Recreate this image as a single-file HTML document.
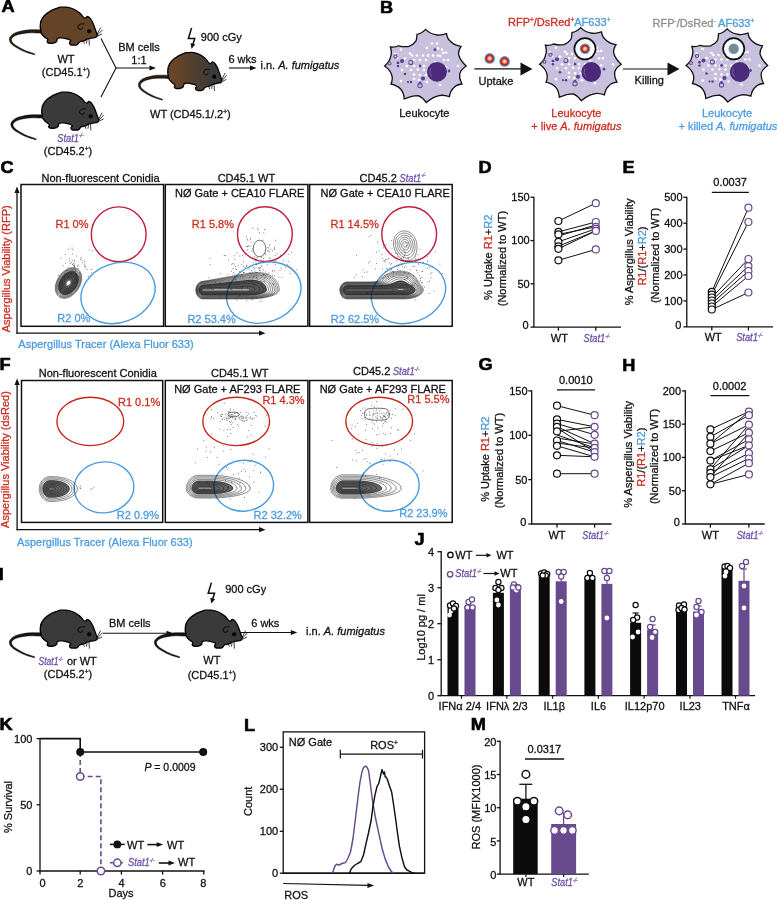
<!DOCTYPE html><html><head><meta charset="utf-8"><style>html,body{margin:0;padding:0;background:#fff;}svg{display:block;will-change:transform;}text{font-family:"Liberation Sans",sans-serif;stroke-width:0.28px;}</style></head><body>
<svg width="778" height="900" viewBox="0 0 778 900" font-family='"Liberation Sans", sans-serif'>
<rect width="778" height="900" fill="#fff"/>
<defs>
<linearGradient id="mg" x1="0" x2="1" y1="0" y2="0"><stop offset="0.1" stop-color="#6a4526"/><stop offset="0.85" stop-color="#3a3a3a"/></linearGradient>
<g id="mB">
<path d="M42.04,29.85 40.97,29.85 39.54,29.82 37.81,29.78 35.89,29.75 33.88,29.73 31.87,29.74 29.93,29.80 28.18,29.92 26.57,30.10 24.96,30.33 23.39,30.60 21.86,30.90 20.40,31.24 19.02,31.59 17.74,31.96 16.58,32.35 15.52,32.76 14.56,33.20 13.70,33.67 12.92,34.16 12.24,34.67 11.63,35.19 11.10,35.71 10.63,36.24 10.21,36.79 9.87,37.37 9.61,37.98 9.44,38.60 9.36,39.23 9.38,39.87 9.48,40.49 9.65,41.09 9.88,41.67 10.17,42.25 10.53,42.82 10.96,43.40 11.47,43.97 12.08,44.56 12.79,45.15 13.61,45.77 14.57,46.42 15.69,47.12 16.92,47.85 18.24,48.59 19.61,49.33 21.00,50.04 22.39,50.70 23.73,51.31 25.13,51.87 26.64,52.41 28.20,52.93 29.74,53.40 31.21,53.84 32.52,54.22 33.62,54.53 34.45,54.78 34.75,53.82 33.93,53.54 32.84,53.18 31.54,52.76 30.09,52.30 28.58,51.78 27.06,51.24 25.60,50.67 24.27,50.09 22.98,49.47 21.65,48.78 20.30,48.05 18.97,47.29 17.71,46.53 16.53,45.79 15.48,45.08 14.59,44.43 13.87,43.84 13.27,43.29 12.78,42.77 12.39,42.28 12.09,41.82 11.86,41.37 11.68,40.93 11.55,40.51 11.47,40.11 11.44,39.74 11.46,39.41 11.53,39.09 11.65,38.77 11.83,38.45 12.06,38.11 12.37,37.76 12.76,37.38 13.20,37.00 13.70,36.62 14.28,36.24 14.93,35.87 15.66,35.51 16.49,35.17 17.42,34.85 18.49,34.54 19.70,34.23 21.01,33.93 22.41,33.66 23.87,33.41 25.38,33.19 26.90,33.01 28.42,32.88 30.05,32.81 31.89,32.79 33.85,32.82 35.82,32.88 37.71,32.96 39.43,33.04 40.88,33.11 41.96,33.15Z" fill="#2a1c10" stroke="#000" stroke-width="0.5" stroke-linejoin="round"/>
<path d="M41.00,30.90 C40.80,28.83 39.90,28.90 40.30,25.30 C40.70,21.70 40.19,21.80 42.40,18.20 C44.61,14.60 44.08,15.40 48.10,12.60 C52.12,9.79 52.61,9.83 56.60,8.30 C60.59,6.77 58.21,7.29 62.20,7.20 C66.20,7.12 65.88,6.47 70.70,8.00 C75.52,9.53 75.32,9.77 79.20,12.60 C83.08,15.43 81.94,16.87 84.40,18.00 C86.87,19.13 85.86,15.89 87.90,16.60 C89.94,17.31 89.73,17.50 91.60,20.50 C93.47,23.50 93.20,23.94 94.50,27.20 C95.80,30.46 95.44,29.82 96.20,32.00 C96.97,34.18 97.17,33.48 97.20,34.90 C97.23,36.32 97.49,36.18 96.30,37.00 C95.11,37.82 95.07,37.35 93.00,37.80 C90.93,38.25 90.93,38.15 89.00,38.60 C87.07,39.05 87.39,38.83 86.20,39.40 C85.01,39.97 86.19,40.06 84.80,40.60 C83.41,41.14 82.89,40.85 81.30,41.30 C79.71,41.75 80.36,41.27 79.20,42.20 C78.04,43.14 78.81,43.78 77.20,44.60 C75.59,45.42 75.40,45.10 73.50,45.10 C71.60,45.10 71.63,45.25 70.50,44.60 C69.37,43.95 69.56,44.05 69.50,42.80 C69.44,41.55 71.58,41.45 70.30,40.20 C69.02,38.95 67.69,39.08 65.00,38.40 C62.31,37.72 62.90,37.74 60.80,37.80 C58.70,37.86 58.88,37.55 57.60,38.60 C56.33,39.65 57.60,40.23 56.30,41.50 C55.00,42.77 55.18,42.68 53.00,43.10 C50.82,43.52 50.24,43.42 48.60,43.00 C46.96,42.58 47.43,42.59 47.20,41.60 C46.97,40.61 48.28,40.58 47.80,39.50 C47.32,38.42 46.97,39.07 45.50,37.80 C44.03,36.52 43.88,36.47 42.60,35.00 C41.33,33.53 41.45,33.76 41.00,32.60 C40.55,31.44 41.20,32.97 41.00,30.90 Z" fill="#644429" stroke="#000" stroke-width="1.3" stroke-linejoin="round"/>
<path d="M84.6,24 C82,23.3 78.6,24 78,26.6 C77.6,28.6 79.6,29.6 81.4,29.2 C82.4,28.9 82.9,28.1 82.6,27.3" fill="none" stroke="#000" stroke-width="0.9"/>
<circle cx="89.2" cy="31.3" r="2.1" fill="#000"/>
<path d="M97,34.5 L100.6,27.6 M97.6,35 L102.4,29.8 M97.8,36 L102,34 M89,38.8 L89.4,45.6 M87,39.5 L86.5,43.6 M83.5,41.5 L84.5,43.8" stroke="#000" stroke-width="0.75" fill="none"/>
<path d="M52,42.2 L52.6,43.4 M74,44 L74.4,45 M56,41 L57.5,42" stroke="#000" stroke-width="0.5"/>
</g>
<g id="mD">
<path d="M42.04,29.85 40.97,29.85 39.54,29.82 37.81,29.78 35.89,29.75 33.88,29.73 31.87,29.74 29.93,29.80 28.18,29.92 26.57,30.10 24.96,30.33 23.39,30.60 21.86,30.90 20.40,31.24 19.02,31.59 17.74,31.96 16.58,32.35 15.52,32.76 14.56,33.20 13.70,33.67 12.92,34.16 12.24,34.67 11.63,35.19 11.10,35.71 10.63,36.24 10.21,36.79 9.87,37.37 9.61,37.98 9.44,38.60 9.36,39.23 9.38,39.87 9.48,40.49 9.65,41.09 9.88,41.67 10.17,42.25 10.53,42.82 10.96,43.40 11.47,43.97 12.08,44.56 12.79,45.15 13.61,45.77 14.57,46.42 15.69,47.12 16.92,47.85 18.24,48.59 19.61,49.33 21.00,50.04 22.39,50.70 23.73,51.31 25.13,51.87 26.64,52.41 28.20,52.93 29.74,53.40 31.21,53.84 32.52,54.22 33.62,54.53 34.45,54.78 34.75,53.82 33.93,53.54 32.84,53.18 31.54,52.76 30.09,52.30 28.58,51.78 27.06,51.24 25.60,50.67 24.27,50.09 22.98,49.47 21.65,48.78 20.30,48.05 18.97,47.29 17.71,46.53 16.53,45.79 15.48,45.08 14.59,44.43 13.87,43.84 13.27,43.29 12.78,42.77 12.39,42.28 12.09,41.82 11.86,41.37 11.68,40.93 11.55,40.51 11.47,40.11 11.44,39.74 11.46,39.41 11.53,39.09 11.65,38.77 11.83,38.45 12.06,38.11 12.37,37.76 12.76,37.38 13.20,37.00 13.70,36.62 14.28,36.24 14.93,35.87 15.66,35.51 16.49,35.17 17.42,34.85 18.49,34.54 19.70,34.23 21.01,33.93 22.41,33.66 23.87,33.41 25.38,33.19 26.90,33.01 28.42,32.88 30.05,32.81 31.89,32.79 33.85,32.82 35.82,32.88 37.71,32.96 39.43,33.04 40.88,33.11 41.96,33.15Z" fill="#151515" stroke="#000" stroke-width="0.5" stroke-linejoin="round"/>
<path d="M41.00,30.90 C40.80,28.83 39.90,28.90 40.30,25.30 C40.70,21.70 40.19,21.80 42.40,18.20 C44.61,14.60 44.08,15.40 48.10,12.60 C52.12,9.79 52.61,9.83 56.60,8.30 C60.59,6.77 58.21,7.29 62.20,7.20 C66.20,7.12 65.88,6.47 70.70,8.00 C75.52,9.53 75.32,9.77 79.20,12.60 C83.08,15.43 81.94,16.87 84.40,18.00 C86.87,19.13 85.86,15.89 87.90,16.60 C89.94,17.31 89.73,17.50 91.60,20.50 C93.47,23.50 93.20,23.94 94.50,27.20 C95.80,30.46 95.44,29.82 96.20,32.00 C96.97,34.18 97.17,33.48 97.20,34.90 C97.23,36.32 97.49,36.18 96.30,37.00 C95.11,37.82 95.07,37.35 93.00,37.80 C90.93,38.25 90.93,38.15 89.00,38.60 C87.07,39.05 87.39,38.83 86.20,39.40 C85.01,39.97 86.19,40.06 84.80,40.60 C83.41,41.14 82.89,40.85 81.30,41.30 C79.71,41.75 80.36,41.27 79.20,42.20 C78.04,43.14 78.81,43.78 77.20,44.60 C75.59,45.42 75.40,45.10 73.50,45.10 C71.60,45.10 71.63,45.25 70.50,44.60 C69.37,43.95 69.56,44.05 69.50,42.80 C69.44,41.55 71.58,41.45 70.30,40.20 C69.02,38.95 67.69,39.08 65.00,38.40 C62.31,37.72 62.90,37.74 60.80,37.80 C58.70,37.86 58.88,37.55 57.60,38.60 C56.33,39.65 57.60,40.23 56.30,41.50 C55.00,42.77 55.18,42.68 53.00,43.10 C50.82,43.52 50.24,43.42 48.60,43.00 C46.96,42.58 47.43,42.59 47.20,41.60 C46.97,40.61 48.28,40.58 47.80,39.50 C47.32,38.42 46.97,39.07 45.50,37.80 C44.03,36.52 43.88,36.47 42.60,35.00 C41.33,33.53 41.45,33.76 41.00,32.60 C40.55,31.44 41.20,32.97 41.00,30.90 Z" fill="#3a3a3a" stroke="#000" stroke-width="1.3" stroke-linejoin="round"/>
<path d="M84.6,24 C82,23.3 78.6,24 78,26.6 C77.6,28.6 79.6,29.6 81.4,29.2 C82.4,28.9 82.9,28.1 82.6,27.3" fill="none" stroke="#000" stroke-width="0.9"/>
<circle cx="89.2" cy="31.3" r="2.1" fill="#000"/>
<path d="M97,34.5 L100.6,27.6 M97.6,35 L102.4,29.8 M97.8,36 L102,34 M89,38.8 L89.4,45.6 M87,39.5 L86.5,43.6 M83.5,41.5 L84.5,43.8" stroke="#000" stroke-width="0.75" fill="none"/>
<path d="M52,42.2 L52.6,43.4 M74,44 L74.4,45 M56,41 L57.5,42" stroke="#000" stroke-width="0.5"/>
</g>
<g id="mG">
<path d="M42.04,29.85 40.97,29.85 39.54,29.82 37.81,29.78 35.89,29.75 33.88,29.73 31.87,29.74 29.93,29.80 28.18,29.92 26.57,30.10 24.96,30.33 23.39,30.60 21.86,30.90 20.40,31.24 19.02,31.59 17.74,31.96 16.58,32.35 15.52,32.76 14.56,33.20 13.70,33.67 12.92,34.16 12.24,34.67 11.63,35.19 11.10,35.71 10.63,36.24 10.21,36.79 9.87,37.37 9.61,37.98 9.44,38.60 9.36,39.23 9.38,39.87 9.48,40.49 9.65,41.09 9.88,41.67 10.17,42.25 10.53,42.82 10.96,43.40 11.47,43.97 12.08,44.56 12.79,45.15 13.61,45.77 14.57,46.42 15.69,47.12 16.92,47.85 18.24,48.59 19.61,49.33 21.00,50.04 22.39,50.70 23.73,51.31 25.13,51.87 26.64,52.41 28.20,52.93 29.74,53.40 31.21,53.84 32.52,54.22 33.62,54.53 34.45,54.78 34.75,53.82 33.93,53.54 32.84,53.18 31.54,52.76 30.09,52.30 28.58,51.78 27.06,51.24 25.60,50.67 24.27,50.09 22.98,49.47 21.65,48.78 20.30,48.05 18.97,47.29 17.71,46.53 16.53,45.79 15.48,45.08 14.59,44.43 13.87,43.84 13.27,43.29 12.78,42.77 12.39,42.28 12.09,41.82 11.86,41.37 11.68,40.93 11.55,40.51 11.47,40.11 11.44,39.74 11.46,39.41 11.53,39.09 11.65,38.77 11.83,38.45 12.06,38.11 12.37,37.76 12.76,37.38 13.20,37.00 13.70,36.62 14.28,36.24 14.93,35.87 15.66,35.51 16.49,35.17 17.42,34.85 18.49,34.54 19.70,34.23 21.01,33.93 22.41,33.66 23.87,33.41 25.38,33.19 26.90,33.01 28.42,32.88 30.05,32.81 31.89,32.79 33.85,32.82 35.82,32.88 37.71,32.96 39.43,33.04 40.88,33.11 41.96,33.15Z" fill="#2a1c10" stroke="#000" stroke-width="0.5" stroke-linejoin="round"/>
<path d="M41.00,30.90 C40.80,28.83 39.90,28.90 40.30,25.30 C40.70,21.70 40.19,21.80 42.40,18.20 C44.61,14.60 44.08,15.40 48.10,12.60 C52.12,9.79 52.61,9.83 56.60,8.30 C60.59,6.77 58.21,7.29 62.20,7.20 C66.20,7.12 65.88,6.47 70.70,8.00 C75.52,9.53 75.32,9.77 79.20,12.60 C83.08,15.43 81.94,16.87 84.40,18.00 C86.87,19.13 85.86,15.89 87.90,16.60 C89.94,17.31 89.73,17.50 91.60,20.50 C93.47,23.50 93.20,23.94 94.50,27.20 C95.80,30.46 95.44,29.82 96.20,32.00 C96.97,34.18 97.17,33.48 97.20,34.90 C97.23,36.32 97.49,36.18 96.30,37.00 C95.11,37.82 95.07,37.35 93.00,37.80 C90.93,38.25 90.93,38.15 89.00,38.60 C87.07,39.05 87.39,38.83 86.20,39.40 C85.01,39.97 86.19,40.06 84.80,40.60 C83.41,41.14 82.89,40.85 81.30,41.30 C79.71,41.75 80.36,41.27 79.20,42.20 C78.04,43.14 78.81,43.78 77.20,44.60 C75.59,45.42 75.40,45.10 73.50,45.10 C71.60,45.10 71.63,45.25 70.50,44.60 C69.37,43.95 69.56,44.05 69.50,42.80 C69.44,41.55 71.58,41.45 70.30,40.20 C69.02,38.95 67.69,39.08 65.00,38.40 C62.31,37.72 62.90,37.74 60.80,37.80 C58.70,37.86 58.88,37.55 57.60,38.60 C56.33,39.65 57.60,40.23 56.30,41.50 C55.00,42.77 55.18,42.68 53.00,43.10 C50.82,43.52 50.24,43.42 48.60,43.00 C46.96,42.58 47.43,42.59 47.20,41.60 C46.97,40.61 48.28,40.58 47.80,39.50 C47.32,38.42 46.97,39.07 45.50,37.80 C44.03,36.52 43.88,36.47 42.60,35.00 C41.33,33.53 41.45,33.76 41.00,32.60 C40.55,31.44 41.20,32.97 41.00,30.90 Z" fill="url(#mg)" stroke="#000" stroke-width="1.3" stroke-linejoin="round"/>
<path d="M84.6,24 C82,23.3 78.6,24 78,26.6 C77.6,28.6 79.6,29.6 81.4,29.2 C82.4,28.9 82.9,28.1 82.6,27.3" fill="none" stroke="#000" stroke-width="0.9"/>
<circle cx="89.2" cy="31.3" r="2.1" fill="#000"/>
<path d="M97,34.5 L100.6,27.6 M97.6,35 L102.4,29.8 M97.8,36 L102,34 M89,38.8 L89.4,45.6 M87,39.5 L86.5,43.6 M83.5,41.5 L84.5,43.8" stroke="#000" stroke-width="0.75" fill="none"/>
<path d="M52,42.2 L52.6,43.4 M74,44 L74.4,45 M56,41 L57.5,42" stroke="#000" stroke-width="0.5"/>
</g>
</defs>
<text transform="translate(1.5,12.2) scale(1.06,1)" font-size="17.2" font-weight="bold" fill="#000" stroke="#000" style="stroke-width:0.6px">A</text>
<use href="#mB" transform="translate(0,0) scale(1.0)"/>
<use href="#mD" transform="translate(1.5,85) scale(1.0)"/>
<use href="#mG" transform="translate(129.5,45.4) scale(0.95,1)"/>
<text x="66" y="62.5" font-size="11" text-anchor="middle" fill="#111" font-weight="normal" font-style="normal"  stroke="#111">WT</text>
<text x="66" y="76" font-size="11" text-anchor="middle" fill="#111" font-weight="normal" font-style="normal"  stroke="#111">(CD45.1<tspan font-size="6.5" dy="-4">+</tspan><tspan dy="4">)</tspan></text>
<text x="70.5" y="141.5" font-size="11" text-anchor="middle" fill="#6c4fa6" font-style="italic" textLength="26.5" lengthAdjust="spacingAndGlyphs" stroke="#6c4fa6">Stat1<tspan font-size="6.1" dy="-4.2">-/-</tspan></text>
<text x="68" y="155" font-size="11" text-anchor="middle" fill="#111" font-weight="normal" font-style="normal"  stroke="#111">(CD45.2<tspan font-size="6.5" dy="-4">+</tspan><tspan dy="4">)</tspan></text>
<path d="M101,38.5 L116,68 L101,97" fill="none" stroke="#111" stroke-width="1.1"/>
<line x1="116" y1="68" x2="150.0" y2="68" stroke="#111" stroke-width="1.1" />
<path d="M156,68 L149.5,65.4 L149.5,70.6 Z" fill="#111"/>
<text x="139" y="51" font-size="11" text-anchor="middle" fill="#111" font-weight="normal" font-style="normal"  stroke="#111">BM cells</text>
<text x="139" y="64" font-size="11" text-anchor="middle" fill="#111" font-weight="normal" font-style="normal"  stroke="#111">1:1</text>
<path d="M191.6,27.9 L188.4,38.5 L194.7,38.599999999999994 L192.9,44.4" fill="none" stroke="#111" stroke-width="1.55" stroke-linejoin="miter"/>
<path d="M190.5,43.099999999999994 L195.29999999999998,44.599999999999994 L191.5,48.7 Z" fill="#111"/>
<text x="200.8" y="41" font-size="11" text-anchor="start" fill="#111" font-weight="normal" font-style="normal"  stroke="#111">900 cGy</text>
<line x1="229" y1="68" x2="250.5" y2="68" stroke="#111" stroke-width="1.1" />
<path d="M256.5,68 L250.0,65.4 L250.0,70.6 Z" fill="#111"/>
<text x="242.5" y="62.8" font-size="11" text-anchor="middle" fill="#111" font-weight="normal" font-style="normal"  stroke="#111">6 wks</text>
<text x="260.5" y="69.3" font-size="11" text-anchor="start" fill="#111" font-weight="normal" font-style="normal"  stroke="#111">i.n. <tspan font-style="italic">A. fumigatus</tspan></text>
<text x="150" y="118.2" font-size="11" text-anchor="start" fill="#111" font-weight="normal" font-style="normal"  stroke="#111">WT (CD45.1/.2<tspan font-size="6.5" dy="-4">+</tspan><tspan dy="4">)</tspan></text>
<text transform="translate(380,13.2) scale(1.06,1)" font-size="17.2" font-weight="bold" fill="#000" stroke="#000" style="stroke-width:0.6px">B</text>
<defs><radialGradient id="cg"><stop offset="0" stop-color="#fdf0e0"/><stop offset="0.55" stop-color="#f2b088"/><stop offset="1" stop-color="#e0502c"/></radialGradient></defs>
<path d="M417.0,34.3 Q421.6,33.7 425.7,29.4 Q430.3,33.9 435.5,34.6 Q440.1,35.9 446.5,33.7 Q447.3,39.2 450.6,41.5 Q454.1,45.2 461.0,46.4 Q458.0,51.5 458.7,55.0 Q460.4,60.8 466.2,66.0 Q460.9,69.6 459.8,73.6 Q459.0,78.1 462.0,84.0 Q456.2,84.7 454.0,87.5 Q450.3,90.7 449.4,96.7 Q443.2,94.5 439.0,95.6 Q432.3,97.2 426.3,102.5 Q422.4,97.2 418.2,95.6 Q412.0,95.6 404.3,99.0 Q403.8,92.6 400.8,89.2 Q397.5,85.5 391.0,84.0 Q393.2,78.6 391.6,74.7 Q390.2,70.1 384.6,66.0 Q389.6,61.9 390.4,57.4 Q392.3,53.0 390.4,47.0 Q396.2,47.5 398.5,45.8 Q404.9,47.2 409.0,46.4 Q413.2,45.0 415.9,41.2 Q416.9,39.3 417.0,34.3 Z" fill="#c8c1de" stroke="#111" stroke-width="1.3" stroke-linejoin="miter"/>
<circle cx="432" cy="43.5" r="1.3" fill="#fff"/>
<circle cx="437" cy="43.5" r="1.3" fill="#fff"/>
<circle cx="427" cy="48" r="1.3" fill="#fff"/>
<circle cx="438" cy="48.5" r="1.3" fill="#fff"/>
<circle cx="442" cy="49.5" r="1.3" fill="#fff"/>
<circle cx="443" cy="53" r="1.3" fill="#fff"/>
<circle cx="446" cy="52.5" r="1.3" fill="#fff"/>
<circle cx="410" cy="53.5" r="1.3" fill="#fff"/>
<circle cx="401" cy="49.5" r="1.3" fill="#fff"/>
<circle cx="412" cy="55.5" r="1.3" fill="#fff"/>
<circle cx="417" cy="55.5" r="1.3" fill="#fff"/>
<circle cx="423" cy="55.5" r="1.3" fill="#fff"/>
<circle cx="428" cy="55.5" r="1.3" fill="#fff"/>
<circle cx="433" cy="55.5" r="1.3" fill="#fff"/>
<circle cx="438" cy="55.5" r="1.3" fill="#fff"/>
<circle cx="440" cy="56" r="1.3" fill="#fff"/>
<circle cx="397" cy="58" r="1.3" fill="#fff"/>
<circle cx="405" cy="58.5" r="1.3" fill="#fff"/>
<circle cx="414" cy="60" r="1.3" fill="#fff"/>
<circle cx="420" cy="60" r="1.3" fill="#fff"/>
<circle cx="426" cy="60" r="1.3" fill="#fff"/>
<circle cx="409" cy="62" r="1.3" fill="#fff"/>
<circle cx="398" cy="64" r="1.3" fill="#fff"/>
<circle cx="407" cy="66" r="1.3" fill="#fff"/>
<circle cx="414" cy="66" r="1.3" fill="#fff"/>
<circle cx="419" cy="66" r="1.3" fill="#fff"/>
<circle cx="424" cy="66" r="1.3" fill="#fff"/>
<circle cx="430" cy="66" r="1.3" fill="#fff"/>
<circle cx="402" cy="70" r="1.3" fill="#fff"/>
<circle cx="411" cy="70" r="1.3" fill="#fff"/>
<circle cx="418" cy="69.5" r="1.3" fill="#fff"/>
<circle cx="424" cy="70" r="1.3" fill="#fff"/>
<circle cx="430" cy="72" r="1.3" fill="#fff"/>
<circle cx="420" cy="75" r="1.3" fill="#fff"/>
<circle cx="426" cy="75" r="1.3" fill="#fff"/>
<circle cx="414" cy="74.5" r="1.3" fill="#fff"/>
<circle cx="401" cy="81" r="1.3" fill="#fff"/>
<circle cx="414" cy="79" r="1.3" fill="#fff"/>
<circle cx="419" cy="80" r="1.3" fill="#fff"/>
<circle cx="427" cy="82" r="1.3" fill="#fff"/>
<circle cx="432" cy="78" r="1.3" fill="#fff"/>
<circle cx="440" cy="85" r="1.3" fill="#fff"/>
<circle cx="446" cy="67" r="1.3" fill="#fff"/>
<circle cx="458" cy="66" r="1.3" fill="#fff"/>
<circle cx="448" cy="60" r="1.3" fill="#fff"/>
<circle cx="444" cy="60" r="1.3" fill="#fff"/>
<circle cx="435" cy="62" r="1.3" fill="#fff"/>
<circle cx="395" cy="54" r="1.3" fill="#fff"/>
<circle cx="435" cy="49.7" r="1.40" fill="#5c3d8e"/>
<circle cx="402" cy="61" r="2.02" fill="#5c3d8e"/>
<circle cx="398" cy="63" r="1.40" fill="#5c3d8e"/>
<circle cx="398" cy="66" r="1.24" fill="#5c3d8e"/>
<circle cx="420" cy="66" r="1.40" fill="#5c3d8e"/>
<circle cx="405" cy="74" r="1.24" fill="#5c3d8e"/>
<circle cx="420" cy="83" r="1.40" fill="#5c3d8e"/>
<circle cx="408" cy="82" r="1.08" fill="#5c3d8e"/>
<circle cx="411" cy="82" r="1.24" fill="#5c3d8e"/>
<circle cx="449" cy="71" r="1.40" fill="#5c3d8e"/>
<circle cx="423" cy="78.5" r="2.02" fill="#5c3d8e"/>
<circle cx="395.5" cy="56.5" r="1.62" fill="none" stroke="#6a4c9e" stroke-width="1.1"/>
<circle cx="389.5" cy="63.5" r="1.49" fill="none" stroke="#6a4c9e" stroke-width="1.1"/>
<circle cx="410.8" cy="62.4" r="2.03" fill="none" stroke="#6a4c9e" stroke-width="1.1"/>
<circle cx="420" cy="85.5" r="2.16" fill="none" stroke="#6a4c9e" stroke-width="1.1"/>
<circle cx="437" cy="71.8" r="9.9" fill="#4b2a7c"/>
<path d="M430.7,68.5 A7,7 0 0 0 431.7,76.5" fill="none" stroke="#9a86c0" stroke-width="0.6"/>
<text x="424.3" y="117" font-size="11" text-anchor="middle" fill="#111" font-weight="normal" font-style="normal"  stroke="#111">Leukocyte</text>
<circle cx="489.7" cy="58.4" r="5.3" fill="#4a9be0"/>
<circle cx="489.7" cy="58.4" r="4.24" fill="#c8201c"/>
<circle cx="489.7" cy="58.4" r="2.65" fill="url(#cg)"/>
<circle cx="504.6" cy="61.4" r="5.3" fill="#4a9be0"/>
<circle cx="504.6" cy="61.4" r="4.24" fill="#c8201c"/>
<circle cx="504.6" cy="61.4" r="2.65" fill="url(#cg)"/>
<line x1="474.4" y1="68.9" x2="522" y2="68.9" stroke="#111" stroke-width="1.2" />
<path d="M532.5,69 L520.5,62.4 L520.5,75.6 Z" fill="#111"/>
<text x="496" y="84.8" font-size="11" text-anchor="middle" fill="#111" font-weight="normal" font-style="normal"  stroke="#111">Uptake</text>
<path d="M572.0,32.5 Q576.6,31.9 580.7,27.6 Q585.3,32.1 590.5,32.8 Q595.1,34.1 601.5,31.9 Q602.3,37.4 605.6,39.7 Q609.1,43.4 616.0,44.6 Q613.0,49.7 613.7,53.2 Q615.4,59.0 621.2,64.2 Q615.9,67.8 614.8,71.8 Q614.0,76.3 617.0,82.2 Q611.2,82.9 609.0,85.7 Q605.3,88.9 604.4,94.9 Q598.2,92.7 594.0,93.8 Q587.3,95.4 581.3,100.7 Q577.4,95.4 573.2,93.8 Q567.0,93.8 559.3,97.2 Q558.8,90.8 555.8,87.4 Q552.5,83.7 546.0,82.2 Q548.2,76.8 546.6,72.9 Q545.2,68.3 539.6,64.2 Q544.6,60.1 545.4,55.6 Q547.3,51.2 545.4,45.2 Q551.2,45.7 553.5,44.0 Q559.9,45.4 564.0,44.6 Q568.2,43.2 570.9,39.4 Q571.9,37.5 572.0,32.5 Z" fill="#c8c1de" stroke="#111" stroke-width="1.3" stroke-linejoin="miter"/>
<circle cx="587" cy="41.7" r="1.3" fill="#fff"/>
<circle cx="592" cy="41.7" r="1.3" fill="#fff"/>
<circle cx="582" cy="46.2" r="1.3" fill="#fff"/>
<circle cx="593" cy="46.7" r="1.3" fill="#fff"/>
<circle cx="597" cy="47.7" r="1.3" fill="#fff"/>
<circle cx="598" cy="51.2" r="1.3" fill="#fff"/>
<circle cx="601" cy="50.7" r="1.3" fill="#fff"/>
<circle cx="565" cy="51.7" r="1.3" fill="#fff"/>
<circle cx="556" cy="47.7" r="1.3" fill="#fff"/>
<circle cx="567" cy="53.7" r="1.3" fill="#fff"/>
<circle cx="572" cy="53.7" r="1.3" fill="#fff"/>
<circle cx="578" cy="53.7" r="1.3" fill="#fff"/>
<circle cx="583" cy="53.7" r="1.3" fill="#fff"/>
<circle cx="588" cy="53.7" r="1.3" fill="#fff"/>
<circle cx="593" cy="53.7" r="1.3" fill="#fff"/>
<circle cx="595" cy="54.2" r="1.3" fill="#fff"/>
<circle cx="552" cy="56.2" r="1.3" fill="#fff"/>
<circle cx="560" cy="56.7" r="1.3" fill="#fff"/>
<circle cx="569" cy="58.2" r="1.3" fill="#fff"/>
<circle cx="575" cy="58.2" r="1.3" fill="#fff"/>
<circle cx="581" cy="58.2" r="1.3" fill="#fff"/>
<circle cx="564" cy="60.2" r="1.3" fill="#fff"/>
<circle cx="553" cy="62.2" r="1.3" fill="#fff"/>
<circle cx="562" cy="64.2" r="1.3" fill="#fff"/>
<circle cx="569" cy="64.2" r="1.3" fill="#fff"/>
<circle cx="574" cy="64.2" r="1.3" fill="#fff"/>
<circle cx="579" cy="64.2" r="1.3" fill="#fff"/>
<circle cx="585" cy="64.2" r="1.3" fill="#fff"/>
<circle cx="557" cy="68.2" r="1.3" fill="#fff"/>
<circle cx="566" cy="68.2" r="1.3" fill="#fff"/>
<circle cx="573" cy="67.7" r="1.3" fill="#fff"/>
<circle cx="579" cy="68.2" r="1.3" fill="#fff"/>
<circle cx="585" cy="70.2" r="1.3" fill="#fff"/>
<circle cx="575" cy="73.2" r="1.3" fill="#fff"/>
<circle cx="581" cy="73.2" r="1.3" fill="#fff"/>
<circle cx="569" cy="72.7" r="1.3" fill="#fff"/>
<circle cx="556" cy="79.2" r="1.3" fill="#fff"/>
<circle cx="569" cy="77.2" r="1.3" fill="#fff"/>
<circle cx="574" cy="78.2" r="1.3" fill="#fff"/>
<circle cx="582" cy="80.2" r="1.3" fill="#fff"/>
<circle cx="587" cy="76.2" r="1.3" fill="#fff"/>
<circle cx="595" cy="83.2" r="1.3" fill="#fff"/>
<circle cx="601" cy="65.2" r="1.3" fill="#fff"/>
<circle cx="613" cy="64.2" r="1.3" fill="#fff"/>
<circle cx="603" cy="58.2" r="1.3" fill="#fff"/>
<circle cx="599" cy="58.2" r="1.3" fill="#fff"/>
<circle cx="590" cy="60.2" r="1.3" fill="#fff"/>
<circle cx="550" cy="52.2" r="1.3" fill="#fff"/>
<circle cx="590" cy="47.900000000000006" r="1.40" fill="#5c3d8e"/>
<circle cx="557" cy="59.2" r="2.02" fill="#5c3d8e"/>
<circle cx="553" cy="61.2" r="1.40" fill="#5c3d8e"/>
<circle cx="553" cy="64.2" r="1.24" fill="#5c3d8e"/>
<circle cx="575" cy="64.2" r="1.40" fill="#5c3d8e"/>
<circle cx="560" cy="72.2" r="1.24" fill="#5c3d8e"/>
<circle cx="575" cy="81.2" r="1.40" fill="#5c3d8e"/>
<circle cx="563" cy="80.2" r="1.08" fill="#5c3d8e"/>
<circle cx="566" cy="80.2" r="1.24" fill="#5c3d8e"/>
<circle cx="604" cy="69.2" r="1.40" fill="#5c3d8e"/>
<circle cx="578" cy="76.7" r="2.02" fill="#5c3d8e"/>
<circle cx="550.5" cy="54.7" r="1.62" fill="none" stroke="#6a4c9e" stroke-width="1.1"/>
<circle cx="544.5" cy="61.7" r="1.49" fill="none" stroke="#6a4c9e" stroke-width="1.1"/>
<circle cx="565.8" cy="60.6" r="2.03" fill="none" stroke="#6a4c9e" stroke-width="1.1"/>
<circle cx="575" cy="83.7" r="2.16" fill="none" stroke="#6a4c9e" stroke-width="1.1"/>
<circle cx="591.2" cy="72" r="9.9" fill="#4b2a7c"/>
<path d="M584.9000000000001,68.7 A7,7 0 0 0 585.9000000000001,76.7" fill="none" stroke="#9a86c0" stroke-width="0.6"/>
<circle cx="585" cy="48.8" r="10.6" fill="#fff" stroke="#111" stroke-width="1.7"/>
<circle cx="585" cy="48.8" r="5.2" fill="#4a9be0"/>
<circle cx="585" cy="48.8" r="4.16" fill="#c8201c"/>
<circle cx="585" cy="48.8" r="2.60" fill="url(#cg)"/>
<text x="508" y="25.7" font-size="11" text-anchor="start" fill="#111" font-weight="normal" font-style="normal"  stroke="#111"><tspan fill="#cc2c20" stroke="#cc2c20">RFP<tspan font-size="6.5" dy="-4">+</tspan><tspan dy="4">/DsRed</tspan><tspan font-size="6.5" dy="-4">+</tspan></tspan><tspan fill="#4a9be0" dy="4" stroke="#4a9be0">AF633</tspan><tspan fill="#4a9be0" font-size="6.5" dy="-4" stroke="#4a9be0">+</tspan></text>
<text x="576.4" y="116.7" font-size="11" text-anchor="middle" fill="#cc2c20" font-weight="normal" font-style="normal"  stroke="#cc2c20">Leukocyte</text>
<text x="576.4" y="130.2" font-size="11" text-anchor="middle" fill="#cc2c20" font-weight="normal" font-style="normal"  stroke="#cc2c20">+ live <tspan font-style="italic">A. fumigatus</tspan></text>
<line x1="622.8" y1="69" x2="669" y2="69" stroke="#111" stroke-width="1.2" />
<path d="M679.5,69 L667.5,62.4 L667.5,75.6 Z" fill="#111"/>
<text x="649.3" y="83.6" font-size="11" text-anchor="middle" fill="#111" font-weight="normal" font-style="normal"  stroke="#111">Killing</text>
<path d="M718.5,33.8 Q723.1,33.2 727.2,28.9 Q731.8,33.4 737.0,34.1 Q741.6,35.4 748.0,33.2 Q748.8,38.7 752.1,41.0 Q755.6,44.7 762.5,45.9 Q759.5,51.0 760.2,54.5 Q761.9,60.3 767.7,65.5 Q762.4,69.1 761.3,73.1 Q760.5,77.6 763.5,83.5 Q757.7,84.2 755.5,87.0 Q751.8,90.2 750.9,96.2 Q744.7,94.0 740.5,95.1 Q733.8,96.7 727.8,102.0 Q723.9,96.7 719.7,95.1 Q713.5,95.1 705.8,98.5 Q705.3,92.1 702.3,88.7 Q699.0,85.0 692.5,83.5 Q694.7,78.1 693.1,74.2 Q691.7,69.6 686.1,65.5 Q691.1,61.4 691.9,56.9 Q693.8,52.5 691.9,46.5 Q697.7,47.0 700.0,45.3 Q706.4,46.7 710.5,45.9 Q714.7,44.5 717.4,40.7 Q718.4,38.8 718.5,33.8 Z" fill="#c8c1de" stroke="#111" stroke-width="1.3" stroke-linejoin="miter"/>
<circle cx="733.5" cy="43.0" r="1.3" fill="#fff"/>
<circle cx="738.5" cy="43.0" r="1.3" fill="#fff"/>
<circle cx="728.5" cy="47.5" r="1.3" fill="#fff"/>
<circle cx="739.5" cy="48.0" r="1.3" fill="#fff"/>
<circle cx="743.5" cy="49.0" r="1.3" fill="#fff"/>
<circle cx="744.5" cy="52.5" r="1.3" fill="#fff"/>
<circle cx="747.5" cy="52.0" r="1.3" fill="#fff"/>
<circle cx="711.5" cy="53.0" r="1.3" fill="#fff"/>
<circle cx="702.5" cy="49.0" r="1.3" fill="#fff"/>
<circle cx="713.5" cy="55.0" r="1.3" fill="#fff"/>
<circle cx="718.5" cy="55.0" r="1.3" fill="#fff"/>
<circle cx="724.5" cy="55.0" r="1.3" fill="#fff"/>
<circle cx="729.5" cy="55.0" r="1.3" fill="#fff"/>
<circle cx="734.5" cy="55.0" r="1.3" fill="#fff"/>
<circle cx="739.5" cy="55.0" r="1.3" fill="#fff"/>
<circle cx="741.5" cy="55.5" r="1.3" fill="#fff"/>
<circle cx="698.5" cy="57.5" r="1.3" fill="#fff"/>
<circle cx="706.5" cy="58.0" r="1.3" fill="#fff"/>
<circle cx="715.5" cy="59.5" r="1.3" fill="#fff"/>
<circle cx="721.5" cy="59.5" r="1.3" fill="#fff"/>
<circle cx="727.5" cy="59.5" r="1.3" fill="#fff"/>
<circle cx="710.5" cy="61.5" r="1.3" fill="#fff"/>
<circle cx="699.5" cy="63.5" r="1.3" fill="#fff"/>
<circle cx="708.5" cy="65.5" r="1.3" fill="#fff"/>
<circle cx="715.5" cy="65.5" r="1.3" fill="#fff"/>
<circle cx="720.5" cy="65.5" r="1.3" fill="#fff"/>
<circle cx="725.5" cy="65.5" r="1.3" fill="#fff"/>
<circle cx="731.5" cy="65.5" r="1.3" fill="#fff"/>
<circle cx="703.5" cy="69.5" r="1.3" fill="#fff"/>
<circle cx="712.5" cy="69.5" r="1.3" fill="#fff"/>
<circle cx="719.5" cy="69.0" r="1.3" fill="#fff"/>
<circle cx="725.5" cy="69.5" r="1.3" fill="#fff"/>
<circle cx="731.5" cy="71.5" r="1.3" fill="#fff"/>
<circle cx="721.5" cy="74.5" r="1.3" fill="#fff"/>
<circle cx="727.5" cy="74.5" r="1.3" fill="#fff"/>
<circle cx="715.5" cy="74.0" r="1.3" fill="#fff"/>
<circle cx="702.5" cy="80.5" r="1.3" fill="#fff"/>
<circle cx="715.5" cy="78.5" r="1.3" fill="#fff"/>
<circle cx="720.5" cy="79.5" r="1.3" fill="#fff"/>
<circle cx="728.5" cy="81.5" r="1.3" fill="#fff"/>
<circle cx="733.5" cy="77.5" r="1.3" fill="#fff"/>
<circle cx="741.5" cy="84.5" r="1.3" fill="#fff"/>
<circle cx="747.5" cy="66.5" r="1.3" fill="#fff"/>
<circle cx="759.5" cy="65.5" r="1.3" fill="#fff"/>
<circle cx="749.5" cy="59.5" r="1.3" fill="#fff"/>
<circle cx="745.5" cy="59.5" r="1.3" fill="#fff"/>
<circle cx="736.5" cy="61.5" r="1.3" fill="#fff"/>
<circle cx="696.5" cy="53.5" r="1.3" fill="#fff"/>
<circle cx="736.5" cy="49.2" r="1.40" fill="#5c3d8e"/>
<circle cx="703.5" cy="60.5" r="2.02" fill="#5c3d8e"/>
<circle cx="699.5" cy="62.5" r="1.40" fill="#5c3d8e"/>
<circle cx="699.5" cy="65.5" r="1.24" fill="#5c3d8e"/>
<circle cx="721.5" cy="65.5" r="1.40" fill="#5c3d8e"/>
<circle cx="706.5" cy="73.5" r="1.24" fill="#5c3d8e"/>
<circle cx="721.5" cy="82.5" r="1.40" fill="#5c3d8e"/>
<circle cx="709.5" cy="81.5" r="1.08" fill="#5c3d8e"/>
<circle cx="712.5" cy="81.5" r="1.24" fill="#5c3d8e"/>
<circle cx="750.5" cy="70.5" r="1.40" fill="#5c3d8e"/>
<circle cx="724.5" cy="78.0" r="2.02" fill="#5c3d8e"/>
<circle cx="697.0" cy="56.0" r="1.62" fill="none" stroke="#6a4c9e" stroke-width="1.1"/>
<circle cx="691.0" cy="63.0" r="1.49" fill="none" stroke="#6a4c9e" stroke-width="1.1"/>
<circle cx="712.3" cy="61.9" r="2.03" fill="none" stroke="#6a4c9e" stroke-width="1.1"/>
<circle cx="721.5" cy="85.0" r="2.16" fill="none" stroke="#6a4c9e" stroke-width="1.1"/>
<circle cx="739.8" cy="72" r="9.9" fill="#4b2a7c"/>
<path d="M733.5,68.7 A7,7 0 0 0 734.5,76.7" fill="none" stroke="#9a86c0" stroke-width="0.6"/>
<circle cx="733.7" cy="48.8" r="10.6" fill="#fff" stroke="#111" stroke-width="1.7"/>
<circle cx="733.7" cy="48.8" r="5.2" fill="#4a9be0"/>
<circle cx="733.7" cy="48.8" r="3.95" fill="#858585"/>
<text x="652.6" y="26.5" font-size="11" text-anchor="start" fill="#111" font-weight="normal" font-style="normal"  stroke="#111"><tspan fill="#8c8c8c" stroke="#8c8c8c">RFP<tspan font-size="6.5" dy="-4">-</tspan><tspan dy="4">/DsRed</tspan><tspan font-size="6.5" dy="-4">-</tspan></tspan><tspan fill="#4a9be0" dy="4" stroke="#4a9be0"> AF633</tspan><tspan fill="#4a9be0" font-size="6.5" dy="-4" stroke="#4a9be0">+</tspan></text>
<text x="727" y="116.7" font-size="11" text-anchor="middle" fill="#4a9be0" font-weight="normal" font-style="normal"  stroke="#4a9be0">Leukocyte</text>
<text x="678.5" y="130.2" font-size="11" text-anchor="start" fill="#4a9be0" font-weight="normal" font-style="normal"  stroke="#4a9be0">+ killed <tspan font-style="italic">A. fumigatus</tspan></text>
<text transform="translate(0.5,172.5) scale(1.06,1)" font-size="17.2" font-weight="bold" fill="#000" stroke="#000" style="stroke-width:0.6px">C</text>
<rect x="21" y="184.5" width="142.6" height="141.8" fill="none" stroke="#111" stroke-width="1.5"/>
<rect x="165.3" y="184.5" width="142.6" height="141.8" fill="none" stroke="#111" stroke-width="1.5"/>
<rect x="309.6" y="184.5" width="142.6" height="141.8" fill="none" stroke="#111" stroke-width="1.5"/>
<line x1="17" y1="333.8" x2="17" y2="192.5" stroke="#111" stroke-width="1.3" />
<path d="M17,186.5 L14.4,193.0 L19.6,193.0 Z" fill="#111"/>
<line x1="16.4" y1="333.2" x2="259.5" y2="333.2" stroke="#111" stroke-width="1.3" />
<path d="M265.5,333.2 L259.0,330.59999999999997 L259.0,335.8 Z" fill="#111"/>
<text transform="translate(10.3,268.8) rotate(-90)" font-size="11" text-anchor="middle" fill="#cc2c20" stroke="#cc2c20">Aspergillus Viability (RFP)</text>
<text x="18.3" y="348.4" font-size="11" text-anchor="start" fill="#4a9be0" font-weight="normal" font-style="normal"  stroke="#4a9be0">Aspergillus Tracer (Alexa Fluor 633)</text>
<text x="100.5" y="181.9" font-size="11" text-anchor="middle" fill="#111" font-weight="normal" font-style="normal"  stroke="#111">Non-fluorescent Conidia</text>
<text x="246.4" y="181.6" font-size="11" text-anchor="middle" fill="#111" font-weight="normal" font-style="normal"  stroke="#111">CD45.1 WT</text>
<text x="359.6" y="181.6" font-size="11" text-anchor="start" fill="#111" font-weight="normal" font-style="normal"  stroke="#111">CD45.2 </text>
<text x="399.5" y="181.6" font-size="11" text-anchor="start" fill="#6c4fa6" font-style="italic" textLength="26.5" lengthAdjust="spacingAndGlyphs" stroke="#6c4fa6">Stat1<tspan font-size="6.1" dy="-4.2">-/-</tspan></text>
<text x="239.6" y="196.6" font-size="11" text-anchor="middle" fill="#111" font-weight="normal" font-style="normal"  stroke="#111">NØ Gate + CEA10 FLARE</text>
<text x="385.2" y="196.6" font-size="11" text-anchor="middle" fill="#111" font-weight="normal" font-style="normal"  stroke="#111">NØ Gate + CEA10 FLARE</text>
<ellipse cx="118.7" cy="234.3" rx="27.4" ry="27.4" fill="none" stroke="#c21c3c" stroke-width="1.4"/>
<ellipse cx="118" cy="292.9" rx="38" ry="29.6" transform="rotate(-20 118 292.9)" fill="none" stroke="#4a9be0" stroke-width="1.4"/>
<ellipse cx="264.9" cy="234.1" rx="27.4" ry="27.4" fill="none" stroke="#c21c3c" stroke-width="1.4"/>
<ellipse cx="263.8" cy="292.6" rx="38" ry="29.6" transform="rotate(-20 263.8 292.6)" fill="none" stroke="#4a9be0" stroke-width="1.4"/>
<ellipse cx="409.2" cy="234.1" rx="27.4" ry="27.4" fill="none" stroke="#c21c3c" stroke-width="1.4"/>
<ellipse cx="408.5" cy="292.9" rx="38" ry="29.6" transform="rotate(-20 408.5 292.9)" fill="none" stroke="#4a9be0" stroke-width="1.4"/>
<text x="88.5" y="228.2" font-size="11" text-anchor="end" fill="#cc2c20" font-weight="normal" font-style="normal"  stroke="#cc2c20">R1 0%</text>
<text x="234" y="227.9" font-size="11" text-anchor="end" fill="#cc2c20" font-weight="normal" font-style="normal"  stroke="#cc2c20">R1 5.8%</text>
<text x="378.8" y="227.9" font-size="11" text-anchor="end" fill="#cc2c20" font-weight="normal" font-style="normal"  stroke="#cc2c20">R1 14.5%</text>
<text x="57.3" y="322" font-size="11" text-anchor="start" fill="#4a9be0" font-weight="normal" font-style="normal"  stroke="#4a9be0">R2 0%</text>
<text x="187.4" y="322.5" font-size="11" text-anchor="start" fill="#4a9be0" font-weight="normal" font-style="normal"  stroke="#4a9be0">R2 53.4%</text>
<text x="330.8" y="322.5" font-size="11" text-anchor="start" fill="#4a9be0" font-weight="normal" font-style="normal"  stroke="#4a9be0">R2 62.5%</text>
<path d="M76.8,279.3h0.01M68.5,276.9h0.01M73.9,265.6h0.01M91.2,269.4h0.01M75.7,274.6h0.01M85.0,267.7h0.01M80.7,259.2h0.01M73.1,264.1h0.01M65.3,254.4h0.01M63.0,265.9h0.01M74.6,265.1h0.01M76.6,256.0h0.01M75.4,270.1h0.01M82.0,260.4h0.01M72.8,249.9h0.01M72.0,248.2h0.01M64.6,277.9h0.01M58.4,275.2h0.01M78.6,265.2h0.01M79.7,272.7h0.01M84.4,265.9h0.01M71.3,262.6h0.01M68.1,267.6h0.01M69.7,277.6h0.01M61.0,258.2h0.01M68.4,249.2h0.01M73.7,263.3h0.01M89.2,250.1h0.01M84.6,261.4h0.01M74.8,262.0h0.01M81.1,257.8h0.01M75.4,271.2h0.01M88.2,276.5h0.01M72.1,270.7h0.01M72.3,282.8h0.01M77.7,266.1h0.01M74.2,266.2h0.01M74.6,260.1h0.01M92.5,250.8h0.01M74.8,271.4h0.01M74.4,266.7h0.01M78.7,276.7h0.01M72.4,264.6h0.01M91.5,272.8h0.01M68.1,288.9h0.01M82.2,262.7h0.01M66.6,270.7h0.01M69.3,258.5h0.01M65.6,263.4h0.01M84.9,264.1h0.01M64.4,274.0h0.01M76.5,275.6h0.01M85.6,266.5h0.01M74.8,267.6h0.01M66.9,274.0h0.01M87.0,269.6h0.01M74.1,265.7h0.01M69.8,260.8h0.01M72.8,260.4h0.01M72.5,253.8h0.01M78.8,268.4h0.01M75.9,277.9h0.01M70.1,263.7h0.01M71.5,273.9h0.01M68.7,276.9h0.01M73.6,276.3h0.01" stroke="#555" stroke-width="0.9" stroke-linecap="round"/>
<path d="M65.0,294.9 64.6,294.9 63.9,294.8 63.2,294.7 62.8,294.6 62.1,294.3 61.8,294.1 61.4,293.9 60.9,293.5 60.5,293.1 60.2,292.8 59.9,292.4 59.6,292.1 59.4,291.6 59.1,291.1 58.9,290.7 58.7,290.0 58.6,289.6 58.4,288.9 58.3,288.2 58.3,287.9 58.2,287.2 58.3,286.5 58.3,285.9 58.3,285.4 58.4,284.8 58.6,284.1 58.7,283.7 58.8,283.0 59.0,282.5 59.2,281.9 59.4,281.5 59.6,280.9 59.8,280.6 60.0,280.0 60.3,279.5 60.5,279.1 60.8,278.7 61.1,278.1 61.4,277.8 61.6,277.4 61.9,277.1 62.1,276.7 62.5,276.3 62.8,275.9 63.2,275.5 63.5,275.1 63.9,274.8 64.2,274.5 64.6,274.2 65.0,273.9 65.4,273.6 65.9,273.2 66.3,272.9 66.7,272.7 67.0,272.5 67.7,272.1 68.1,272.0 68.5,271.8 69.2,271.6 69.5,271.4 70.2,271.3 70.9,271.2 71.6,271.1 72.0,271.1 72.3,271.1 73.0,271.2 73.7,271.3 74.2,271.4 74.8,271.7 75.1,271.8 75.6,272.1 76.1,272.5 76.5,272.9 76.8,273.2 77.1,273.6 77.4,273.9 77.6,274.2 77.9,274.9 78.1,275.3 78.2,275.7 78.4,276.4 78.6,277.1 78.6,277.4 78.7,278.1 78.8,278.8 78.7,279.5 78.7,280.2 78.6,280.9 78.6,281.2 78.4,281.9 78.2,282.6 78.2,283.0 77.9,283.7 77.8,284.1 77.5,284.7 77.4,285.1 77.2,285.5 76.9,286.1 76.7,286.5 76.5,286.9 76.2,287.5 75.9,287.9 75.6,288.2 75.4,288.6 75.1,289.0 74.8,289.4 74.4,289.9 74.0,290.3 73.7,290.6 73.3,291.0 73.0,291.3 72.7,291.6 72.3,291.9 72.0,292.2 71.6,292.5 71.1,292.8 70.6,293.1 70.2,293.4 69.8,293.6 69.3,293.9 68.8,294.1 68.5,294.2 67.8,294.5 67.4,294.6 66.7,294.7 66.0,294.8 65.3,294.9 65.0,294.9Z M68.1,285.9 67.4,285.9 67.0,285.8 66.5,285.4 66.2,285.1 66.0,284.4 66.0,284.1 66.0,283.7 66.1,283.0 66.3,282.4 66.6,281.9 66.8,281.6 67.1,281.2 67.5,280.9 67.9,280.6 68.5,280.3 68.8,280.2 69.5,280.1 70.0,280.2 70.5,280.6 70.7,280.9 70.9,281.2 71.0,281.9 71.0,282.6 70.9,283.0 70.6,283.7 70.4,284.1 70.2,284.4 69.8,284.8 69.5,285.1 69.1,285.4 68.5,285.8 68.1,285.9Z" fill="#111" fill-opacity="0.7" fill-rule="evenodd"/>
<path d="M66.3,298.1 65.7,298.2 65.0,298.3 64.2,298.3 63.5,298.3 62.8,298.2 62.1,298.1 61.8,298.0 61.1,297.8 60.8,297.7 60.0,297.4 59.7,297.2 59.4,297.0 58.9,296.6 58.5,296.3 58.1,295.9 57.8,295.6 57.5,295.2 57.2,294.9 56.9,294.4 56.6,293.9 56.4,293.5 56.2,293.0 56.0,292.4 55.9,292.0 55.7,291.4 55.5,290.7 55.5,290.4 55.4,289.6 55.3,288.9 55.3,288.2 55.3,287.6 55.4,286.9 55.4,286.1 55.5,285.7 55.6,285.1 55.7,284.4 55.9,283.9 56.0,283.4 56.2,282.6 56.3,282.3 56.5,281.6 56.7,281.2 56.9,280.7 57.1,280.2 57.3,279.9 57.6,279.2 57.8,278.8 58.0,278.4 58.3,277.9 58.6,277.4 58.8,277.1 59.0,276.7 59.4,276.2 59.7,275.7 60.0,275.3 60.3,274.9 60.6,274.6 60.8,274.2 61.2,273.9 61.5,273.6 61.8,273.2 62.2,272.9 62.5,272.5 62.9,272.1 63.3,271.8 63.7,271.4 64.1,271.1 64.6,270.8 65.0,270.5 65.3,270.3 65.7,270.0 66.2,269.7 66.7,269.4 67.0,269.2 67.5,269.0 68.1,268.7 68.5,268.6 69.2,268.3 69.5,268.2 70.2,268.0 70.6,267.9 71.2,267.8 72.0,267.7 72.7,267.7 73.3,267.7 74.0,267.8 74.8,267.9 75.1,267.9 75.8,268.1 76.2,268.3 76.8,268.6 77.2,268.8 77.6,269.0 78.1,269.4 78.5,269.7 78.9,270.1 79.2,270.4 79.5,270.8 79.8,271.1 80.0,271.5 80.3,272.1 80.6,272.5 80.7,272.9 81.0,273.6 81.1,273.9 81.3,274.6 81.4,275.0 81.5,275.6 81.6,276.4 81.7,277.1 81.7,277.8 81.7,278.4 81.6,279.1 81.6,279.9 81.5,280.6 81.4,280.9 81.3,281.6 81.1,282.3 81.0,282.6 80.8,283.4 80.7,283.7 80.5,284.4 80.3,284.8 80.0,285.4 79.9,285.8 79.7,286.3 79.4,286.9 79.2,287.2 78.9,287.7 78.6,288.2 78.4,288.6 78.2,288.9 77.9,289.4 77.5,289.9 77.3,290.4 77.0,290.7 76.7,291.1 76.4,291.4 76.1,291.8 75.8,292.2 75.5,292.5 75.1,292.9 74.8,293.3 74.4,293.6 74.0,293.9 73.7,294.2 73.3,294.6 72.9,294.9 72.4,295.2 72.0,295.6 71.6,295.8 71.2,296.0 70.8,296.3 70.2,296.6 69.8,296.8 69.5,297.0 68.8,297.3 68.5,297.4 67.8,297.7 67.4,297.8 66.7,298.0 66.3,298.1Z M66.0,297.4 65.3,297.5 64.6,297.5 63.9,297.5 63.2,297.5 62.5,297.4 62.1,297.3 61.5,297.1 61.1,296.9 60.5,296.6 60.0,296.4 59.7,296.2 59.4,295.9 59.0,295.6 58.6,295.2 58.3,294.9 58.0,294.5 57.6,294.0 57.3,293.5 57.1,293.1 56.9,292.7 56.7,292.1 56.5,291.8 56.3,291.1 56.2,290.4 56.1,290.0 56.0,289.3 56.0,288.6 56.0,287.9 56.0,287.2 56.0,286.5 56.1,285.8 56.2,285.2 56.3,284.8 56.4,284.1 56.5,283.6 56.7,283.0 56.9,282.4 57.0,281.9 57.2,281.4 57.4,280.9 57.6,280.5 57.9,279.9 58.1,279.5 58.3,279.0 58.6,278.4 58.8,278.1 59.0,277.8 59.4,277.2 59.7,276.7 59.9,276.4 60.2,276.0 60.4,275.6 60.8,275.3 61.1,274.8 61.5,274.4 61.8,274.0 62.1,273.7 62.5,273.3 62.8,273.0 63.2,272.7 63.5,272.3 63.9,272.1 64.2,271.8 64.7,271.4 65.2,271.1 65.7,270.8 66.0,270.6 66.3,270.3 66.9,270.1 67.4,269.8 67.8,269.6 68.4,269.4 68.8,269.2 69.4,269.0 69.8,268.9 70.5,268.7 70.9,268.6 71.6,268.5 72.3,268.5 73.0,268.5 73.7,268.5 74.4,268.6 74.8,268.7 75.5,268.9 75.8,269.0 76.5,269.3 76.8,269.5 77.2,269.7 77.6,270.1 78.0,270.4 78.4,270.8 78.7,271.1 79.0,271.4 79.3,271.8 79.7,272.4 79.9,272.9 80.1,273.2 80.3,273.9 80.5,274.2 80.7,274.9 80.7,275.3 80.9,276.0 81.0,276.7 81.0,277.4 81.0,278.1 81.0,278.8 81.0,279.5 80.9,280.2 80.8,280.9 80.7,281.3 80.6,281.9 80.4,282.6 80.3,283.0 80.1,283.7 80.0,284.1 79.7,284.8 79.6,285.1 79.3,285.7 79.1,286.1 78.9,286.5 78.6,287.2 78.4,287.6 78.2,287.9 77.9,288.4 77.5,288.9 77.3,289.3 77.1,289.6 76.8,290.0 76.5,290.4 76.2,290.9 75.8,291.3 75.5,291.7 75.1,292.1 74.8,292.4 74.4,292.8 74.0,293.1 73.7,293.4 73.3,293.7 73.0,294.0 72.7,294.3 72.3,294.6 71.8,294.9 71.3,295.2 70.9,295.5 70.5,295.7 70.1,295.9 69.5,296.3 69.2,296.4 68.6,296.6 68.1,296.9 67.6,297.0 67.0,297.2 66.3,297.3 66.0,297.4Z M65.7,296.7 65.0,296.7 64.2,296.7 63.5,296.7 63.2,296.6 62.5,296.5 61.8,296.3 61.5,296.2 61.0,295.9 60.4,295.6 60.0,295.4 59.7,295.1 59.4,294.8 59.0,294.4 58.6,294.0 58.3,293.5 58.0,293.1 57.8,292.8 57.6,292.3 57.4,291.8 57.2,291.4 57.0,290.7 56.9,290.1 56.8,289.6 56.7,288.9 56.7,288.2 56.7,287.6 56.7,286.9 56.7,286.1 56.8,285.4 56.9,285.0 57.0,284.4 57.2,283.7 57.3,283.4 57.5,282.6 57.6,282.2 57.8,281.6 58.0,281.2 58.2,280.6 58.4,280.2 58.6,279.7 58.9,279.1 59.1,278.8 59.4,278.4 59.7,277.8 59.9,277.4 60.2,277.1 60.4,276.7 60.8,276.2 61.1,275.8 61.5,275.4 61.8,275.0 62.1,274.6 62.4,274.2 62.8,273.9 63.1,273.6 63.5,273.2 63.9,272.9 64.2,272.6 64.6,272.3 65.0,272.0 65.3,271.8 65.8,271.4 66.3,271.1 66.7,270.9 67.0,270.7 67.7,270.4 68.1,270.2 68.5,270.1 69.2,269.8 69.6,269.7 70.2,269.5 70.9,269.4 71.2,269.3 72.0,269.3 72.7,269.3 73.3,269.3 73.7,269.4 74.4,269.5 75.1,269.7 75.5,269.8 76.0,270.1 76.5,270.3 76.8,270.6 77.2,270.8 77.5,271.1 77.9,271.5 78.2,271.9 78.6,272.3 78.9,272.8 79.2,273.2 79.3,273.6 79.6,274.2 79.8,274.6 80.0,275.3 80.0,275.6 80.2,276.4 80.3,277.1 80.3,277.8 80.3,278.4 80.3,279.1 80.3,279.9 80.2,280.6 80.1,281.2 80.0,281.6 79.8,282.3 79.7,283.0 79.5,283.4 79.3,284.1 79.2,284.4 78.9,285.0 78.8,285.4 78.6,285.8 78.3,286.5 78.1,286.9 77.9,287.2 77.5,287.8 77.3,288.2 77.1,288.6 76.8,288.9 76.5,289.4 76.2,289.9 75.8,290.3 75.5,290.7 75.2,291.1 74.9,291.4 74.6,291.8 74.2,292.1 73.9,292.4 73.5,292.8 73.1,293.1 72.7,293.5 72.3,293.8 72.0,294.0 71.6,294.3 71.2,294.6 70.6,294.9 70.2,295.1 69.8,295.3 69.3,295.6 68.8,295.8 68.5,296.0 67.8,296.2 67.4,296.3 66.7,296.5 66.0,296.6 65.7,296.7Z M66.7,295.7 66.0,295.8 65.3,295.9 64.6,295.9 63.9,295.8 63.2,295.7 62.7,295.6 62.1,295.4 61.7,295.2 61.1,294.9 60.8,294.7 60.4,294.5 60.0,294.2 59.7,293.8 59.4,293.4 59.0,293.0 58.7,292.4 58.5,292.1 58.3,291.8 58.0,291.1 57.9,290.7 57.7,290.0 57.6,289.5 57.5,288.9 57.4,288.2 57.4,287.6 57.4,286.9 57.4,286.1 57.5,285.4 57.6,285.0 57.7,284.4 57.9,283.7 58.0,283.4 58.1,282.6 58.3,282.2 58.5,281.6 58.7,281.2 58.9,280.6 59.1,280.2 59.4,279.7 59.6,279.1 59.8,278.8 60.0,278.4 60.4,277.9 60.7,277.4 60.9,277.1 61.2,276.7 61.5,276.4 61.8,275.9 62.1,275.5 62.5,275.1 62.8,274.8 63.2,274.4 63.5,274.1 63.9,273.7 64.2,273.4 64.6,273.2 65.0,272.9 65.5,272.5 66.0,272.2 66.3,271.9 66.7,271.7 67.2,271.4 67.8,271.2 68.1,271.0 68.8,270.8 69.2,270.6 69.8,270.4 70.2,270.3 70.9,270.2 71.6,270.1 72.3,270.1 73.0,270.1 73.7,270.2 74.3,270.4 74.8,270.5 75.3,270.8 75.8,271.0 76.2,271.2 76.5,271.5 76.9,271.8 77.3,272.1 77.6,272.5 77.9,272.9 78.2,273.4 78.5,273.9 78.7,274.2 78.9,274.8 79.1,275.3 79.3,276.0 79.4,276.4 79.5,277.1 79.6,277.8 79.6,278.4 79.6,279.1 79.6,279.9 79.5,280.6 79.4,281.2 79.3,281.6 79.1,282.3 79.0,283.0 78.9,283.4 78.6,284.1 78.5,284.4 78.2,285.0 78.1,285.4 77.9,285.8 77.5,286.5 77.4,286.9 77.2,287.2 76.8,287.7 76.5,288.2 76.3,288.6 76.1,288.9 75.8,289.3 75.5,289.7 75.1,290.2 74.8,290.6 74.4,291.0 74.0,291.3 73.7,291.7 73.3,292.0 73.0,292.3 72.7,292.6 72.3,292.9 72.0,293.2 71.5,293.5 71.0,293.9 70.5,294.1 70.2,294.3 69.8,294.6 69.2,294.9 68.8,295.0 68.2,295.2 67.8,295.4 67.0,295.6 66.7,295.7Z M66.0,294.9 65.3,295.0 64.6,295.0 64.0,294.9 63.5,294.8 62.8,294.6 62.5,294.5 61.8,294.2 61.5,294.0 61.1,293.7 60.8,293.5 60.4,293.1 60.0,292.8 59.7,292.3 59.4,291.8 59.1,291.4 59.0,291.1 58.7,290.4 58.6,290.0 58.4,289.3 58.3,288.6 58.2,288.2 58.2,287.6 58.2,286.9 58.2,286.1 58.3,285.4 58.3,285.1 58.4,284.4 58.6,283.7 58.7,283.4 58.9,282.6 59.0,282.3 59.3,281.6 59.4,281.2 59.7,280.6 59.9,280.2 60.0,279.8 60.4,279.2 60.6,278.8 60.8,278.4 61.1,278.0 61.5,277.5 61.8,277.1 62.1,276.7 62.3,276.4 62.6,276.0 63.0,275.6 63.3,275.3 63.6,274.9 64.0,274.6 64.4,274.2 64.8,273.9 65.3,273.6 65.7,273.3 66.0,273.0 66.3,272.8 66.9,272.5 67.4,272.2 67.8,272.0 68.3,271.8 68.8,271.6 69.3,271.4 69.8,271.3 70.5,271.1 70.9,271.1 71.6,271.0 72.3,271.0 73.0,271.1 73.3,271.2 74.0,271.3 74.4,271.4 75.1,271.8 75.5,272.0 75.8,272.2 76.2,272.5 76.6,272.9 76.9,273.2 77.2,273.6 77.5,274.1 77.9,274.6 78.0,274.9 78.2,275.5 78.4,276.0 78.6,276.7 78.7,277.1 78.8,277.8 78.8,278.4 78.8,279.1 78.8,279.9 78.7,280.6 78.6,281.2 78.6,281.6 78.4,282.3 78.2,282.9 78.1,283.4 77.9,284.0 77.7,284.4 77.5,284.9 77.3,285.4 77.1,285.8 76.8,286.4 76.6,286.9 76.4,287.2 76.2,287.6 75.8,288.1 75.5,288.6 75.2,288.9 74.9,289.3 74.7,289.6 74.4,290.0 74.0,290.4 73.7,290.7 73.3,291.1 73.0,291.4 72.6,291.8 72.2,292.1 71.7,292.4 71.2,292.8 70.9,293.0 70.5,293.3 70.1,293.5 69.5,293.8 69.2,294.0 68.7,294.2 68.1,294.4 67.7,294.6 67.0,294.7 66.3,294.9 66.0,294.9Z M66.7,293.9 66.0,294.0 65.3,294.0 64.6,294.0 64.0,293.9 63.5,293.8 62.8,293.5 62.5,293.3 62.1,293.1 61.6,292.8 61.2,292.4 60.9,292.1 60.6,291.8 60.3,291.4 60.0,291.0 59.7,290.4 59.6,290.0 59.4,289.3 59.3,288.9 59.1,288.2 59.1,287.6 59.0,286.9 59.1,286.1 59.1,285.4 59.2,284.8 59.3,284.1 59.4,283.7 59.6,283.0 59.7,282.6 59.9,281.9 60.1,281.6 60.4,280.9 60.5,280.6 60.8,280.1 61.1,279.5 61.3,279.1 61.5,278.8 61.8,278.3 62.1,277.8 62.5,277.4 62.7,277.1 63.0,276.7 63.3,276.4 63.7,276.0 64.0,275.6 64.4,275.3 64.8,274.9 65.2,274.6 65.7,274.3 66.0,274.0 66.3,273.8 66.7,273.5 67.3,273.2 67.8,273.0 68.1,272.8 68.8,272.5 69.2,272.4 69.8,272.2 70.3,272.1 70.9,272.1 71.6,272.0 72.3,272.0 73.0,272.1 73.3,272.2 74.0,272.5 74.4,272.6 74.8,272.9 75.4,273.2 75.8,273.6 76.1,273.9 76.4,274.2 76.7,274.6 76.9,274.9 77.2,275.5 77.4,276.0 77.5,276.5 77.7,277.1 77.8,277.8 77.9,278.2 78.0,278.8 78.0,279.5 77.9,280.2 77.9,280.6 77.8,281.2 77.7,281.9 77.5,282.5 77.4,283.0 77.2,283.7 77.1,284.1 76.8,284.6 76.6,285.1 76.5,285.4 76.2,286.1 75.9,286.5 75.7,286.9 75.5,287.3 75.1,287.8 74.8,288.2 74.5,288.6 74.3,288.9 74.0,289.3 73.7,289.6 73.3,290.0 73.0,290.4 72.6,290.7 72.2,291.1 71.8,291.4 71.3,291.8 70.9,292.1 70.5,292.3 70.2,292.5 69.7,292.8 69.2,293.1 68.8,293.2 68.1,293.5 67.8,293.6 67.0,293.8 66.7,293.9Z M66.7,292.8 66.0,292.9 65.3,292.9 64.6,292.8 64.2,292.7 63.5,292.5 63.2,292.4 62.7,292.1 62.2,291.8 61.8,291.4 61.5,291.1 61.2,290.7 61.0,290.4 60.8,289.9 60.5,289.3 60.4,288.9 60.2,288.2 60.1,287.6 60.0,287.2 60.0,286.5 60.0,285.8 60.0,285.1 60.1,284.8 60.2,284.1 60.4,283.4 60.5,283.0 60.7,282.3 60.8,281.9 61.1,281.3 61.3,280.9 61.5,280.5 61.8,279.9 62.0,279.5 62.2,279.1 62.5,278.7 62.8,278.2 63.2,277.8 63.5,277.4 63.8,277.1 64.1,276.7 64.5,276.4 64.9,276.0 65.3,275.6 65.7,275.3 66.0,275.1 66.3,274.8 66.7,274.6 67.3,274.2 67.8,274.0 68.1,273.8 68.8,273.6 69.2,273.5 69.8,273.3 70.2,273.2 70.9,273.1 71.6,273.1 72.3,273.2 72.7,273.2 73.3,273.4 73.7,273.6 74.3,273.9 74.8,274.2 75.1,274.5 75.5,274.9 75.8,275.3 76.0,275.6 76.2,276.0 76.5,276.7 76.6,277.1 76.8,277.8 76.9,278.1 77.0,278.8 77.0,279.5 77.0,280.2 77.0,280.9 76.9,281.6 76.8,281.9 76.6,282.6 76.5,283.1 76.3,283.7 76.2,284.1 75.9,284.8 75.7,285.1 75.5,285.7 75.2,286.1 75.0,286.5 74.8,286.9 74.4,287.4 74.1,287.9 73.8,288.2 73.5,288.6 73.2,288.9 72.9,289.3 72.5,289.6 72.1,290.0 71.7,290.4 71.3,290.7 70.9,291.0 70.5,291.2 70.2,291.5 69.7,291.8 69.2,292.0 68.8,292.2 68.1,292.4 67.8,292.6 67.0,292.8 66.7,292.8Z M67.8,291.4 67.0,291.6 66.3,291.7 65.7,291.7 65.0,291.6 64.3,291.4 63.9,291.2 63.5,291.0 63.0,290.7 62.6,290.4 62.3,290.0 62.1,289.6 61.8,289.2 61.5,288.6 61.4,288.2 61.2,287.6 61.1,287.0 61.0,286.5 61.0,285.8 61.1,285.1 61.1,284.8 61.2,284.1 61.4,283.4 61.5,283.0 61.7,282.3 61.8,281.9 62.1,281.2 62.3,280.9 62.5,280.5 62.8,279.9 63.1,279.5 63.3,279.1 63.6,278.8 63.9,278.4 64.2,277.9 64.6,277.6 65.0,277.2 65.3,276.9 65.7,276.6 66.0,276.3 66.4,276.0 66.9,275.6 67.4,275.4 67.8,275.2 68.2,274.9 68.8,274.7 69.2,274.6 69.8,274.4 70.5,274.3 71.2,274.3 72.0,274.4 72.7,274.6 73.0,274.7 73.4,274.9 74.0,275.3 74.4,275.6 74.7,276.0 74.9,276.4 75.2,276.7 75.5,277.3 75.6,277.8 75.8,278.4 75.9,278.8 76.0,279.5 76.0,280.2 75.9,280.9 75.8,281.6 75.8,281.9 75.6,282.6 75.5,283.3 75.3,283.7 75.1,284.2 74.9,284.8 74.7,285.1 74.4,285.7 74.1,286.1 73.9,286.5 73.7,286.9 73.3,287.3 73.0,287.8 72.7,288.2 72.3,288.5 72.0,288.9 71.6,289.2 71.2,289.5 70.9,289.8 70.5,290.1 70.1,290.4 69.5,290.7 69.2,290.9 68.8,291.1 68.1,291.3 67.8,291.4Z M67.8,290.1 67.0,290.2 66.3,290.2 65.7,290.2 65.0,290.0 64.6,289.8 64.2,289.6 63.8,289.3 63.4,288.9 63.1,288.6 62.8,288.1 62.6,287.6 62.5,287.2 62.3,286.5 62.3,285.8 62.3,285.1 62.3,284.4 62.4,283.7 62.5,283.4 62.7,282.6 62.9,282.3 63.1,281.6 63.3,281.2 63.5,280.8 63.9,280.2 64.1,279.9 64.4,279.5 64.6,279.1 65.0,278.8 65.3,278.4 65.7,278.0 66.0,277.7 66.4,277.4 66.9,277.1 67.4,276.7 67.8,276.5 68.1,276.3 68.8,276.1 69.2,276.0 69.8,275.8 70.5,275.8 71.2,275.8 72.0,276.0 72.3,276.1 72.8,276.4 73.2,276.7 73.6,277.1 73.8,277.4 74.1,277.8 74.4,278.4 74.5,278.8 74.7,279.5 74.7,280.2 74.7,280.9 74.7,281.6 74.6,282.3 74.4,282.9 74.3,283.4 74.0,283.9 73.9,284.4 73.7,284.8 73.3,285.4 73.1,285.8 72.9,286.1 72.6,286.5 72.3,286.9 72.0,287.3 71.6,287.7 71.2,288.0 70.9,288.4 70.5,288.6 70.1,288.9 69.6,289.3 69.2,289.5 68.8,289.7 68.1,290.0 67.8,290.1Z M68.1,288.3 67.4,288.4 66.7,288.4 66.0,288.3 65.7,288.2 65.1,287.9 64.7,287.6 64.5,287.2 64.2,286.9 64.0,286.1 63.9,285.8 63.8,285.1 63.8,284.4 63.9,283.8 64.0,283.4 64.2,282.6 64.3,282.3 64.6,281.7 64.8,281.2 65.0,280.9 65.3,280.5 65.7,280.0 66.0,279.6 66.3,279.3 66.7,279.0 67.0,278.7 67.4,278.4 68.0,278.1 68.5,277.9 68.8,277.8 69.5,277.6 70.2,277.5 70.9,277.6 71.2,277.8 71.9,278.1 72.3,278.4 72.5,278.8 72.7,279.1 73.0,279.8 73.1,280.2 73.2,280.9 73.2,281.6 73.1,282.3 73.0,282.7 72.8,283.4 72.7,283.8 72.4,284.4 72.2,284.8 72.0,285.1 71.6,285.6 71.2,286.1 70.9,286.5 70.5,286.8 70.2,287.1 69.8,287.4 69.5,287.6 69.0,287.9 68.5,288.2 68.1,288.3Z M68.5,285.5 67.8,285.6 67.0,285.5 66.7,285.2 66.4,284.8 66.3,284.4 66.2,283.7 66.3,283.0 66.5,282.6 66.7,282.2 67.0,281.6 67.4,281.2 67.8,280.9 68.1,280.7 68.5,280.5 69.2,280.4 69.8,280.5 70.2,280.7 70.5,281.1 70.7,281.6 70.8,282.3 70.6,283.0 70.5,283.4 70.2,284.0 69.9,284.4 69.6,284.8 69.2,285.1 68.8,285.4 68.5,285.5Z" fill="none" stroke="#1a1a1a" stroke-width="0.55" stroke-linejoin="round"/>
<path d="M252.8,278.0h0.01M242.8,276.6h0.01M270.5,277.3h0.01M283.2,260.5h0.01M253.3,262.8h0.01M236.3,269.6h0.01M256.4,277.4h0.01M262.2,301.0h0.01M269.3,251.3h0.01M256.1,263.9h0.01M241.7,289.0h0.01M247.5,246.6h0.01M258.2,268.2h0.01M228.5,260.0h0.01M239.5,271.7h0.01M243.5,272.9h0.01M288.7,261.6h0.01M235.9,268.8h0.01M273.9,262.8h0.01M280.7,255.0h0.01M231.4,271.3h0.01M234.7,264.0h0.01M261.0,281.4h0.01M254.3,268.4h0.01M278.9,277.2h0.01M247.3,287.8h0.01M234.0,274.1h0.01M265.2,271.9h0.01M240.5,276.6h0.01M241.2,264.3h0.01M231.5,289.0h0.01M241.0,287.0h0.01M259.6,268.6h0.01M265.4,275.5h0.01M253.4,283.6h0.01M261.7,284.9h0.01M281.8,277.3h0.01M291.5,252.3h0.01M247.2,239.2h0.01M268.4,273.2h0.01M285.8,267.2h0.01M211.5,288.6h0.01M225.2,255.5h0.01M248.5,280.2h0.01M241.8,274.4h0.01M214.4,294.5h0.01M250.7,273.6h0.01M263.7,274.2h0.01M256.0,259.9h0.01M249.7,277.7h0.01M272.9,270.4h0.01M253.8,276.4h0.01M263.4,274.7h0.01M246.9,265.4h0.01M274.5,275.8h0.01M269.7,283.1h0.01M255.1,258.8h0.01M274.7,270.9h0.01M253.1,285.4h0.01M272.4,275.1h0.01M252.4,299.3h0.01M263.5,258.7h0.01M267.0,274.0h0.01M252.7,280.9h0.01M256.7,298.1h0.01M256.1,275.3h0.01M275.2,264.7h0.01M272.3,271.2h0.01M275.7,261.0h0.01M243.2,272.2h0.01M261.9,297.7h0.01M288.7,254.6h0.01M236.9,288.3h0.01M261.7,257.4h0.01M234.8,255.7h0.01M246.8,301.2h0.01M259.6,270.6h0.01M249.0,268.6h0.01M260.4,268.0h0.01M281.1,268.2h0.01M263.2,274.9h0.01M234.9,259.3h0.01M251.0,242.2h0.01M252.3,273.0h0.01M254.9,271.0h0.01M259.1,267.5h0.01M270.2,260.6h0.01M261.7,266.0h0.01M243.5,261.7h0.01M278.8,257.9h0.01M227.9,274.8h0.01M257.2,272.6h0.01M232.8,263.6h0.01M270.1,258.6h0.01M264.2,281.4h0.01M254.7,256.3h0.01M290.1,273.6h0.01M256.0,267.2h0.01M233.1,268.6h0.01M256.0,261.1h0.01M254.4,286.9h0.01M260.7,270.8h0.01M273.0,283.9h0.01M270.0,261.7h0.01M215.8,282.4h0.01M253.2,267.2h0.01M261.7,266.2h0.01M239.7,295.4h0.01M220.4,282.9h0.01M272.2,295.0h0.01M257.1,278.6h0.01M233.8,272.4h0.01M210.2,264.7h0.01M251.5,270.7h0.01M242.5,287.1h0.01M220.4,273.7h0.01M244.1,272.5h0.01M253.1,297.2h0.01M230.8,289.4h0.01M280.0,270.4h0.01M239.8,256.0h0.01M234.9,298.5h0.01M208.9,277.9h0.01M238.2,296.6h0.01M241.7,274.5h0.01M254.5,259.8h0.01M246.4,266.1h0.01M261.7,275.6h0.01M256.5,264.4h0.01M267.7,264.8h0.01M235.5,266.5h0.01M245.6,268.0h0.01M213.6,289.5h0.01M264.5,289.1h0.01M244.2,281.7h0.01M256.0,272.4h0.01M287.7,264.4h0.01M263.2,269.8h0.01M231.8,264.3h0.01M209.8,258.3h0.01M273.6,284.6h0.01M237.1,252.8h0.01M224.2,255.5h0.01M237.0,300.2h0.01M229.5,281.8h0.01M276.9,259.8h0.01M246.7,280.8h0.01M239.0,288.2h0.01M294.8,271.4h0.01M235.6,279.7h0.01M258.7,262.3h0.01M249.2,273.1h0.01M262.1,286.8h0.01M242.4,255.2h0.01M219.7,296.0h0.01M243.7,266.7h0.01M296.8,269.8h0.01M238.2,265.2h0.01M265.0,277.5h0.01M260.0,301.4h0.01" stroke="#555" stroke-width="0.9" stroke-linecap="round"/>
<path d="M250.7,239.2h0.01M264.5,229.5h0.01M258.4,229.8h0.01M267.8,250.7h0.01M269.7,244.7h0.01M250.1,246.0h0.01M274.7,249.2h0.01M274.6,247.1h0.01M248.6,245.9h0.01M252.4,228.4h0.01M256.3,260.0h0.01M270.8,249.3h0.01M263.1,240.2h0.01M256.0,257.9h0.01M259.5,232.6h0.01M272.6,250.7h0.01M252.9,257.3h0.01M263.7,262.5h0.01M275.7,240.3h0.01M246.7,246.7h0.01M269.2,257.9h0.01M263.8,232.9h0.01M277.1,253.7h0.01M265.3,253.2h0.01M246.6,236.8h0.01M268.7,248.1h0.01M247.8,240.1h0.01M252.0,251.4h0.01M275.2,255.5h0.01M268.1,251.0h0.01M257.4,228.3h0.01M250.5,238.1h0.01M265.8,254.6h0.01M268.1,262.2h0.01M257.2,258.0h0.01M274.2,248.9h0.01M267.7,247.6h0.01M247.4,250.0h0.01M269.7,246.0h0.01M252.7,249.0h0.01" stroke="#555" stroke-width="0.9" stroke-linecap="round"/>
<path d="M251.8,295.3 251.1,295.3 250.4,295.3 249.8,295.4 249.1,295.4 248.3,295.4 247.7,295.4 246.9,295.4 246.2,295.4 245.6,295.4 244.8,295.4 244.2,295.4 243.4,295.4 242.8,295.4 242.1,295.4 241.3,295.4 240.7,295.4 239.9,295.4 239.2,295.4 238.6,295.4 237.8,295.4 237.2,295.4 236.4,295.4 235.8,295.4 235.1,295.4 234.3,295.4 233.7,295.4 232.9,295.4 232.2,295.4 231.6,295.4 230.8,295.4 230.2,295.4 229.4,295.4 228.8,295.4 228.1,295.4 227.3,295.4 226.7,295.4 225.9,295.4 225.2,295.4 224.6,295.4 223.8,295.4 223.2,295.4 222.4,295.4 221.8,295.4 221.1,295.4 220.3,295.4 219.7,295.4 218.9,295.4 218.2,295.4 217.6,295.4 216.8,295.4 216.2,295.4 215.4,295.4 214.8,295.4 214.1,295.4 213.3,295.4 212.7,295.4 211.9,295.4 211.2,295.4 210.6,295.4 209.8,295.4 209.2,295.4 208.4,295.4 207.8,295.4 207.1,295.4 206.3,295.4 205.7,295.4 204.9,295.4 204.2,295.4 203.6,295.4 202.8,295.4 202.2,295.3 201.8,295.2 201.2,294.9 200.8,294.6 200.4,294.3 200.1,293.9 199.7,293.5 199.5,293.1 199.3,292.8 199.0,292.1 198.9,291.8 198.8,291.1 198.7,290.4 198.7,289.6 198.8,288.9 198.9,288.2 199.1,287.9 199.3,287.2 199.6,286.9 199.8,286.5 200.1,286.1 200.5,285.8 200.9,285.4 201.4,285.1 201.8,285.0 202.5,284.8 203.2,284.8 203.6,284.7 204.2,284.7 204.9,284.6 205.7,284.5 206.3,284.4 206.7,284.4 207.4,284.3 208.1,284.2 208.8,284.2 209.5,284.1 209.9,284.1 210.6,284.0 211.2,283.9 211.9,283.8 212.7,283.8 213.2,283.7 213.7,283.6 214.4,283.6 215.1,283.5 215.8,283.4 216.4,283.4 216.8,283.3 217.6,283.2 218.2,283.2 218.9,283.1 219.7,283.0 220.0,283.0 220.7,282.9 221.4,282.8 222.1,282.7 222.8,282.7 223.2,282.6 223.8,282.5 224.6,282.5 225.2,282.4 225.9,282.3 226.3,282.3 227.0,282.2 227.7,282.1 228.4,282.1 229.1,282.0 229.4,281.9 230.2,281.9 230.8,281.8 231.6,281.7 232.2,281.6 232.7,281.6 233.3,281.5 234.0,281.5 234.7,281.4 235.4,281.3 236.0,281.2 236.4,281.2 237.2,281.1 237.8,281.0 238.6,281.0 239.2,280.9 239.6,280.9 240.3,280.8 241.0,280.7 241.7,280.6 242.4,280.6 242.8,280.5 243.4,280.4 244.2,280.4 244.8,280.3 245.6,280.2 245.9,280.2 246.6,280.1 247.3,280.0 248.0,280.0 248.7,279.9 249.1,279.9 249.8,279.8 250.4,279.8 251.1,279.8 251.8,279.8 252.6,279.8 253.2,279.8 253.8,279.9 254.3,279.9 255.0,280.0 255.7,280.1 256.4,280.2 256.8,280.3 257.4,280.4 257.9,280.6 258.5,280.7 259.1,280.9 259.6,281.1 260.0,281.2 260.6,281.5 260.9,281.7 261.4,281.9 262.0,282.3 262.4,282.5 262.7,282.7 263.1,283.0 263.5,283.4 263.9,283.7 264.3,284.1 264.6,284.4 264.9,284.8 265.2,285.1 265.5,285.6 265.8,286.1 266.0,286.5 266.2,286.9 266.4,287.6 266.6,287.9 266.7,288.6 266.8,289.3 266.8,290.0 266.7,290.7 266.5,291.1 266.2,291.4 265.8,291.8 265.3,292.1 264.8,292.4 264.4,292.6 264.1,292.8 263.4,293.1 263.1,293.2 262.4,293.5 262.0,293.6 261.3,293.8 260.9,293.9 260.2,294.1 259.8,294.2 259.2,294.3 258.5,294.5 258.1,294.6 257.4,294.7 256.8,294.8 256.1,294.9 255.7,294.9 255.0,295.0 254.3,295.1 253.6,295.1 252.9,295.2 252.2,295.2 251.8,295.3Z M249.1,290.0 248.3,290.2 247.7,290.3 246.9,290.3 246.2,290.3 245.6,290.3 244.8,290.3 244.2,290.3 243.4,290.3 242.8,290.3 242.1,290.3 241.3,290.3 240.7,290.3 239.9,290.3 239.2,290.3 238.6,290.3 237.8,290.3 237.2,290.3 236.4,290.3 235.8,290.3 235.1,290.3 234.3,290.3 233.7,290.3 232.9,290.3 232.2,290.3 231.6,290.3 230.8,290.3 230.2,290.3 229.4,290.3 228.8,290.3 228.1,290.3 227.3,290.3 226.7,290.3 225.9,290.3 225.2,290.3 224.6,290.3 223.8,290.3 223.2,290.3 222.4,290.3 221.8,290.3 221.1,290.3 220.3,290.3 219.7,290.3 218.9,290.3 218.2,290.3 217.6,290.3 216.8,290.3 216.2,290.3 215.4,290.3 214.8,290.3 214.1,290.3 213.3,290.3 212.7,290.3 211.9,290.3 211.2,290.3 210.6,290.3 209.8,290.3 209.2,290.3 208.4,290.3 207.8,290.3 207.1,290.3 206.3,290.3 205.7,290.3 204.9,290.3 204.2,290.3 203.6,290.3 202.8,290.2 202.8,289.9 203.6,289.8 204.2,289.7 204.9,289.7 205.7,289.7 206.3,289.7 207.1,289.7 207.8,289.7 208.4,289.7 209.2,289.7 209.8,289.7 210.6,289.7 211.2,289.7 211.9,289.7 212.7,289.7 213.0,289.6 213.7,289.6 214.4,289.6 215.1,289.6 215.8,289.6 216.5,289.6 217.2,289.6 217.9,289.6 218.6,289.6 219.3,289.6 220.0,289.6 220.7,289.6 221.4,289.6 222.1,289.6 222.8,289.6 223.5,289.6 224.2,289.6 224.9,289.6 225.6,289.6 226.3,289.6 227.0,289.6 227.7,289.6 228.4,289.6 229.1,289.6 229.8,289.6 230.5,289.6 231.2,289.6 231.9,289.6 232.6,289.6 233.3,289.6 234.0,289.6 234.7,289.5 235.4,289.5 236.1,289.5 236.8,289.5 237.5,289.5 238.2,289.5 238.9,289.5 239.6,289.5 240.3,289.5 241.0,289.5 241.7,289.5 242.4,289.5 243.1,289.5 243.8,289.5 244.5,289.5 245.2,289.5 245.9,289.5 246.6,289.5 247.3,289.5 248.0,289.5 248.7,289.6 249.1,290.0 249.1,290.0Z" fill="#111" fill-opacity="0.7" fill-rule="evenodd"/>
<path d="M253.9,298.8 253.2,298.8 252.6,298.8 251.8,298.9 251.1,298.9 250.4,298.9 249.8,298.9 249.1,298.9 248.3,298.9 247.7,298.9 246.9,298.9 246.2,298.9 245.6,298.9 244.8,298.9 244.2,298.9 243.4,298.9 242.8,298.9 242.1,298.9 241.3,298.9 240.7,298.9 239.9,298.9 239.2,298.9 238.6,298.9 237.8,298.9 237.2,298.9 236.4,298.9 235.8,298.9 235.1,298.9 234.3,298.9 233.7,298.9 232.9,298.9 232.2,298.9 231.6,298.9 230.8,298.9 230.2,298.9 229.4,298.9 228.8,298.9 228.1,298.9 227.3,298.9 226.7,298.9 225.9,298.9 225.2,298.9 224.6,298.9 223.8,298.9 223.2,298.9 222.4,298.9 221.8,298.9 221.1,298.9 220.3,298.9 219.7,298.9 218.9,298.9 218.2,298.9 217.6,298.9 216.8,298.9 216.2,298.9 215.4,298.9 214.8,298.9 214.1,298.9 213.3,298.9 212.7,298.9 211.9,298.9 211.2,298.9 210.6,298.9 209.8,298.9 209.2,298.9 208.4,298.9 207.8,298.9 207.1,298.9 206.3,298.9 205.7,298.9 204.9,298.9 204.2,298.9 203.6,298.9 202.8,298.9 202.2,298.9 201.6,298.8 201.1,298.6 200.6,298.4 200.1,298.1 199.7,297.9 199.3,297.7 198.9,297.4 198.6,297.0 198.2,296.6 197.9,296.3 197.6,295.8 197.2,295.3 197.0,294.9 196.9,294.6 196.6,293.9 196.4,293.5 196.2,292.8 196.1,292.4 196.0,291.8 195.9,291.1 195.9,290.4 195.9,289.6 195.9,288.9 196.0,288.2 196.1,287.6 196.2,287.2 196.5,286.5 196.6,286.1 196.9,285.5 197.1,285.1 197.3,284.8 197.6,284.4 197.9,283.9 198.3,283.5 198.7,283.2 199.0,282.8 199.3,282.6 199.8,282.3 200.4,282.0 200.8,281.8 201.4,281.6 201.8,281.5 202.5,281.4 203.2,281.3 203.7,281.2 204.2,281.1 204.9,281.0 205.7,280.9 206.0,280.8 206.7,280.7 207.4,280.6 207.8,280.5 208.4,280.4 209.2,280.3 209.6,280.2 210.2,280.1 210.9,280.0 211.5,279.9 211.9,279.8 212.7,279.6 213.3,279.5 213.7,279.5 214.4,279.3 215.1,279.2 215.5,279.1 216.2,279.0 216.8,278.9 217.4,278.8 217.9,278.7 218.6,278.6 219.3,278.5 219.7,278.4 220.3,278.3 221.1,278.1 221.4,278.1 222.1,278.0 222.8,277.8 223.3,277.8 223.8,277.6 224.6,277.5 225.2,277.4 225.6,277.3 226.3,277.2 227.0,277.1 227.3,277.0 228.1,276.9 228.8,276.8 229.2,276.7 229.8,276.6 230.5,276.5 231.2,276.4 231.6,276.3 232.2,276.1 232.9,276.0 233.3,276.0 234.0,275.8 234.7,275.7 235.1,275.6 235.8,275.5 236.4,275.4 237.0,275.3 237.5,275.2 238.2,275.1 238.9,275.0 239.2,274.9 239.9,274.8 240.7,274.7 241.0,274.6 241.7,274.5 242.4,274.3 242.9,274.2 243.4,274.2 244.2,274.0 244.8,273.9 245.2,273.8 245.9,273.7 246.6,273.6 246.9,273.5 247.7,273.4 248.3,273.3 248.8,273.2 249.4,273.1 250.1,273.0 250.8,272.9 251.3,272.9 251.8,272.8 252.6,272.7 253.2,272.7 253.9,272.6 254.6,272.6 255.3,272.5 256.1,272.5 256.8,272.5 257.4,272.5 258.1,272.5 258.9,272.6 259.6,272.6 260.2,272.7 260.9,272.7 261.6,272.8 262.0,272.9 262.7,273.0 263.4,273.1 263.8,273.2 264.4,273.3 265.1,273.5 265.5,273.6 266.2,273.8 266.6,273.9 267.2,274.2 267.6,274.3 268.3,274.6 268.6,274.7 269.1,274.9 269.7,275.2 270.1,275.4 270.5,275.6 271.1,276.0 271.4,276.2 271.8,276.5 272.1,276.7 272.6,277.1 273.1,277.4 273.5,277.8 273.9,278.1 274.2,278.4 274.6,278.8 274.9,279.1 275.3,279.5 275.6,279.9 275.8,280.2 276.1,280.6 276.4,280.9 276.7,281.4 277.0,281.9 277.2,282.3 277.4,282.6 277.8,283.3 277.9,283.7 278.1,284.1 278.3,284.8 278.5,285.1 278.7,285.8 278.8,286.3 278.9,286.9 279.0,287.6 279.1,288.2 279.2,288.6 279.2,289.3 279.2,290.0 279.1,290.6 279.0,291.1 278.8,291.5 278.4,292.0 278.1,292.4 277.8,292.7 277.4,293.0 277.1,293.3 276.7,293.5 276.2,293.9 275.6,294.1 275.3,294.3 274.9,294.6 274.2,294.8 273.9,295.0 273.3,295.2 272.9,295.4 272.3,295.6 271.8,295.8 271.3,295.9 270.8,296.1 270.1,296.3 269.7,296.4 269.0,296.6 268.6,296.7 267.9,296.9 267.4,297.0 266.9,297.1 266.2,297.3 265.7,297.4 265.1,297.5 264.4,297.6 263.8,297.7 263.4,297.8 262.7,297.9 262.0,298.0 261.5,298.1 260.9,298.1 260.2,298.2 259.6,298.3 258.9,298.4 258.5,298.4 257.8,298.5 257.1,298.5 256.4,298.6 255.7,298.7 255.0,298.7 254.3,298.7 253.9,298.8Z M252.2,298.4 251.5,298.4 250.8,298.5 250.1,298.5 249.4,298.5 248.7,298.5 248.0,298.5 247.3,298.5 246.6,298.5 245.9,298.5 245.2,298.5 244.5,298.5 243.8,298.5 243.1,298.5 242.4,298.5 241.7,298.5 241.0,298.5 240.3,298.5 239.6,298.5 238.9,298.5 238.2,298.5 237.5,298.5 236.8,298.5 236.1,298.5 235.4,298.5 234.7,298.5 234.0,298.5 233.3,298.5 232.6,298.5 231.9,298.5 231.2,298.5 230.5,298.5 229.8,298.5 229.1,298.5 228.4,298.5 227.7,298.5 227.0,298.5 226.3,298.5 225.6,298.5 224.9,298.5 224.2,298.5 223.5,298.5 222.8,298.5 222.1,298.5 221.4,298.5 220.7,298.5 220.0,298.5 219.3,298.5 218.6,298.5 217.9,298.5 217.2,298.5 216.5,298.5 215.8,298.5 215.1,298.5 214.4,298.5 213.7,298.5 213.0,298.5 212.3,298.5 211.6,298.5 210.9,298.5 210.2,298.5 209.5,298.5 208.8,298.5 208.1,298.5 207.4,298.5 206.7,298.5 206.0,298.5 205.3,298.5 204.6,298.5 203.9,298.5 203.2,298.5 202.5,298.5 202.0,298.4 201.4,298.3 200.8,298.1 200.4,297.9 200.1,297.7 199.6,297.4 199.2,297.0 198.8,296.6 198.4,296.3 198.1,295.9 197.9,295.6 197.6,295.2 197.3,294.6 197.1,294.2 196.9,293.7 196.7,293.1 196.6,292.7 196.4,292.1 196.3,291.4 196.2,290.7 196.2,290.0 196.2,289.3 196.3,288.6 196.4,287.9 196.6,287.4 196.7,286.9 196.9,286.4 197.2,285.8 197.3,285.4 197.6,285.0 197.9,284.5 198.3,284.1 198.6,283.7 199.0,283.4 199.3,283.1 199.7,282.8 200.1,282.6 200.7,282.3 201.1,282.1 201.7,281.9 202.2,281.8 202.8,281.8 203.6,281.7 204.1,281.6 204.6,281.5 205.3,281.4 206.0,281.3 206.3,281.2 207.1,281.1 207.8,281.0 208.3,280.9 208.8,280.8 209.5,280.7 210.2,280.6 210.6,280.5 211.2,280.4 211.9,280.3 212.4,280.2 213.0,280.1 213.7,280.0 214.4,279.9 214.8,279.8 215.4,279.7 216.2,279.6 216.5,279.5 217.2,279.4 217.9,279.3 218.6,279.1 218.9,279.1 219.7,279.0 220.3,278.8 220.7,278.8 221.4,278.7 222.1,278.5 222.7,278.4 223.2,278.4 223.8,278.2 224.6,278.1 224.9,278.1 225.6,277.9 226.3,277.8 226.8,277.8 227.3,277.7 228.1,277.5 228.8,277.4 229.1,277.4 229.8,277.2 230.5,277.1 230.9,277.1 231.6,276.9 232.2,276.8 232.9,276.7 233.3,276.6 234.0,276.5 234.7,276.4 235.1,276.4 235.8,276.2 236.4,276.1 237.1,276.0 237.5,275.9 238.2,275.8 238.9,275.7 239.2,275.6 239.9,275.5 240.7,275.4 241.3,275.3 241.7,275.2 242.4,275.1 243.1,275.0 243.4,274.9 244.2,274.8 244.8,274.7 245.4,274.6 245.9,274.5 246.6,274.4 247.3,274.3 247.7,274.2 248.3,274.1 249.1,274.0 249.7,273.9 250.1,273.8 250.8,273.7 251.5,273.7 252.2,273.6 252.9,273.6 253.2,273.5 253.9,273.5 254.6,273.5 255.3,273.4 256.1,273.4 256.8,273.4 257.4,273.5 258.1,273.5 258.9,273.5 259.2,273.6 259.9,273.6 260.6,273.7 261.3,273.8 261.8,273.9 262.4,274.0 263.1,274.1 263.6,274.2 264.1,274.4 264.8,274.6 265.1,274.7 265.9,274.9 266.2,275.0 266.9,275.3 267.2,275.4 267.7,275.6 268.3,275.9 268.6,276.1 269.1,276.4 269.7,276.7 270.1,276.9 270.4,277.1 270.9,277.4 271.3,277.8 271.8,278.1 272.1,278.4 272.5,278.7 272.9,279.0 273.2,279.3 273.6,279.7 273.9,280.1 274.2,280.5 274.6,280.9 274.8,281.2 275.1,281.6 275.3,281.9 275.6,282.5 275.9,283.0 276.1,283.4 276.4,283.8 276.6,284.4 276.7,284.8 277.0,285.4 277.1,285.8 277.3,286.5 277.4,287.0 277.5,287.6 277.6,288.2 277.7,288.9 277.7,289.6 277.7,290.4 277.5,291.1 277.3,291.4 277.1,291.8 276.7,292.2 276.4,292.5 276.0,292.8 275.6,293.1 275.1,293.5 274.6,293.8 274.2,294.0 273.8,294.2 273.2,294.5 272.9,294.7 272.3,294.9 271.8,295.1 271.3,295.2 270.8,295.5 270.3,295.6 269.7,295.8 269.2,295.9 268.6,296.1 267.9,296.3 267.6,296.4 266.9,296.6 266.5,296.6 265.9,296.8 265.1,296.9 264.8,297.0 264.1,297.1 263.4,297.3 262.9,297.4 262.4,297.4 261.6,297.6 260.9,297.6 260.5,297.7 259.9,297.8 259.2,297.9 258.5,298.0 257.8,298.0 257.4,298.1 256.8,298.1 256.1,298.2 255.3,298.2 254.6,298.3 253.9,298.3 253.2,298.4 252.6,298.4 252.2,298.4Z M255.7,297.7 255.0,297.8 254.3,297.8 253.6,297.9 252.9,297.9 252.2,298.0 251.5,298.0 250.8,298.0 250.1,298.0 249.4,298.0 248.7,298.0 248.0,298.0 247.3,298.0 246.6,298.0 245.9,298.0 245.2,298.0 244.5,298.0 243.8,298.0 243.1,298.0 242.4,298.0 241.7,298.0 241.0,298.0 240.3,298.0 239.6,298.0 238.9,298.0 238.2,298.0 237.5,298.0 236.8,298.0 236.1,298.0 235.4,298.0 234.7,298.0 234.0,298.0 233.3,298.0 232.6,298.0 231.9,298.0 231.2,298.0 230.5,298.0 229.8,298.0 229.1,298.0 228.4,298.0 227.7,298.0 227.0,298.0 226.3,298.0 225.6,298.0 224.9,298.0 224.2,298.0 223.5,298.0 222.8,298.0 222.1,298.0 221.4,298.0 220.7,298.0 220.0,298.0 219.3,298.0 218.6,298.0 217.9,298.0 217.2,298.0 216.5,298.0 215.8,298.0 215.1,298.0 214.4,298.0 213.7,298.0 213.0,298.0 212.3,298.0 211.6,298.0 210.9,298.0 210.2,298.0 209.5,298.0 208.8,298.0 208.1,298.0 207.4,298.0 206.7,298.0 206.0,298.0 205.3,298.0 204.6,298.0 203.9,298.0 203.2,298.0 202.5,298.0 201.8,297.9 201.2,297.7 200.8,297.5 200.4,297.3 199.8,297.0 199.4,296.6 199.0,296.3 198.7,295.9 198.4,295.6 198.1,295.2 197.9,294.9 197.6,294.4 197.4,293.9 197.2,293.5 197.0,292.8 196.9,292.4 196.7,291.8 196.6,291.1 196.6,290.4 196.6,289.6 196.6,288.9 196.7,288.2 196.9,287.6 197.0,287.2 197.2,286.5 197.4,286.1 197.6,285.8 197.9,285.2 198.3,284.8 198.5,284.4 198.9,284.1 199.2,283.7 199.7,283.4 200.1,283.1 200.4,282.9 200.9,282.6 201.4,282.5 202.2,282.3 202.5,282.3 203.2,282.2 203.9,282.1 204.6,282.0 204.9,281.9 205.7,281.8 206.3,281.7 207.0,281.6 207.4,281.5 208.1,281.4 208.8,281.3 209.2,281.2 209.8,281.1 210.6,281.0 211.2,280.9 211.6,280.9 212.3,280.7 213.0,280.6 213.5,280.6 214.1,280.5 214.8,280.3 215.4,280.2 215.8,280.2 216.5,280.1 217.2,279.9 217.9,279.9 218.2,279.8 218.9,279.7 219.7,279.6 220.0,279.5 220.7,279.4 221.4,279.3 222.1,279.2 222.4,279.1 223.2,279.0 223.8,278.9 224.4,278.8 224.9,278.7 225.6,278.6 226.3,278.5 226.7,278.4 227.3,278.3 228.1,278.2 228.8,278.1 229.1,278.0 229.8,277.9 230.5,277.8 230.9,277.8 231.6,277.6 232.2,277.5 232.9,277.4 233.3,277.4 234.0,277.3 234.7,277.1 235.3,277.1 235.8,277.0 236.4,276.9 237.2,276.7 237.5,276.7 238.2,276.6 238.9,276.5 239.6,276.4 239.9,276.3 240.7,276.2 241.3,276.1 241.8,276.0 242.4,275.9 243.1,275.8 243.8,275.7 244.2,275.6 244.8,275.5 245.6,275.4 246.2,275.3 246.6,275.2 247.3,275.1 248.0,275.0 248.4,274.9 249.1,274.8 249.8,274.8 250.4,274.7 251.1,274.6 251.5,274.6 252.2,274.5 252.9,274.5 253.6,274.4 254.3,274.4 255.0,274.4 255.7,274.4 256.4,274.4 257.1,274.4 257.8,274.5 258.5,274.5 259.2,274.6 259.6,274.6 260.2,274.7 260.9,274.8 261.5,274.9 262.0,275.0 262.7,275.2 263.1,275.3 263.8,275.5 264.3,275.6 264.8,275.8 265.3,276.0 265.9,276.2 266.2,276.4 266.9,276.7 267.2,276.8 267.7,277.1 268.3,277.4 268.6,277.6 269.0,277.8 269.5,278.1 270.0,278.4 270.4,278.8 270.8,279.0 271.1,279.3 271.4,279.7 271.8,280.0 272.1,280.3 272.5,280.7 272.9,281.1 273.2,281.6 273.5,281.9 273.7,282.3 274.0,282.6 274.2,283.1 274.6,283.7 274.7,284.1 274.9,284.5 275.2,285.1 275.3,285.4 275.6,286.1 275.6,286.5 275.8,287.2 275.9,287.9 276.0,288.3 276.1,288.9 276.1,289.6 276.1,290.4 276.0,290.7 275.7,291.4 275.4,291.8 275.1,292.1 274.8,292.4 274.3,292.8 273.9,293.1 273.6,293.3 273.2,293.6 272.7,293.9 272.1,294.1 271.8,294.3 271.2,294.6 270.8,294.7 270.3,294.9 269.7,295.1 269.3,295.2 268.6,295.5 268.1,295.6 267.6,295.8 266.9,295.9 266.6,296.0 265.9,296.2 265.4,296.3 264.8,296.4 264.1,296.6 263.8,296.7 263.1,296.8 262.4,296.9 261.8,297.0 261.3,297.1 260.6,297.2 259.9,297.3 259.3,297.4 258.9,297.4 258.1,297.5 257.4,297.6 256.8,297.6 256.1,297.7 255.7,297.7Z M253.9,297.4 253.2,297.4 252.6,297.4 251.8,297.5 251.1,297.5 250.4,297.5 249.8,297.5 249.1,297.6 248.3,297.6 247.7,297.6 246.9,297.6 246.2,297.6 245.6,297.6 244.8,297.6 244.2,297.6 243.4,297.6 242.8,297.6 242.1,297.6 241.3,297.6 240.7,297.6 239.9,297.6 239.2,297.6 238.6,297.6 237.8,297.6 237.2,297.6 236.4,297.6 235.8,297.6 235.1,297.6 234.3,297.6 233.7,297.6 232.9,297.6 232.2,297.6 231.6,297.6 230.8,297.6 230.2,297.6 229.4,297.6 228.8,297.6 228.1,297.6 227.3,297.6 226.7,297.6 225.9,297.6 225.2,297.6 224.6,297.6 223.8,297.6 223.2,297.6 222.4,297.6 221.8,297.6 221.1,297.6 220.3,297.6 219.7,297.6 218.9,297.6 218.2,297.6 217.6,297.6 216.8,297.6 216.2,297.6 215.4,297.6 214.8,297.6 214.1,297.6 213.3,297.6 212.7,297.6 211.9,297.6 211.2,297.6 210.6,297.6 209.8,297.6 209.2,297.6 208.4,297.6 207.8,297.6 207.1,297.6 206.3,297.6 205.7,297.6 204.9,297.6 204.2,297.6 203.6,297.6 202.8,297.6 202.2,297.5 201.6,297.4 201.1,297.2 200.7,297.0 200.1,296.6 199.7,296.3 199.3,296.0 199.0,295.7 198.7,295.2 198.4,294.9 198.2,294.6 197.9,294.1 197.6,293.5 197.5,293.1 197.3,292.4 197.2,292.1 197.1,291.4 197.0,290.7 197.0,290.0 197.0,289.3 197.1,288.6 197.2,287.9 197.3,287.6 197.6,286.9 197.7,286.5 197.9,286.0 198.3,285.4 198.5,285.1 198.8,284.8 199.1,284.4 199.5,284.1 200.0,283.7 200.4,283.4 200.8,283.2 201.3,283.0 201.8,282.8 202.5,282.7 203.2,282.7 203.6,282.6 204.2,282.5 204.9,282.4 205.7,282.3 206.0,282.2 206.7,282.1 207.4,282.0 208.0,281.9 208.4,281.9 209.2,281.8 209.8,281.7 210.3,281.6 210.9,281.5 211.6,281.4 212.3,281.3 212.7,281.2 213.3,281.1 214.1,281.0 214.8,280.9 215.1,280.9 215.8,280.8 216.5,280.7 217.2,280.6 217.6,280.5 218.2,280.4 218.9,280.3 219.6,280.2 220.0,280.1 220.7,280.0 221.4,279.9 221.9,279.9 222.4,279.8 223.2,279.7 223.8,279.6 224.2,279.5 224.9,279.4 225.6,279.3 226.3,279.2 226.7,279.1 227.3,279.0 228.1,278.9 228.8,278.8 229.1,278.8 229.8,278.7 230.5,278.6 231.2,278.5 231.6,278.4 232.2,278.3 232.9,278.2 233.5,278.1 234.0,278.0 234.7,277.9 235.4,277.8 235.8,277.8 236.4,277.7 237.2,277.5 237.8,277.4 238.2,277.4 238.9,277.3 239.6,277.2 240.3,277.1 240.7,277.0 241.3,276.9 242.1,276.8 242.8,276.7 243.1,276.7 243.8,276.5 244.5,276.4 245.1,276.4 245.6,276.3 246.2,276.2 246.9,276.1 247.4,276.0 248.0,275.9 248.7,275.8 249.4,275.7 250.0,275.6 250.4,275.6 251.1,275.5 251.8,275.5 252.6,275.4 253.2,275.4 253.9,275.4 254.6,275.4 255.3,275.4 256.1,275.4 256.8,275.5 257.4,275.5 258.1,275.6 258.7,275.6 259.2,275.7 259.9,275.8 260.6,275.9 260.9,276.0 261.6,276.2 262.3,276.4 262.7,276.5 263.4,276.7 263.8,276.8 264.4,277.0 264.8,277.2 265.3,277.4 265.9,277.6 266.2,277.8 266.8,278.1 267.2,278.4 267.6,278.6 268.0,278.8 268.5,279.1 269.0,279.5 269.4,279.8 269.7,280.1 270.1,280.4 270.4,280.7 270.8,281.1 271.1,281.5 271.4,281.9 271.8,282.3 272.0,282.6 272.3,283.0 272.5,283.4 272.9,284.0 273.1,284.4 273.2,284.8 273.5,285.4 273.7,285.8 273.9,286.5 274.0,286.9 274.2,287.6 274.2,288.0 274.3,288.6 274.4,289.3 274.4,290.0 274.3,290.7 274.2,291.1 273.9,291.5 273.6,291.9 273.2,292.3 272.9,292.6 272.5,292.8 272.0,293.1 271.4,293.5 271.1,293.7 270.7,293.9 270.1,294.2 269.7,294.3 269.1,294.6 268.6,294.7 268.1,294.9 267.6,295.1 267.0,295.2 266.6,295.4 265.9,295.6 265.5,295.7 264.8,295.8 264.2,295.9 263.8,296.1 263.1,296.2 262.5,296.3 262.0,296.4 261.3,296.5 260.6,296.6 260.2,296.7 259.6,296.8 258.9,296.9 258.1,297.0 257.8,297.0 257.1,297.1 256.4,297.2 255.7,297.2 255.0,297.3 254.3,297.3 253.9,297.4Z M250.1,297.0 249.4,297.0 248.7,297.0 248.0,297.0 247.3,297.0 246.6,297.0 245.9,297.0 245.2,297.0 244.5,297.0 243.8,297.0 243.1,297.0 242.4,297.0 241.7,297.0 241.0,297.0 240.3,297.0 239.6,297.0 238.9,297.0 238.2,297.0 237.5,297.0 236.8,297.0 236.1,297.0 235.4,297.0 234.7,297.0 234.0,297.0 233.3,297.0 232.6,297.0 231.9,297.0 231.2,297.0 230.5,297.0 229.8,297.0 229.1,297.0 228.4,297.0 227.7,297.0 227.0,297.0 226.3,297.0 225.6,297.0 224.9,297.0 224.2,297.0 223.5,297.0 222.8,297.0 222.1,297.0 221.4,297.0 220.7,297.0 220.0,297.0 219.3,297.0 218.6,297.0 217.9,297.0 217.2,297.0 216.5,297.0 215.8,297.0 215.1,297.0 214.4,297.0 213.7,297.0 213.0,297.0 212.3,297.0 211.6,297.0 210.9,297.0 210.2,297.0 209.5,297.0 208.8,297.0 208.1,297.0 207.4,297.0 206.7,297.0 206.0,297.0 205.3,297.0 204.6,297.0 203.9,297.0 203.2,297.0 202.5,297.0 202.2,297.0 201.4,296.8 201.1,296.6 200.5,296.3 200.1,296.0 199.7,295.7 199.3,295.3 199.0,294.9 198.7,294.6 198.5,294.2 198.3,293.9 198.0,293.1 197.8,292.8 197.6,292.1 197.6,291.8 197.4,291.1 197.4,290.4 197.4,289.6 197.4,288.9 197.6,288.2 197.6,287.9 197.9,287.2 198.0,286.9 198.3,286.3 198.6,285.8 198.8,285.4 199.1,285.1 199.4,284.8 199.8,284.4 200.3,284.1 200.8,283.8 201.1,283.6 201.8,283.4 202.2,283.3 202.8,283.2 203.6,283.1 204.2,283.0 204.6,283.0 205.3,282.9 206.0,282.8 206.7,282.7 207.1,282.6 207.8,282.5 208.4,282.4 209.2,282.3 209.5,282.3 210.2,282.2 210.9,282.1 211.6,282.0 211.9,281.9 212.7,281.8 213.3,281.7 214.1,281.7 214.4,281.6 215.1,281.5 215.8,281.4 216.5,281.3 216.9,281.2 217.6,281.2 218.2,281.1 218.9,281.0 219.4,280.9 220.0,280.8 220.7,280.7 221.4,280.6 221.9,280.6 222.4,280.5 223.2,280.4 223.8,280.3 224.4,280.2 224.9,280.1 225.6,280.0 226.3,279.9 226.9,279.9 227.3,279.8 228.1,279.7 228.8,279.6 229.4,279.5 229.8,279.4 230.5,279.3 231.2,279.2 231.9,279.1 232.2,279.1 232.9,279.0 233.7,278.9 234.3,278.8 234.7,278.7 235.4,278.6 236.1,278.6 236.8,278.5 237.2,278.4 237.8,278.3 238.6,278.2 239.2,278.1 239.6,278.1 240.3,278.0 241.0,277.9 241.7,277.8 242.1,277.7 242.8,277.6 243.4,277.5 244.2,277.4 244.5,277.4 245.2,277.3 245.9,277.2 246.6,277.1 246.9,277.0 247.7,276.9 248.3,276.8 249.1,276.7 249.5,276.7 250.1,276.6 250.8,276.6 251.5,276.5 252.2,276.5 252.9,276.5 253.6,276.5 254.3,276.5 255.0,276.5 255.7,276.5 256.4,276.6 257.1,276.6 257.7,276.7 258.1,276.8 258.9,276.9 259.6,277.0 259.9,277.1 260.6,277.2 261.3,277.4 261.6,277.5 262.4,277.7 262.7,277.8 263.4,278.1 263.8,278.2 264.3,278.4 264.8,278.7 265.1,278.9 265.7,279.1 266.2,279.5 266.6,279.7 266.9,279.9 267.3,280.2 267.8,280.6 268.2,280.9 268.6,281.2 269.0,281.6 269.3,281.9 269.6,282.3 269.9,282.6 270.2,283.0 270.4,283.4 270.8,283.8 271.1,284.4 271.3,284.8 271.5,285.1 271.8,285.8 271.9,286.1 272.1,286.9 272.2,287.2 272.4,287.9 272.5,288.6 272.5,288.9 272.6,289.6 272.6,290.4 272.5,290.7 272.1,291.3 271.8,291.8 271.5,292.1 271.1,292.4 270.8,292.7 270.4,292.9 270.0,293.1 269.4,293.5 269.0,293.7 268.6,293.9 267.9,294.1 267.6,294.2 266.9,294.5 266.6,294.6 265.9,294.8 265.5,294.9 264.8,295.1 264.3,295.2 263.8,295.4 263.1,295.6 262.7,295.6 262.0,295.8 261.3,295.9 260.9,296.0 260.2,296.1 259.6,296.2 258.9,296.3 258.5,296.4 257.8,296.5 257.1,296.5 256.4,296.6 255.9,296.6 255.3,296.7 254.6,296.8 253.9,296.8 253.2,296.9 252.6,296.9 251.8,296.9 251.1,297.0 250.4,297.0 250.1,297.0Z M252.9,296.3 252.2,296.4 251.5,296.4 250.8,296.4 250.1,296.4 249.4,296.5 248.7,296.5 248.0,296.5 247.3,296.5 246.6,296.5 245.9,296.5 245.2,296.5 244.5,296.5 243.8,296.5 243.1,296.5 242.4,296.5 241.7,296.5 241.0,296.5 240.3,296.5 239.6,296.5 238.9,296.5 238.2,296.5 237.5,296.5 236.8,296.5 236.1,296.5 235.4,296.5 234.7,296.5 234.0,296.5 233.3,296.5 232.6,296.5 231.9,296.5 231.2,296.5 230.5,296.5 229.8,296.5 229.1,296.5 228.4,296.5 227.7,296.5 227.0,296.5 226.3,296.5 225.6,296.5 224.9,296.5 224.2,296.5 223.5,296.5 222.8,296.5 222.1,296.5 221.4,296.5 220.7,296.5 220.0,296.5 219.3,296.5 218.6,296.5 217.9,296.5 217.2,296.5 216.5,296.5 215.8,296.5 215.1,296.5 214.4,296.5 213.7,296.5 213.0,296.5 212.3,296.5 211.6,296.5 210.9,296.5 210.2,296.5 209.5,296.5 208.8,296.5 208.1,296.5 207.4,296.5 206.7,296.5 206.0,296.5 205.3,296.5 204.6,296.5 203.9,296.5 203.2,296.5 202.5,296.4 201.8,296.3 201.4,296.2 201.0,295.9 200.4,295.6 200.1,295.3 199.7,295.0 199.3,294.6 199.1,294.2 198.8,293.9 198.7,293.5 198.3,292.8 198.2,292.4 198.0,291.8 197.9,291.4 197.8,290.7 197.8,290.0 197.9,289.3 197.9,288.6 198.0,288.2 198.2,287.6 198.4,287.2 198.7,286.6 198.9,286.1 199.2,285.8 199.4,285.4 199.8,285.1 200.2,284.8 200.7,284.4 201.1,284.2 201.4,284.0 202.2,283.8 202.8,283.7 203.4,283.7 203.9,283.6 204.6,283.5 205.3,283.4 206.0,283.4 206.3,283.3 207.1,283.2 207.8,283.1 208.4,283.0 208.8,283.0 209.5,282.9 210.2,282.8 210.9,282.7 211.5,282.6 211.9,282.6 212.7,282.5 213.3,282.4 214.1,282.3 214.4,282.3 215.1,282.2 215.8,282.1 216.5,282.0 216.9,281.9 217.6,281.9 218.2,281.8 218.9,281.7 219.6,281.6 220.0,281.5 220.7,281.5 221.4,281.4 222.1,281.3 222.4,281.2 223.2,281.1 223.8,281.0 224.6,281.0 225.0,280.9 225.6,280.8 226.3,280.7 227.0,280.6 227.7,280.6 228.1,280.5 228.8,280.4 229.4,280.3 230.2,280.2 230.5,280.2 231.2,280.1 231.9,280.0 232.6,279.9 233.1,279.9 233.7,279.8 234.3,279.7 235.1,279.6 235.8,279.5 236.1,279.5 236.8,279.4 237.5,279.3 238.2,279.2 238.6,279.1 239.2,279.1 239.9,279.0 240.7,278.9 241.3,278.8 241.7,278.7 242.4,278.6 243.1,278.6 243.8,278.5 244.2,278.4 244.8,278.3 245.6,278.2 246.2,278.2 246.7,278.1 247.3,278.0 248.0,277.9 248.7,277.8 249.4,277.8 249.8,277.7 250.4,277.7 251.1,277.6 251.8,277.6 252.6,277.6 253.2,277.6 253.9,277.6 254.6,277.6 255.3,277.7 256.1,277.7 256.4,277.8 257.1,277.9 257.8,278.0 258.5,278.1 258.9,278.2 259.6,278.3 260.0,278.4 260.6,278.6 261.2,278.8 261.6,279.0 262.1,279.1 262.7,279.4 263.1,279.5 263.7,279.9 264.1,280.1 264.4,280.2 265.0,280.6 265.5,280.9 265.9,281.2 266.2,281.4 266.6,281.7 266.9,282.0 267.2,282.3 267.6,282.7 267.9,283.1 268.3,283.5 268.6,284.0 268.9,284.4 269.2,284.8 269.4,285.1 269.7,285.8 269.9,286.1 270.1,286.6 270.2,287.2 270.4,287.9 270.5,288.2 270.6,288.9 270.6,289.6 270.6,290.4 270.4,290.9 270.1,291.4 269.8,291.8 269.4,292.1 269.0,292.4 268.6,292.6 268.3,292.9 267.8,293.1 267.2,293.4 266.9,293.6 266.2,293.8 265.9,294.0 265.2,294.2 264.8,294.3 264.1,294.5 263.8,294.6 263.1,294.8 262.7,294.9 262.0,295.1 261.3,295.2 260.9,295.3 260.2,295.4 259.6,295.6 259.2,295.6 258.5,295.7 257.8,295.8 257.1,295.9 256.8,296.0 256.1,296.0 255.3,296.1 254.6,296.2 253.9,296.2 253.2,296.3 252.9,296.3Z M253.9,295.6 253.2,295.7 252.6,295.7 251.8,295.8 251.1,295.8 250.4,295.8 249.8,295.8 249.1,295.9 248.3,295.9 247.7,295.9 246.9,295.9 246.2,295.9 245.6,295.9 244.8,295.9 244.2,295.9 243.4,295.9 242.8,295.9 242.1,295.9 241.3,295.9 240.7,295.9 239.9,295.9 239.2,295.9 238.6,295.9 237.8,295.9 237.2,295.9 236.4,295.9 235.8,295.9 235.1,295.9 234.3,295.9 233.7,295.9 232.9,295.9 232.2,295.9 231.6,295.9 230.8,295.9 230.2,295.9 229.4,295.9 228.8,295.9 228.1,295.9 227.3,295.9 226.7,295.9 225.9,295.9 225.2,295.9 224.6,295.9 223.8,295.9 223.2,295.9 222.4,295.9 221.8,295.9 221.1,295.9 220.3,295.9 219.7,295.9 218.9,295.9 218.2,295.9 217.6,295.9 216.8,295.9 216.2,295.9 215.4,295.9 214.8,295.9 214.1,295.9 213.3,295.9 212.7,295.9 211.9,295.9 211.2,295.9 210.6,295.9 209.8,295.9 209.2,295.9 208.4,295.9 207.8,295.9 207.1,295.9 206.3,295.9 205.7,295.9 204.9,295.9 204.2,295.9 203.6,295.9 202.8,295.9 202.2,295.8 201.6,295.6 201.1,295.4 200.8,295.1 200.4,294.9 200.1,294.5 199.7,294.2 199.3,293.7 199.1,293.1 198.9,292.8 198.7,292.2 198.5,291.8 198.4,291.1 198.3,290.4 198.3,289.6 198.4,288.9 198.5,288.2 198.7,287.9 198.9,287.2 199.1,286.9 199.3,286.5 199.7,286.0 200.1,285.6 200.4,285.3 200.8,285.0 201.3,284.8 201.8,284.5 202.4,284.4 202.8,284.3 203.6,284.3 204.2,284.2 204.9,284.1 205.5,284.1 206.0,284.0 206.7,283.9 207.4,283.8 208.1,283.7 208.5,283.7 209.2,283.6 209.8,283.5 210.6,283.5 211.2,283.4 211.6,283.3 212.3,283.2 213.0,283.2 213.7,283.1 214.4,283.0 214.8,283.0 215.4,282.9 216.2,282.8 216.8,282.7 217.5,282.6 217.9,282.6 218.6,282.5 219.3,282.4 220.0,282.3 220.4,282.3 221.1,282.2 221.8,282.1 222.4,282.1 223.2,282.0 223.5,281.9 224.2,281.9 224.9,281.8 225.6,281.7 226.3,281.6 226.7,281.6 227.3,281.5 228.1,281.4 228.8,281.3 229.4,281.2 229.8,281.2 230.5,281.1 231.2,281.0 231.9,281.0 232.4,280.9 232.9,280.8 233.7,280.8 234.3,280.7 235.1,280.6 235.4,280.5 236.1,280.5 236.8,280.4 237.5,280.3 238.2,280.2 238.6,280.2 239.2,280.1 239.9,280.0 240.7,279.9 241.3,279.9 241.7,279.8 242.4,279.7 243.1,279.6 243.8,279.6 244.4,279.5 244.8,279.4 245.6,279.4 246.2,279.3 246.9,279.2 247.4,279.1 248.0,279.1 248.7,279.0 249.4,278.9 250.1,278.9 250.8,278.9 251.5,278.8 252.2,278.8 252.9,278.8 253.6,278.9 254.3,278.9 255.0,279.0 255.7,279.0 256.4,279.1 256.8,279.2 257.4,279.3 258.1,279.5 258.5,279.6 259.2,279.8 259.6,279.9 260.2,280.1 260.6,280.2 261.3,280.5 261.6,280.7 262.1,280.9 262.7,281.2 263.1,281.4 263.4,281.6 263.9,281.9 264.4,282.3 264.8,282.6 265.1,282.9 265.5,283.3 265.9,283.6 266.2,284.0 266.5,284.4 266.8,284.8 267.0,285.1 267.2,285.5 267.6,286.1 267.8,286.5 267.9,287.0 268.1,287.6 268.3,288.2 268.4,288.6 268.5,289.3 268.5,290.0 268.3,290.7 268.2,291.1 267.9,291.4 267.5,291.8 267.1,292.1 266.6,292.4 266.2,292.7 265.9,292.9 265.3,293.1 264.8,293.3 264.4,293.5 263.8,293.7 263.4,293.9 262.7,294.1 262.3,294.2 261.6,294.4 260.9,294.5 260.6,294.6 259.9,294.8 259.2,294.9 258.9,295.0 258.1,295.1 257.4,295.2 257.1,295.2 256.4,295.3 255.7,295.4 255.0,295.5 254.3,295.6 253.9,295.6Z M253.6,294.9 252.9,295.0 252.2,295.0 251.5,295.1 250.8,295.1 250.1,295.1 249.4,295.2 248.7,295.2 248.0,295.2 247.3,295.2 246.6,295.2 245.9,295.2 245.2,295.2 244.5,295.2 243.8,295.2 243.1,295.2 242.4,295.2 241.7,295.2 241.0,295.2 240.3,295.2 239.6,295.2 238.9,295.2 238.2,295.2 237.5,295.2 236.8,295.2 236.1,295.2 235.4,295.2 234.7,295.2 234.0,295.2 233.3,295.2 232.6,295.2 231.9,295.2 231.2,295.2 230.5,295.2 229.8,295.2 229.1,295.2 228.4,295.2 227.7,295.2 227.0,295.2 226.3,295.2 225.6,295.2 224.9,295.2 224.2,295.2 223.5,295.2 222.8,295.2 222.1,295.2 221.4,295.2 220.7,295.2 220.0,295.2 219.3,295.2 218.6,295.2 217.9,295.2 217.2,295.2 216.5,295.2 215.8,295.2 215.1,295.2 214.4,295.2 213.7,295.2 213.0,295.2 212.3,295.2 211.6,295.2 210.9,295.2 210.2,295.2 209.5,295.2 208.8,295.2 208.1,295.2 207.4,295.2 206.7,295.2 206.0,295.2 205.3,295.2 204.6,295.2 203.9,295.2 203.2,295.2 202.5,295.1 201.8,294.9 201.4,294.8 201.0,294.6 200.6,294.2 200.2,293.9 200.0,293.5 199.7,293.1 199.4,292.4 199.2,292.1 199.0,291.4 198.9,291.1 198.9,290.4 198.9,289.6 199.0,288.9 199.0,288.6 199.2,287.9 199.4,287.6 199.7,287.0 200.1,286.5 200.4,286.1 200.8,285.8 201.1,285.6 201.4,285.4 202.2,285.1 202.5,285.0 203.2,285.0 203.9,284.9 204.6,284.8 205.3,284.8 205.7,284.7 206.3,284.7 207.1,284.6 207.8,284.5 208.4,284.4 208.9,284.4 209.5,284.3 210.2,284.3 210.9,284.2 211.6,284.1 212.2,284.1 212.7,284.0 213.3,283.9 214.1,283.9 214.8,283.8 215.4,283.7 215.8,283.7 216.5,283.6 217.2,283.5 217.9,283.5 218.6,283.4 219.0,283.4 219.7,283.3 220.3,283.2 221.1,283.1 221.8,283.1 222.4,283.0 222.8,283.0 223.5,282.9 224.2,282.8 224.9,282.7 225.6,282.7 225.9,282.6 226.7,282.6 227.3,282.5 228.1,282.4 228.8,282.3 229.2,282.3 229.8,282.2 230.5,282.2 231.2,282.1 231.9,282.0 232.6,281.9 232.9,281.9 233.7,281.8 234.3,281.8 235.1,281.7 235.8,281.6 236.1,281.6 236.8,281.5 237.5,281.4 238.2,281.4 238.9,281.3 239.3,281.2 239.9,281.2 240.7,281.1 241.3,281.0 242.1,281.0 242.7,280.9 243.1,280.9 243.8,280.8 244.5,280.7 245.2,280.6 245.9,280.6 246.2,280.5 246.9,280.5 247.7,280.4 248.3,280.3 249.1,280.3 249.8,280.2 250.3,280.2 250.8,280.2 251.5,280.2 252.2,280.2 252.6,280.2 253.2,280.3 253.9,280.3 254.6,280.4 255.3,280.5 255.7,280.6 256.4,280.7 257.1,280.9 257.4,280.9 258.1,281.1 258.5,281.3 259.2,281.5 259.6,281.7 260.2,281.9 260.6,282.1 260.9,282.3 261.5,282.6 262.0,283.0 262.4,283.2 262.7,283.5 263.1,283.8 263.4,284.1 263.8,284.5 264.1,284.9 264.4,285.3 264.8,285.8 265.0,286.1 265.2,286.5 265.5,287.1 265.7,287.6 265.9,288.2 266.0,288.6 266.1,289.3 266.1,290.0 265.9,290.7 265.7,291.1 265.4,291.4 265.0,291.8 264.5,292.1 264.1,292.4 263.8,292.5 263.2,292.8 262.7,293.0 262.3,293.1 261.6,293.4 261.3,293.5 260.6,293.7 260.1,293.9 259.6,294.0 258.9,294.1 258.5,294.2 257.8,294.3 257.1,294.5 256.6,294.6 256.1,294.6 255.3,294.7 254.6,294.8 253.9,294.9 253.6,294.9Z M252.2,294.2 251.5,294.3 250.8,294.3 250.1,294.3 249.4,294.4 248.7,294.4 248.0,294.4 247.3,294.4 246.6,294.4 245.9,294.4 245.2,294.4 244.5,294.4 243.8,294.4 243.1,294.4 242.4,294.4 241.7,294.4 241.0,294.4 240.3,294.4 239.6,294.4 238.9,294.4 238.2,294.4 237.5,294.4 236.8,294.4 236.1,294.4 235.4,294.4 234.7,294.4 234.0,294.4 233.3,294.4 232.6,294.4 231.9,294.4 231.2,294.4 230.5,294.4 229.8,294.4 229.1,294.4 228.4,294.4 227.7,294.4 227.0,294.4 226.3,294.4 225.6,294.4 224.9,294.4 224.2,294.4 223.5,294.4 222.8,294.4 222.1,294.4 221.4,294.4 220.7,294.4 220.0,294.4 219.3,294.4 218.6,294.4 217.9,294.4 217.2,294.4 216.5,294.4 215.8,294.4 215.1,294.4 214.4,294.4 213.7,294.4 213.0,294.4 212.3,294.4 211.6,294.4 210.9,294.4 210.2,294.4 209.5,294.4 208.8,294.4 208.1,294.4 207.4,294.4 206.7,294.4 206.0,294.4 205.3,294.4 204.6,294.4 203.9,294.4 203.2,294.4 202.5,294.3 202.0,294.2 201.4,293.9 201.1,293.7 200.8,293.4 200.4,292.9 200.1,292.4 199.9,292.1 199.7,291.5 199.6,291.1 199.5,290.4 199.5,289.6 199.6,288.9 199.7,288.6 200.0,287.9 200.1,287.6 200.4,287.2 200.8,286.8 201.1,286.4 201.6,286.1 202.2,285.9 202.6,285.8 203.2,285.8 203.9,285.7 204.6,285.6 205.3,285.6 206.0,285.5 206.7,285.4 207.1,285.4 207.8,285.4 208.4,285.3 209.2,285.2 209.8,285.2 210.6,285.1 210.9,285.1 211.6,285.0 212.3,285.0 213.0,284.9 213.7,284.8 214.4,284.8 214.8,284.7 215.4,284.7 216.2,284.6 216.8,284.6 217.6,284.5 218.2,284.4 218.7,284.4 219.3,284.3 220.0,284.3 220.7,284.2 221.4,284.2 222.1,284.1 222.7,284.1 223.2,284.0 223.8,283.9 224.6,283.9 225.2,283.8 225.9,283.8 226.7,283.7 227.0,283.7 227.7,283.6 228.4,283.5 229.1,283.5 229.8,283.4 230.5,283.4 230.8,283.3 231.6,283.3 232.2,283.2 232.9,283.1 233.7,283.1 234.3,283.0 234.7,283.0 235.4,282.9 236.1,282.9 236.8,282.8 237.5,282.8 238.2,282.7 238.7,282.6 239.2,282.6 239.9,282.5 240.7,282.5 241.3,282.4 242.1,282.4 242.7,282.3 243.1,282.3 243.8,282.2 244.5,282.1 245.2,282.1 245.9,282.0 246.6,282.0 246.9,281.9 247.7,281.9 248.3,281.8 249.1,281.8 249.8,281.7 250.4,281.7 251.1,281.7 251.8,281.8 252.6,281.8 253.2,281.9 253.6,281.9 254.3,282.1 255.0,282.2 255.5,282.3 256.1,282.5 256.7,282.6 257.1,282.8 257.6,283.0 258.1,283.2 258.5,283.4 259.1,283.7 259.6,284.0 259.9,284.2 260.2,284.5 260.6,284.8 261.0,285.1 261.4,285.4 261.7,285.8 262.0,286.2 262.4,286.7 262.6,287.2 262.8,287.6 263.0,288.2 263.1,288.6 263.3,289.3 263.3,290.0 263.1,290.7 262.9,291.1 262.5,291.4 262.0,291.8 261.6,292.0 261.3,292.2 260.7,292.4 260.2,292.6 259.8,292.8 259.2,293.0 258.6,293.1 258.1,293.3 257.4,293.4 257.1,293.5 256.4,293.7 255.7,293.8 255.3,293.9 254.6,293.9 253.9,294.0 253.2,294.1 252.6,294.2 252.2,294.2Z M252.2,293.2 251.5,293.3 250.8,293.3 250.1,293.4 249.4,293.4 248.7,293.4 248.0,293.4 247.3,293.4 246.6,293.4 245.9,293.4 245.2,293.4 244.5,293.4 243.8,293.4 243.1,293.4 242.4,293.4 241.7,293.4 241.0,293.4 240.3,293.4 239.6,293.4 238.9,293.4 238.2,293.4 237.5,293.4 236.8,293.4 236.1,293.4 235.4,293.4 234.7,293.4 234.0,293.4 233.3,293.4 232.6,293.4 231.9,293.4 231.2,293.4 230.5,293.4 229.8,293.4 229.1,293.4 228.4,293.4 227.7,293.4 227.0,293.4 226.3,293.4 225.6,293.4 224.9,293.4 224.2,293.4 223.5,293.4 222.8,293.4 222.1,293.4 221.4,293.4 220.7,293.4 220.0,293.4 219.3,293.4 218.6,293.4 217.9,293.4 217.2,293.4 216.5,293.4 215.8,293.4 215.1,293.4 214.4,293.4 213.7,293.4 213.0,293.4 212.3,293.4 211.6,293.4 210.9,293.4 210.2,293.4 209.5,293.4 208.8,293.4 208.1,293.4 207.4,293.4 206.7,293.4 206.0,293.4 205.3,293.4 204.6,293.4 203.9,293.4 203.2,293.4 202.5,293.3 202.0,293.1 201.5,292.8 201.1,292.4 200.9,292.1 200.7,291.8 200.4,291.1 200.3,290.7 200.3,290.0 200.3,289.3 200.4,288.9 200.7,288.2 200.9,287.9 201.2,287.6 201.6,287.2 202.2,286.9 202.5,286.8 203.2,286.7 203.9,286.6 204.6,286.6 205.3,286.6 206.0,286.5 206.3,286.5 207.1,286.4 207.8,286.4 208.4,286.3 209.2,286.3 209.8,286.2 210.6,286.2 211.2,286.1 211.6,286.1 212.3,286.1 213.0,286.0 213.7,286.0 214.4,285.9 215.1,285.9 215.8,285.8 216.4,285.8 216.8,285.8 217.6,285.7 218.2,285.7 218.9,285.6 219.7,285.6 220.3,285.5 221.1,285.5 221.5,285.4 222.1,285.4 222.8,285.4 223.5,285.3 224.2,285.3 224.9,285.2 225.6,285.2 226.3,285.1 226.7,285.1 227.3,285.1 228.1,285.0 228.8,285.0 229.4,284.9 230.2,284.9 230.8,284.8 231.6,284.8 231.9,284.7 232.6,284.7 233.3,284.6 234.0,284.6 234.7,284.6 235.4,284.5 236.1,284.5 236.8,284.4 237.2,284.4 237.8,284.3 238.6,284.3 239.2,284.2 239.9,284.2 240.7,284.1 241.3,284.1 242.1,284.1 242.4,284.0 243.1,284.0 243.8,283.9 244.5,283.9 245.2,283.8 245.9,283.8 246.6,283.7 247.2,283.7 247.7,283.7 248.3,283.6 249.1,283.6 249.8,283.6 250.4,283.6 251.1,283.7 251.5,283.7 252.2,283.8 252.9,283.9 253.6,284.1 253.9,284.1 254.6,284.4 255.0,284.5 255.7,284.8 256.1,284.9 256.4,285.1 257.0,285.4 257.4,285.7 257.8,286.0 258.1,286.3 258.5,286.7 258.9,287.1 259.2,287.6 259.4,287.9 259.6,288.3 259.8,288.9 259.9,289.6 259.9,290.0 259.8,290.4 259.6,290.8 259.2,291.1 258.9,291.4 258.2,291.8 257.8,291.9 257.4,292.1 256.8,292.3 256.3,292.4 255.7,292.6 255.0,292.8 254.6,292.8 253.9,292.9 253.2,293.1 252.6,293.1 252.2,293.2Z M251.1,291.8 250.4,291.9 249.8,291.9 249.1,292.0 248.3,292.0 247.7,292.0 246.9,292.0 246.2,292.0 245.6,292.0 244.8,292.0 244.2,292.0 243.4,292.0 242.8,292.0 242.1,292.0 241.3,292.0 240.7,292.0 239.9,292.0 239.2,292.0 238.6,292.0 237.8,292.0 237.2,292.0 236.4,292.0 235.8,292.0 235.1,292.0 234.3,292.0 233.7,292.0 232.9,292.0 232.2,292.0 231.6,292.0 230.8,292.0 230.2,292.0 229.4,292.0 228.8,292.0 228.1,292.0 227.3,292.0 226.7,292.0 225.9,292.0 225.2,292.0 224.6,292.0 223.8,292.0 223.2,292.0 222.4,292.0 221.8,292.0 221.1,292.0 220.3,292.0 219.7,292.0 218.9,292.0 218.2,292.0 217.6,292.0 216.8,292.0 216.2,292.0 215.4,292.0 214.8,292.0 214.1,292.0 213.3,292.0 212.7,292.0 211.9,292.0 211.2,292.0 210.6,292.0 209.8,292.0 209.2,292.0 208.4,292.0 207.8,292.0 207.1,292.0 206.3,292.0 205.7,292.0 204.9,292.0 204.2,292.0 203.6,292.0 202.8,292.0 202.2,291.8 201.9,291.4 201.6,291.1 201.4,290.5 201.4,290.0 201.4,289.5 201.7,288.9 201.9,288.6 202.3,288.2 202.8,288.1 203.6,288.0 204.2,288.0 204.9,288.0 205.7,288.0 206.3,287.9 207.1,287.9 207.4,287.9 208.1,287.9 208.8,287.8 209.5,287.8 210.2,287.8 210.9,287.7 211.6,287.7 212.3,287.7 213.0,287.7 213.7,287.6 214.4,287.6 215.1,287.6 215.8,287.6 216.2,287.5 216.8,287.5 217.6,287.5 218.2,287.5 218.9,287.4 219.7,287.4 220.3,287.4 221.1,287.3 221.8,287.3 222.4,287.3 223.2,287.3 223.8,287.2 224.5,287.2 224.9,287.2 225.6,287.2 226.3,287.1 227.0,287.1 227.7,287.1 228.4,287.0 229.1,287.0 229.8,287.0 230.5,287.0 231.2,286.9 231.9,286.9 232.6,286.9 233.3,286.9 233.7,286.8 234.3,286.8 235.1,286.8 235.8,286.8 236.4,286.7 237.2,286.7 237.8,286.7 238.6,286.6 239.2,286.6 239.9,286.6 240.7,286.6 241.3,286.5 242.0,286.5 242.4,286.5 243.1,286.5 243.8,286.4 244.5,286.4 245.2,286.4 245.9,286.3 246.6,286.3 247.3,286.3 248.0,286.3 248.7,286.3 249.4,286.3 250.1,286.4 250.8,286.5 251.1,286.5 251.8,286.7 252.2,286.9 252.9,287.2 253.2,287.4 253.6,287.6 254.0,287.9 254.3,288.2 254.6,288.7 254.9,289.3 255.0,289.8 255.0,290.0 254.6,290.6 254.3,290.9 253.9,291.1 253.2,291.3 252.9,291.4 252.2,291.6 251.5,291.7 251.1,291.8Z" fill="none" stroke="#1a1a1a" stroke-width="0.55" stroke-linejoin="round"/>
<ellipse cx="259.5" cy="248.5" rx="6.3" ry="8.3" fill="none" stroke="#333" stroke-width="0.7"/>
<path d="M408.0,242.9h0.01M382.5,269.0h0.01M427.5,268.1h0.01M364.8,272.4h0.01M374.0,285.2h0.01M392.9,292.9h0.01M395.4,253.6h0.01M368.6,262.9h0.01M406.9,284.7h0.01M403.3,257.7h0.01M408.0,247.9h0.01M408.1,257.5h0.01M427.9,281.9h0.01M405.3,253.7h0.01M409.0,273.2h0.01M387.0,259.3h0.01M423.4,262.4h0.01M406.9,287.5h0.01M368.3,293.0h0.01M418.3,258.9h0.01M379.0,250.9h0.01M416.6,270.4h0.01M384.3,260.9h0.01M390.7,264.8h0.01M415.8,256.3h0.01M419.9,281.8h0.01M393.0,276.6h0.01M387.2,268.8h0.01M408.0,295.2h0.01M397.0,265.9h0.01M398.7,265.4h0.01M376.4,294.3h0.01M385.6,259.8h0.01M383.7,277.7h0.01M417.8,272.9h0.01M397.5,253.9h0.01M412.9,266.7h0.01M439.9,264.2h0.01M377.8,242.2h0.01M362.3,276.6h0.01M404.9,251.8h0.01M367.2,272.0h0.01M390.9,271.2h0.01M397.7,257.0h0.01M363.1,269.9h0.01M400.0,270.6h0.01M417.0,281.1h0.01M388.1,276.3h0.01M354.3,277.6h0.01M397.4,282.4h0.01M418.0,254.7h0.01M395.4,283.8h0.01M387.0,269.0h0.01M385.7,276.3h0.01M404.0,256.3h0.01M369.3,236.7h0.01M415.2,261.7h0.01M384.0,260.6h0.01M379.4,277.7h0.01M410.7,236.3h0.01M397.4,269.5h0.01M391.5,269.5h0.01M431.9,272.5h0.01M422.3,282.4h0.01M367.4,293.2h0.01M402.3,264.0h0.01M415.1,299.8h0.01M382.2,258.4h0.01M405.4,242.9h0.01M375.5,268.8h0.01M413.3,275.8h0.01M415.2,283.5h0.01M389.2,263.1h0.01M391.7,263.4h0.01M420.7,280.4h0.01M356.3,275.0h0.01M376.6,252.2h0.01M424.4,287.0h0.01M422.0,277.7h0.01M435.1,251.9h0.01M415.2,258.5h0.01M385.8,244.7h0.01M429.2,293.5h0.01M416.1,259.8h0.01M401.9,253.0h0.01M392.8,289.8h0.01M431.1,277.8h0.01M414.3,266.4h0.01M405.8,265.8h0.01M408.2,259.2h0.01M418.8,264.9h0.01M402.5,266.3h0.01M429.6,281.2h0.01M382.0,254.7h0.01M410.1,269.8h0.01M393.5,271.3h0.01M432.0,267.0h0.01M427.5,261.3h0.01M393.5,272.7h0.01M396.9,261.2h0.01M376.6,263.4h0.01M390.1,268.2h0.01M419.7,275.6h0.01M422.0,271.3h0.01M407.5,277.2h0.01M413.1,282.8h0.01M387.1,274.4h0.01M402.6,285.8h0.01M415.6,260.2h0.01M407.1,278.4h0.01M399.6,286.2h0.01M403.9,250.3h0.01M404.7,279.5h0.01M382.2,278.3h0.01M342.6,297.1h0.01M370.0,261.5h0.01M392.0,248.3h0.01M404.6,255.3h0.01M371.1,235.5h0.01M412.4,284.8h0.01M392.7,271.3h0.01M430.7,273.9h0.01M421.7,282.5h0.01M413.5,275.9h0.01M422.5,271.5h0.01M401.2,258.3h0.01M356.5,255.4h0.01M391.9,283.2h0.01M391.5,240.4h0.01M412.4,286.0h0.01M405.1,272.7h0.01M404.4,267.5h0.01M427.2,256.7h0.01M383.5,247.8h0.01M388.4,258.6h0.01M385.4,271.3h0.01M420.0,249.2h0.01M401.2,258.6h0.01M385.2,262.1h0.01M406.3,245.6h0.01M429.4,267.3h0.01M384.0,245.8h0.01M420.4,278.5h0.01M416.7,270.7h0.01M434.1,290.9h0.01M442.4,273.5h0.01M418.3,263.2h0.01M401.2,264.0h0.01" stroke="#555" stroke-width="0.9" stroke-linecap="round"/>
<path d="M406.6,295.1 405.9,295.2 405.2,295.2 404.6,295.3 403.9,295.3 403.1,295.3 402.4,295.3 401.8,295.3 401.1,295.3 400.4,295.3 399.6,295.3 398.9,295.3 398.2,295.3 397.6,295.3 396.9,295.3 396.1,295.3 395.4,295.3 394.8,295.3 394.1,295.3 393.4,295.3 392.6,295.3 391.9,295.3 391.2,295.3 390.6,295.3 389.9,295.3 389.1,295.3 388.4,295.3 387.8,295.3 387.1,295.3 386.4,295.3 385.6,295.3 384.9,295.3 384.2,295.3 383.6,295.3 382.9,295.3 382.1,295.3 381.4,295.3 380.8,295.3 380.1,295.3 379.4,295.3 378.6,295.3 377.9,295.3 377.2,295.3 376.6,295.3 375.9,295.3 375.1,295.3 374.4,295.3 373.8,295.3 373.1,295.3 372.4,295.3 371.6,295.3 370.9,295.3 370.2,295.3 369.6,295.3 368.9,295.3 368.1,295.3 367.4,295.3 366.8,295.3 366.1,295.3 365.4,295.3 364.6,295.3 363.9,295.3 363.2,295.3 362.6,295.3 361.9,295.3 361.1,295.3 360.4,295.3 359.8,295.3 359.1,295.3 358.4,295.3 357.6,295.3 356.9,295.3 356.2,295.3 355.6,295.3 354.9,295.3 354.1,295.3 353.4,295.3 352.8,295.3 352.1,295.3 351.4,295.3 350.6,295.3 349.9,295.3 349.2,295.3 348.6,295.3 347.9,295.3 347.1,295.3 346.4,295.2 346.0,295.1 345.4,294.9 345.1,294.7 344.7,294.4 344.3,294.1 344.0,293.7 343.6,293.2 343.4,292.6 343.2,292.3 343.0,291.6 342.9,291.2 342.8,290.6 342.8,289.9 342.9,289.1 342.9,288.7 343.1,288.1 343.3,287.8 343.6,287.1 344.0,286.7 344.3,286.4 344.7,286.0 345.1,285.8 345.4,285.6 346.1,285.4 346.6,285.3 347.1,285.3 347.9,285.3 348.6,285.3 349.2,285.3 349.9,285.3 350.6,285.3 351.4,285.3 352.1,285.3 352.8,285.3 353.4,285.3 354.1,285.3 354.9,285.3 355.6,285.3 356.2,285.3 356.9,285.3 357.6,285.3 358.4,285.3 359.1,285.3 359.8,285.3 360.4,285.3 361.1,285.3 361.9,285.3 362.6,285.3 363.2,285.3 363.9,285.3 364.6,285.3 365.4,285.3 366.1,285.3 366.8,285.3 367.4,285.3 368.1,285.3 368.9,285.3 369.6,285.3 370.2,285.3 370.9,285.3 371.6,285.3 372.4,285.3 373.1,285.3 373.8,285.2 374.4,285.2 375.1,285.2 375.9,285.2 376.6,285.2 377.2,285.2 377.9,285.2 378.6,285.2 379.4,285.1 380.1,285.1 380.8,285.1 381.4,285.1 382.1,285.0 382.9,285.0 383.2,284.9 383.9,284.9 384.6,284.8 385.3,284.7 386.0,284.7 386.4,284.6 387.1,284.5 387.8,284.4 388.4,284.3 388.8,284.2 389.5,284.0 389.9,283.9 390.6,283.7 391.1,283.6 391.6,283.4 392.1,283.2 392.6,283.0 393.0,282.8 393.7,282.5 394.1,282.3 394.5,282.1 395.1,281.9 395.4,281.7 396.1,281.4 396.5,281.3 397.0,281.1 397.6,280.9 398.2,280.8 398.6,280.7 399.3,280.6 400.0,280.5 400.7,280.5 401.4,280.5 402.1,280.6 402.8,280.7 403.1,280.8 403.9,281.0 404.2,281.1 404.8,281.4 405.2,281.7 405.6,281.9 406.0,282.1 406.6,282.5 407.0,282.8 407.4,283.0 407.7,283.2 408.2,283.6 408.8,283.8 409.1,284.0 409.5,284.2 410.1,284.6 410.5,284.8 410.9,285.0 411.3,285.3 411.9,285.6 412.2,285.8 412.6,286.1 413.0,286.4 413.5,286.7 413.9,287.1 414.3,287.4 414.6,287.8 414.9,288.1 415.1,288.4 415.4,289.0 415.5,289.5 415.5,290.2 415.4,290.6 415.1,291.2 414.9,291.6 414.6,291.9 414.3,292.3 413.9,292.6 413.4,293.0 412.9,293.3 412.6,293.5 412.1,293.7 411.6,293.9 411.2,294.1 410.5,294.3 410.1,294.4 409.4,294.6 408.9,294.8 408.4,294.9 407.7,295.0 407.0,295.1 406.6,295.1Z M403.1,289.9 402.4,289.9 401.8,289.9 401.1,290.0 400.4,290.0 399.6,289.9 398.9,289.9 398.2,289.9 398.0,289.5 398.6,289.5 399.3,289.4 400.0,289.4 400.7,289.4 401.4,289.4 402.1,289.4 402.8,289.4 403.4,289.5 403.1,289.9Z" fill="#111" fill-opacity="0.7" fill-rule="evenodd"/>
<path d="M408.4,298.6 407.7,298.7 407.0,298.7 406.3,298.8 405.6,298.8 404.9,298.8 404.2,298.9 403.5,298.9 402.8,298.9 402.1,298.9 401.4,298.9 400.7,298.9 400.0,298.9 399.3,298.9 398.6,298.9 397.9,298.9 397.2,298.9 396.5,298.9 395.8,298.9 395.1,298.9 394.4,298.9 393.7,298.9 393.0,298.9 392.3,298.9 391.6,298.9 390.9,298.9 390.2,298.9 389.5,298.9 388.8,298.9 388.1,298.9 387.4,298.9 386.7,298.9 386.0,298.9 385.3,298.9 384.6,298.9 383.9,298.9 383.2,298.9 382.5,298.9 381.8,298.9 381.1,298.9 380.4,298.9 379.7,298.9 379.0,298.9 378.3,298.9 377.6,298.9 376.9,298.9 376.2,298.9 375.5,298.9 374.8,298.9 374.1,298.9 373.4,298.9 372.7,298.9 372.0,298.9 371.3,298.9 370.6,298.9 369.9,298.9 369.2,298.9 368.5,298.9 367.8,298.9 367.1,298.9 366.4,298.9 365.7,298.9 365.0,298.9 364.3,298.9 363.6,298.9 362.9,298.9 362.2,298.9 361.5,298.9 360.8,298.9 360.1,298.9 359.4,298.9 358.7,298.9 358.0,298.9 357.3,298.9 356.6,298.9 355.9,298.9 355.2,298.9 354.5,298.9 353.8,298.9 353.1,298.9 352.4,298.9 351.7,298.9 351.0,298.9 350.3,298.9 349.6,298.9 348.9,298.9 348.2,298.9 347.5,298.9 346.8,298.9 346.1,298.8 345.4,298.6 345.1,298.5 344.4,298.2 344.0,298.0 343.6,297.8 343.3,297.5 342.9,297.2 342.5,296.9 342.2,296.5 341.9,296.1 341.6,295.6 341.2,295.1 341.0,294.8 340.9,294.4 340.6,293.7 340.4,293.4 340.2,292.6 340.1,292.2 340.0,291.6 339.9,290.9 339.9,290.2 339.9,289.5 340.0,288.8 340.1,288.1 340.2,287.8 340.4,287.1 340.6,286.7 340.9,286.1 341.1,285.6 341.3,285.3 341.6,284.9 341.9,284.5 342.2,284.1 342.6,283.8 342.9,283.5 343.3,283.2 343.9,282.9 344.4,282.6 344.7,282.5 345.4,282.2 345.8,282.1 346.4,282.1 347.1,282.0 347.9,282.0 348.6,282.0 349.2,282.0 349.9,282.0 350.6,282.0 351.4,282.0 352.1,282.0 352.8,282.0 353.4,282.0 354.1,282.0 354.9,282.0 355.6,282.0 356.2,282.0 356.9,282.0 357.6,282.0 358.4,282.0 359.1,282.0 359.8,282.0 360.4,282.0 361.1,282.0 361.9,282.0 362.6,282.0 363.2,282.0 363.9,282.0 364.6,282.0 365.4,282.0 366.1,282.0 366.8,282.0 367.4,282.0 368.1,282.0 368.9,282.0 369.6,282.0 370.2,282.0 370.9,282.0 371.6,281.9 372.4,281.9 373.1,281.9 373.8,281.8 374.2,281.8 374.8,281.7 375.5,281.6 376.2,281.5 376.7,281.4 377.2,281.3 377.9,281.1 378.3,280.9 378.6,280.7 379.2,280.4 379.6,280.1 380.0,279.7 380.3,279.4 380.6,279.0 380.9,278.6 381.3,278.3 381.6,277.9 382.0,277.6 382.3,277.2 382.7,276.9 383.2,276.6 383.6,276.3 383.9,276.0 384.2,275.8 384.7,275.5 385.2,275.1 385.6,274.9 386.0,274.7 386.5,274.4 387.1,274.2 387.4,274.0 388.0,273.8 388.4,273.5 388.8,273.4 389.5,273.1 389.9,273.0 390.6,272.8 390.9,272.7 391.6,272.5 392.0,272.4 392.6,272.2 393.4,272.0 393.7,272.0 394.4,271.8 395.1,271.7 395.4,271.6 396.1,271.5 396.9,271.4 397.6,271.4 398.2,271.3 398.6,271.3 399.3,271.3 400.0,271.2 400.7,271.2 401.4,271.2 402.1,271.2 402.8,271.3 403.1,271.3 403.9,271.4 404.6,271.5 405.2,271.6 405.6,271.7 406.3,271.9 406.8,272.0 407.4,272.1 408.0,272.4 408.4,272.5 408.9,272.7 409.4,272.9 409.8,273.1 410.5,273.4 410.9,273.6 411.2,273.8 411.7,274.1 412.2,274.4 412.6,274.7 412.9,274.9 413.3,275.2 413.7,275.5 414.1,275.9 414.5,276.2 414.9,276.6 415.2,276.9 415.5,277.2 415.8,277.6 416.1,278.0 416.4,278.5 416.8,279.0 417.0,279.4 417.2,279.7 417.5,280.2 417.8,280.8 417.9,281.1 418.2,281.7 418.5,282.1 418.6,282.5 418.9,282.9 419.2,283.4 419.6,283.9 419.9,284.2 420.2,284.6 420.5,284.9 420.9,285.3 421.2,285.6 421.5,286.0 421.8,286.4 422.1,286.7 422.4,287.3 422.7,287.8 422.9,288.1 423.1,288.8 423.2,289.1 423.3,289.9 423.2,290.6 423.1,290.9 422.9,291.6 422.7,291.9 422.4,292.5 422.1,293.0 421.8,293.4 421.4,293.7 421.0,294.1 420.6,294.4 420.3,294.7 419.9,294.9 419.6,295.1 419.1,295.4 418.6,295.8 418.2,295.9 417.8,296.1 417.1,296.4 416.8,296.6 416.1,296.9 415.8,297.0 415.1,297.2 414.7,297.3 414.0,297.5 413.6,297.7 412.9,297.8 412.6,297.9 411.9,298.1 411.2,298.2 410.9,298.3 410.1,298.4 409.4,298.5 408.8,298.6 408.4,298.6Z M407.4,298.3 406.6,298.3 405.9,298.4 405.2,298.4 404.6,298.4 403.9,298.4 403.1,298.4 402.4,298.4 401.8,298.4 401.1,298.4 400.4,298.4 399.6,298.4 398.9,298.4 398.2,298.4 397.6,298.4 396.9,298.4 396.1,298.4 395.4,298.4 394.8,298.4 394.1,298.4 393.4,298.4 392.6,298.4 391.9,298.4 391.2,298.4 390.6,298.4 389.9,298.4 389.1,298.4 388.4,298.4 387.8,298.4 387.1,298.4 386.4,298.4 385.6,298.4 384.9,298.4 384.2,298.4 383.6,298.4 382.9,298.4 382.1,298.4 381.4,298.4 380.8,298.4 380.1,298.4 379.4,298.4 378.6,298.4 377.9,298.4 377.2,298.4 376.6,298.4 375.9,298.4 375.1,298.4 374.4,298.4 373.8,298.4 373.1,298.4 372.4,298.4 371.6,298.4 370.9,298.4 370.2,298.4 369.6,298.4 368.9,298.4 368.1,298.4 367.4,298.4 366.8,298.4 366.1,298.4 365.4,298.4 364.6,298.4 363.9,298.4 363.2,298.4 362.6,298.4 361.9,298.4 361.1,298.4 360.4,298.4 359.8,298.4 359.1,298.4 358.4,298.4 357.6,298.4 356.9,298.4 356.2,298.4 355.6,298.4 354.9,298.4 354.1,298.4 353.4,298.4 352.8,298.4 352.1,298.4 351.4,298.4 350.6,298.4 349.9,298.4 349.2,298.4 348.6,298.4 347.9,298.4 347.1,298.4 346.4,298.4 345.8,298.3 345.4,298.2 344.7,297.9 344.4,297.7 344.0,297.5 343.5,297.2 343.1,296.9 342.7,296.5 342.4,296.1 342.1,295.8 341.9,295.4 341.6,294.9 341.3,294.4 341.1,294.1 340.9,293.4 340.7,293.0 340.5,292.3 340.5,291.9 340.3,291.2 340.3,290.6 340.3,289.9 340.3,289.1 340.4,288.4 340.5,288.1 340.7,287.4 340.9,286.9 341.1,286.4 341.3,286.0 341.6,285.6 341.9,285.1 342.2,284.6 342.6,284.3 342.9,284.0 343.3,283.7 343.6,283.4 344.1,283.2 344.7,282.9 345.1,282.7 345.8,282.6 346.1,282.5 346.8,282.4 347.5,282.4 348.2,282.4 348.9,282.4 349.6,282.4 350.3,282.4 351.0,282.4 351.7,282.4 352.4,282.4 353.1,282.4 353.8,282.4 354.5,282.4 355.2,282.4 355.9,282.4 356.6,282.4 357.3,282.4 358.0,282.4 358.7,282.4 359.4,282.4 360.1,282.4 360.8,282.4 361.5,282.4 362.2,282.4 362.9,282.4 363.6,282.4 364.3,282.4 365.0,282.4 365.7,282.4 366.4,282.4 367.1,282.4 367.8,282.4 368.5,282.4 369.2,282.4 369.9,282.4 370.6,282.4 371.3,282.4 372.0,282.3 372.7,282.3 373.4,282.3 374.1,282.3 374.8,282.2 375.5,282.2 375.9,282.1 376.6,282.0 377.2,281.9 377.9,281.8 378.3,281.7 379.0,281.5 379.4,281.4 380.0,281.1 380.4,280.9 380.8,280.6 381.1,280.3 381.4,280.0 381.8,279.6 382.1,279.2 382.5,278.9 382.9,278.5 383.2,278.2 383.6,277.9 383.9,277.5 384.3,277.2 384.7,276.9 385.2,276.6 385.6,276.2 386.0,276.0 386.4,275.8 386.9,275.5 387.4,275.2 387.8,275.0 388.3,274.8 388.8,274.6 389.1,274.4 389.9,274.1 390.2,274.0 390.9,273.8 391.2,273.6 391.9,273.4 392.3,273.3 393.0,273.1 393.4,273.1 394.1,272.9 394.8,272.7 395.1,272.7 395.8,272.6 396.5,272.5 397.2,272.4 397.6,272.3 398.2,272.3 398.9,272.2 399.6,272.2 400.4,272.2 401.1,272.2 401.8,272.2 402.4,272.2 403.1,272.3 403.7,272.4 404.2,272.4 404.9,272.5 405.6,272.7 405.9,272.8 406.6,273.0 407.0,273.1 407.7,273.3 408.1,273.4 408.8,273.7 409.1,273.9 409.6,274.1 410.1,274.4 410.5,274.6 410.9,274.8 411.5,275.1 411.9,275.4 412.2,275.7 412.6,276.0 412.9,276.3 413.3,276.6 413.7,276.9 414.0,277.2 414.4,277.6 414.7,278.0 415.1,278.5 415.4,278.9 415.7,279.4 415.9,279.7 416.1,280.1 416.4,280.7 416.7,281.1 416.8,281.4 417.1,282.0 417.4,282.5 417.7,282.9 417.9,283.2 418.2,283.6 418.6,284.0 418.9,284.4 419.2,284.8 419.6,285.1 419.9,285.5 420.3,285.9 420.6,286.3 421.0,286.7 421.3,287.1 421.5,287.4 421.7,287.8 422.0,288.4 422.2,288.8 422.3,289.5 422.3,290.2 422.2,290.9 422.1,291.3 421.7,291.9 421.5,292.3 421.3,292.6 421.0,293.0 420.6,293.4 420.3,293.8 419.9,294.1 419.5,294.4 419.0,294.8 418.6,295.1 418.2,295.3 417.9,295.5 417.2,295.8 416.8,296.0 416.4,296.1 415.8,296.4 415.4,296.6 414.7,296.8 414.4,296.9 413.6,297.1 413.3,297.2 412.6,297.4 412.0,297.6 411.6,297.7 410.9,297.8 410.2,297.9 409.8,298.0 409.1,298.1 408.4,298.2 407.7,298.2 407.4,298.3Z M405.6,297.9 404.9,297.9 404.2,297.9 403.5,297.9 402.8,297.9 402.1,297.9 401.4,298.0 400.7,298.0 400.0,298.0 399.3,297.9 398.6,297.9 397.9,297.9 397.2,297.9 396.5,297.9 395.8,297.9 395.1,297.9 394.4,297.9 393.7,297.9 393.0,297.9 392.3,297.9 391.6,297.9 390.9,297.9 390.2,297.9 389.5,297.9 388.8,297.9 388.1,297.9 387.4,297.9 386.7,297.9 386.0,297.9 385.3,297.9 384.6,297.9 383.9,297.9 383.2,297.9 382.5,297.9 381.8,297.9 381.1,297.9 380.4,297.9 379.7,297.9 379.0,297.9 378.3,297.9 377.6,297.9 376.9,297.9 376.2,297.9 375.5,297.9 374.8,297.9 374.1,297.9 373.4,297.9 372.7,297.9 372.0,297.9 371.3,297.9 370.6,297.9 369.9,297.9 369.2,297.9 368.5,297.9 367.8,297.9 367.1,297.9 366.4,297.9 365.7,297.9 365.0,297.9 364.3,297.9 363.6,297.9 362.9,297.9 362.2,297.9 361.5,297.9 360.8,297.9 360.1,297.9 359.4,297.9 358.7,297.9 358.0,297.9 357.3,297.9 356.6,297.9 355.9,297.9 355.2,297.9 354.5,297.9 353.8,297.9 353.1,297.9 352.4,297.9 351.7,297.9 351.0,297.9 350.3,297.9 349.6,297.9 348.9,297.9 348.2,297.9 347.5,297.9 346.8,297.9 346.4,297.9 345.8,297.8 345.1,297.6 344.7,297.4 344.3,297.2 343.8,296.9 343.3,296.5 343.0,296.1 342.7,295.8 342.4,295.4 342.1,295.1 341.9,294.7 341.6,294.1 341.4,293.7 341.2,293.2 341.0,292.6 340.9,292.0 340.8,291.6 340.7,290.9 340.6,290.2 340.6,289.5 340.7,288.8 340.9,288.2 341.0,287.8 341.2,287.1 341.4,286.7 341.6,286.3 341.9,285.7 342.2,285.3 342.5,284.9 342.8,284.6 343.2,284.2 343.6,283.9 344.0,283.7 344.4,283.5 345.0,283.2 345.4,283.1 346.1,282.9 346.8,282.9 347.5,282.9 348.2,282.9 348.9,282.9 349.6,282.9 350.3,282.9 351.0,282.9 351.7,282.9 352.4,282.9 353.1,282.9 353.8,282.9 354.5,282.9 355.2,282.9 355.9,282.9 356.6,282.9 357.3,282.9 358.0,282.9 358.7,282.9 359.4,282.9 360.1,282.9 360.8,282.9 361.5,282.9 362.0,282.9 362.6,282.8 363.2,282.8 363.9,282.8 364.6,282.8 365.4,282.8 366.1,282.8 366.8,282.8 367.4,282.8 368.1,282.8 368.9,282.8 369.6,282.8 370.2,282.8 370.9,282.8 371.6,282.8 372.4,282.8 373.1,282.8 373.8,282.7 374.4,282.7 375.1,282.7 375.9,282.6 376.6,282.6 377.2,282.5 377.6,282.5 378.3,282.4 379.0,282.3 379.6,282.1 380.1,282.0 380.7,281.8 381.1,281.6 381.5,281.4 382.1,281.1 382.5,280.8 382.9,280.5 383.2,280.1 383.6,279.8 383.9,279.4 384.2,279.1 384.6,278.7 384.9,278.4 385.3,278.1 385.6,277.8 386.0,277.6 386.4,277.2 387.0,276.9 387.4,276.6 387.8,276.4 388.1,276.2 388.8,275.9 389.1,275.7 389.5,275.5 390.2,275.2 390.6,275.1 391.2,274.8 391.6,274.7 392.3,274.5 392.6,274.4 393.4,274.2 393.7,274.1 394.4,273.9 395.1,273.8 395.4,273.7 396.1,273.6 396.9,273.5 397.5,273.4 397.9,273.4 398.6,273.3 399.3,273.2 400.0,273.2 400.7,273.2 401.4,273.2 402.1,273.2 402.8,273.3 403.5,273.4 403.9,273.4 404.6,273.5 405.2,273.7 405.6,273.8 406.3,274.0 406.8,274.1 407.4,274.3 407.7,274.4 408.4,274.7 408.8,274.9 409.3,275.1 409.8,275.4 410.1,275.6 410.5,275.9 411.0,276.2 411.5,276.6 411.9,276.9 412.2,277.2 412.6,277.5 412.9,277.8 413.3,278.2 413.6,278.6 413.9,279.0 414.2,279.4 414.4,279.7 414.7,280.1 415.1,280.7 415.3,281.1 415.5,281.4 415.8,281.9 416.1,282.5 416.4,282.9 416.6,283.2 416.9,283.6 417.2,283.9 417.5,284.2 417.9,284.6 418.3,284.9 418.6,285.3 419.0,285.6 419.3,286.0 419.6,286.4 419.9,286.7 420.3,287.2 420.6,287.7 420.9,288.1 421.0,288.4 421.2,289.1 421.3,289.9 421.2,290.6 421.0,291.2 420.9,291.6 420.6,292.1 420.3,292.6 420.0,293.0 419.6,293.4 419.2,293.7 418.9,294.0 418.6,294.3 418.2,294.5 417.8,294.8 417.2,295.1 416.8,295.3 416.4,295.5 415.8,295.8 415.4,296.0 414.9,296.1 414.4,296.4 413.9,296.5 413.3,296.7 412.7,296.9 412.2,297.0 411.6,297.1 411.2,297.2 410.5,297.4 409.8,297.5 409.4,297.6 408.8,297.6 408.1,297.7 407.4,297.8 406.6,297.9 405.9,297.9 405.6,297.9Z M408.1,297.2 407.4,297.3 406.6,297.4 405.9,297.4 405.2,297.4 404.6,297.5 403.9,297.5 403.1,297.5 402.4,297.5 401.8,297.5 401.1,297.5 400.4,297.5 399.6,297.5 398.9,297.5 398.2,297.5 397.6,297.5 396.9,297.5 396.1,297.5 395.4,297.5 394.8,297.5 394.1,297.5 393.4,297.5 392.6,297.5 391.9,297.5 391.2,297.5 390.6,297.5 389.9,297.5 389.1,297.5 388.4,297.5 387.8,297.5 387.1,297.5 386.4,297.5 385.6,297.5 384.9,297.5 384.2,297.5 383.6,297.5 382.9,297.5 382.1,297.5 381.4,297.5 380.8,297.5 380.1,297.5 379.4,297.5 378.6,297.5 377.9,297.5 377.2,297.5 376.6,297.5 375.9,297.5 375.1,297.5 374.4,297.5 373.8,297.5 373.1,297.5 372.4,297.5 371.6,297.5 370.9,297.5 370.2,297.5 369.6,297.5 368.9,297.5 368.1,297.5 367.4,297.5 366.8,297.5 366.1,297.5 365.4,297.5 364.6,297.5 363.9,297.5 363.2,297.5 362.6,297.5 361.9,297.5 361.1,297.5 360.4,297.5 359.8,297.5 359.1,297.5 358.4,297.5 357.6,297.5 356.9,297.5 356.2,297.5 355.6,297.5 354.9,297.5 354.1,297.5 353.4,297.5 352.8,297.5 352.1,297.5 351.4,297.5 350.6,297.5 349.9,297.5 349.2,297.5 348.6,297.5 347.9,297.5 347.1,297.5 346.4,297.4 345.8,297.3 345.4,297.2 344.7,296.9 344.4,296.7 344.0,296.4 343.6,296.1 343.3,295.8 342.9,295.4 342.6,295.0 342.2,294.5 342.0,294.1 341.8,293.7 341.6,293.0 341.4,292.6 341.2,291.9 341.2,291.6 341.1,290.9 341.0,290.2 341.0,289.5 341.1,288.8 341.2,288.4 341.4,287.8 341.6,287.3 341.8,286.7 342.0,286.4 342.2,285.9 342.6,285.5 342.9,285.1 343.3,284.7 343.6,284.4 344.0,284.2 344.5,283.9 345.1,283.7 345.4,283.5 346.1,283.4 346.8,283.3 347.5,283.3 348.2,283.3 348.9,283.3 349.6,283.3 350.3,283.3 351.0,283.3 351.7,283.3 352.4,283.3 353.1,283.3 353.8,283.3 354.5,283.3 355.2,283.3 355.9,283.3 356.6,283.3 357.3,283.3 358.0,283.3 358.7,283.3 359.4,283.3 360.1,283.3 360.8,283.3 361.5,283.3 362.2,283.3 362.9,283.3 363.6,283.3 364.3,283.3 365.0,283.3 365.7,283.3 366.4,283.3 367.1,283.3 367.8,283.3 368.5,283.3 369.2,283.3 369.9,283.3 370.6,283.3 371.3,283.3 372.0,283.2 372.7,283.2 373.4,283.2 374.1,283.2 374.5,283.2 375.1,283.2 375.9,283.1 376.6,283.1 377.2,283.1 377.9,283.0 378.6,282.9 379.4,282.9 379.7,282.8 380.4,282.7 381.1,282.5 381.4,282.5 382.1,282.2 382.5,282.1 383.2,281.8 383.6,281.6 383.9,281.4 384.3,281.1 384.7,280.8 385.0,280.4 385.4,280.1 385.8,279.7 386.1,279.4 386.5,279.0 386.9,278.6 387.4,278.3 387.8,278.0 388.1,277.8 388.4,277.6 389.0,277.2 389.5,277.0 389.9,276.8 390.3,276.6 390.9,276.3 391.2,276.1 391.9,275.9 392.3,275.7 393.0,275.5 393.4,275.4 394.1,275.2 394.4,275.1 395.1,275.0 395.8,274.8 396.1,274.7 396.9,274.6 397.6,274.5 398.2,274.5 398.6,274.4 399.3,274.4 400.0,274.3 400.7,274.3 401.4,274.3 402.1,274.4 402.8,274.4 403.1,274.5 403.9,274.6 404.6,274.7 405.0,274.8 405.6,275.0 406.2,275.1 406.6,275.3 407.2,275.5 407.7,275.7 408.1,275.9 408.7,276.2 409.1,276.4 409.4,276.6 409.8,276.9 410.3,277.2 410.8,277.6 411.2,277.9 411.6,278.3 411.9,278.6 412.2,279.0 412.5,279.4 412.8,279.7 413.1,280.1 413.3,280.4 413.6,280.9 414.0,281.4 414.2,281.8 414.4,282.1 414.7,282.5 415.1,283.0 415.4,283.4 415.8,283.8 416.1,284.1 416.4,284.5 416.8,284.8 417.1,285.1 417.5,285.4 417.9,285.7 418.2,286.1 418.6,286.4 418.9,286.8 419.2,287.3 419.6,287.8 419.8,288.1 420.0,288.4 420.2,289.1 420.3,289.9 420.2,290.6 420.0,291.2 419.8,291.6 419.6,292.0 419.2,292.5 418.9,292.9 418.6,293.3 418.2,293.6 417.9,293.8 417.5,294.1 417.0,294.4 416.5,294.8 416.1,294.9 415.8,295.1 415.1,295.4 414.7,295.6 414.1,295.8 413.6,296.0 413.1,296.1 412.6,296.3 411.9,296.5 411.6,296.6 410.9,296.8 410.4,296.9 409.8,297.0 409.1,297.1 408.4,297.2 408.1,297.2Z M405.9,296.9 405.2,296.9 404.6,296.9 403.9,296.9 403.1,296.9 402.4,296.9 401.8,296.9 401.1,296.9 400.4,296.9 399.6,296.9 398.9,296.9 398.2,296.9 397.6,296.9 396.9,296.9 396.1,296.9 395.4,296.9 394.8,296.9 394.1,296.9 393.4,296.9 392.6,296.9 391.9,296.9 391.2,296.9 390.6,296.9 389.9,296.9 389.1,296.9 388.4,296.9 387.8,296.9 387.1,296.9 386.4,296.9 385.6,296.9 384.9,296.9 384.2,296.9 383.6,296.9 382.9,296.9 382.1,296.9 381.4,296.9 380.8,296.9 380.1,296.9 379.4,296.9 378.6,296.9 377.9,296.9 377.2,296.9 376.6,296.9 375.9,296.9 375.1,296.9 374.4,296.9 373.8,296.9 373.1,296.9 372.4,296.9 371.6,296.9 370.9,296.9 370.2,296.9 369.6,296.9 368.9,296.9 368.1,296.9 367.4,296.9 366.8,296.9 366.1,296.9 365.4,296.9 364.6,296.9 363.9,296.9 363.2,296.9 362.6,296.9 361.9,296.9 361.1,296.9 360.4,296.9 359.8,296.9 359.1,296.9 358.4,296.9 357.6,296.9 356.9,296.9 356.2,296.9 355.6,296.9 354.9,296.9 354.1,296.9 353.4,296.9 352.8,296.9 352.1,296.9 351.4,296.9 350.6,296.9 349.9,296.9 349.2,296.9 348.6,296.9 347.9,296.9 347.1,296.9 346.4,296.9 346.1,296.8 345.4,296.6 345.1,296.5 344.4,296.1 344.0,295.8 343.6,295.5 343.3,295.2 343.0,294.8 342.7,294.4 342.5,294.1 342.2,293.6 342.0,293.0 341.9,292.6 341.7,291.9 341.6,291.3 341.5,290.9 341.5,290.2 341.5,289.5 341.6,288.9 341.6,288.4 341.8,287.8 342.0,287.4 342.2,286.8 342.5,286.4 342.7,286.0 343.0,285.6 343.4,285.3 343.7,284.9 344.2,284.6 344.7,284.3 345.1,284.2 345.8,283.9 346.1,283.8 346.8,283.8 347.5,283.8 348.2,283.8 348.9,283.8 349.6,283.8 350.3,283.8 351.0,283.8 351.7,283.8 352.4,283.8 353.1,283.8 353.8,283.8 354.5,283.8 355.2,283.8 355.9,283.8 356.6,283.8 357.3,283.8 358.0,283.8 358.7,283.8 359.4,283.8 360.1,283.8 360.8,283.8 361.5,283.8 362.2,283.8 362.9,283.8 363.6,283.8 364.3,283.8 365.0,283.8 365.7,283.8 366.4,283.8 367.1,283.8 367.8,283.8 368.5,283.7 369.2,283.7 369.9,283.7 370.6,283.7 371.3,283.7 372.0,283.7 372.7,283.7 373.4,283.7 374.1,283.7 374.8,283.7 375.5,283.7 376.2,283.6 376.9,283.6 377.6,283.6 378.3,283.6 378.6,283.5 379.4,283.5 380.1,283.4 380.8,283.3 381.4,283.2 381.8,283.2 382.5,283.0 383.2,282.9 383.6,282.7 384.2,282.5 384.6,282.4 385.1,282.1 385.6,281.8 386.0,281.6 386.4,281.3 386.7,281.0 387.1,280.7 387.4,280.4 387.8,280.1 388.2,279.7 388.7,279.4 389.1,279.0 389.5,278.7 389.9,278.5 390.2,278.3 390.8,277.9 391.2,277.7 391.6,277.6 392.3,277.2 392.6,277.1 393.2,276.9 393.7,276.7 394.2,276.6 394.8,276.4 395.4,276.2 395.8,276.1 396.5,276.0 397.2,275.9 397.6,275.8 398.2,275.7 398.9,275.7 399.6,275.6 400.4,275.6 401.1,275.6 401.8,275.6 402.4,275.7 403.1,275.7 403.8,275.9 404.2,275.9 404.9,276.1 405.2,276.2 405.9,276.4 406.3,276.6 407.0,276.9 407.4,277.0 407.8,277.2 408.4,277.6 408.8,277.8 409.1,278.1 409.4,278.3 409.8,278.6 410.2,279.0 410.6,279.4 410.9,279.7 411.2,280.1 411.6,280.5 411.9,280.9 412.2,281.4 412.5,281.8 412.8,282.1 413.0,282.5 413.3,282.9 413.6,283.2 414.0,283.6 414.4,283.9 414.8,284.2 415.2,284.6 415.6,284.9 416.0,285.3 416.4,285.6 416.8,286.0 417.1,286.3 417.5,286.6 417.9,287.0 418.2,287.4 418.4,287.8 418.6,288.1 418.9,288.7 419.0,289.1 419.1,289.9 419.0,290.6 418.9,291.0 418.7,291.6 418.4,291.9 418.2,292.3 417.9,292.7 417.5,293.0 417.1,293.4 416.7,293.7 416.2,294.1 415.8,294.3 415.4,294.5 414.9,294.8 414.4,295.0 414.0,295.2 413.3,295.4 412.9,295.6 412.2,295.8 411.9,295.9 411.2,296.1 410.9,296.2 410.1,296.3 409.4,296.5 409.1,296.5 408.4,296.6 407.7,296.7 407.0,296.8 406.3,296.8 405.9,296.9Z M407.4,296.2 406.6,296.2 405.9,296.3 405.2,296.3 404.6,296.4 403.9,296.4 403.1,296.4 402.4,296.4 401.8,296.4 401.1,296.4 400.4,296.4 399.6,296.4 398.9,296.4 398.2,296.4 397.6,296.4 396.9,296.4 396.1,296.4 395.4,296.4 394.8,296.4 394.1,296.4 393.4,296.4 392.6,296.4 391.9,296.4 391.2,296.4 390.6,296.4 389.9,296.4 389.1,296.4 388.4,296.4 387.8,296.4 387.1,296.4 386.4,296.4 385.6,296.4 384.9,296.4 384.2,296.4 383.6,296.4 382.9,296.4 382.1,296.4 381.4,296.4 380.8,296.4 380.1,296.4 379.4,296.4 378.6,296.4 377.9,296.4 377.2,296.4 376.6,296.4 375.9,296.4 375.1,296.4 374.4,296.4 373.8,296.4 373.1,296.4 372.4,296.4 371.6,296.4 370.9,296.4 370.2,296.4 369.6,296.4 368.9,296.4 368.1,296.4 367.4,296.4 366.8,296.4 366.1,296.4 365.4,296.4 364.6,296.4 363.9,296.4 363.2,296.4 362.6,296.4 361.9,296.4 361.1,296.4 360.4,296.4 359.8,296.4 359.1,296.4 358.4,296.4 357.6,296.4 356.9,296.4 356.2,296.4 355.6,296.4 354.9,296.4 354.1,296.4 353.4,296.4 352.8,296.4 352.1,296.4 351.4,296.4 350.6,296.4 349.9,296.4 349.2,296.4 348.6,296.4 347.9,296.4 347.1,296.4 346.4,296.3 345.8,296.2 345.4,296.0 344.9,295.8 344.4,295.4 344.0,295.1 343.6,294.8 343.3,294.4 343.1,294.1 342.9,293.7 342.6,293.2 342.4,292.6 342.2,292.3 342.1,291.6 342.0,290.9 341.9,290.2 341.9,289.5 342.0,288.8 342.2,288.1 342.3,287.8 342.6,287.1 342.8,286.7 343.1,286.4 343.4,286.0 343.7,285.6 344.1,285.3 344.6,284.9 345.1,284.7 345.4,284.6 346.1,284.4 346.8,284.3 347.5,284.3 348.2,284.3 348.9,284.3 349.6,284.3 350.3,284.3 351.0,284.3 351.7,284.3 352.4,284.3 353.1,284.3 353.8,284.3 354.5,284.3 355.2,284.3 355.9,284.3 356.6,284.3 357.3,284.3 358.0,284.3 358.7,284.3 359.4,284.3 360.1,284.3 360.8,284.3 361.5,284.3 362.2,284.3 362.9,284.3 363.6,284.3 364.3,284.3 365.0,284.3 365.7,284.3 366.4,284.3 367.1,284.3 367.8,284.3 368.5,284.3 369.2,284.3 369.9,284.3 370.6,284.3 371.3,284.3 372.0,284.3 372.7,284.3 373.1,284.2 373.8,284.2 374.4,284.2 375.1,284.2 375.9,284.2 376.6,284.2 377.2,284.2 377.9,284.1 378.6,284.1 379.4,284.1 380.1,284.0 380.8,284.0 381.4,283.9 381.8,283.9 382.5,283.8 383.2,283.7 383.9,283.6 384.2,283.5 384.9,283.3 385.4,283.2 386.0,283.0 386.5,282.9 387.1,282.6 387.4,282.4 387.9,282.1 388.4,281.8 388.8,281.5 389.1,281.3 389.5,281.0 389.9,280.7 390.3,280.4 390.8,280.1 391.2,279.7 391.6,279.5 391.9,279.3 392.5,279.0 393.0,278.7 393.4,278.6 394.0,278.3 394.4,278.2 395.0,277.9 395.4,277.8 396.1,277.6 396.5,277.6 397.2,277.4 397.9,277.3 398.2,277.2 398.9,277.2 399.6,277.1 400.4,277.1 401.1,277.1 401.8,277.1 402.4,277.1 403.1,277.2 403.5,277.3 404.2,277.5 404.7,277.6 405.2,277.8 405.6,277.9 406.3,278.2 406.6,278.4 407.1,278.6 407.6,279.0 408.1,279.3 408.4,279.6 408.8,279.9 409.1,280.2 409.4,280.5 409.8,280.9 410.1,281.3 410.5,281.7 410.8,282.1 411.2,282.5 411.5,282.9 411.8,283.2 412.2,283.6 412.6,283.9 412.9,284.1 413.3,284.4 413.6,284.7 414.0,284.9 414.5,285.3 415.0,285.6 415.4,286.0 415.8,286.3 416.1,286.6 416.4,287.0 416.8,287.3 417.1,287.8 417.4,288.1 417.6,288.4 417.8,289.1 417.9,289.5 417.9,290.2 417.8,290.6 417.6,291.2 417.4,291.6 417.1,292.0 416.8,292.4 416.4,292.7 416.1,293.1 415.7,293.4 415.2,293.7 414.7,294.0 414.4,294.2 414.0,294.4 413.3,294.7 412.9,294.8 412.2,295.1 411.9,295.2 411.2,295.4 410.9,295.5 410.1,295.7 409.7,295.8 409.1,295.9 408.4,296.0 407.7,296.1 407.4,296.2Z M407.7,295.5 407.0,295.6 406.3,295.6 405.6,295.7 404.9,295.7 404.2,295.7 403.5,295.7 402.8,295.7 402.1,295.7 401.4,295.7 400.7,295.7 400.0,295.7 399.3,295.7 398.6,295.7 397.9,295.7 397.2,295.7 396.5,295.7 395.8,295.7 395.1,295.7 394.4,295.7 393.7,295.7 393.0,295.7 392.3,295.7 391.6,295.7 390.9,295.7 390.2,295.7 389.5,295.7 388.8,295.7 388.1,295.7 387.4,295.7 386.7,295.7 386.0,295.7 385.3,295.7 384.6,295.7 383.9,295.7 383.2,295.7 382.5,295.7 381.8,295.7 381.1,295.7 380.4,295.7 379.7,295.7 379.0,295.7 378.3,295.7 377.6,295.7 376.9,295.7 376.2,295.7 375.5,295.7 374.8,295.7 374.1,295.7 373.4,295.7 372.7,295.7 372.0,295.7 371.3,295.7 370.6,295.7 369.9,295.7 369.2,295.7 368.5,295.7 367.8,295.7 367.1,295.7 366.4,295.7 365.7,295.7 365.0,295.7 364.3,295.7 363.6,295.7 362.9,295.7 362.2,295.7 361.5,295.7 360.8,295.7 360.1,295.7 359.4,295.7 358.7,295.7 358.0,295.7 357.3,295.7 356.6,295.7 355.9,295.7 355.2,295.7 354.5,295.7 353.8,295.7 353.1,295.7 352.4,295.7 351.7,295.7 351.0,295.7 350.3,295.7 349.6,295.7 348.9,295.7 348.2,295.7 347.5,295.7 346.8,295.7 346.1,295.6 345.6,295.4 345.1,295.2 344.7,295.0 344.4,294.7 344.0,294.3 343.6,293.9 343.3,293.4 343.1,293.0 342.9,292.6 342.7,291.9 342.6,291.6 342.5,290.9 342.4,290.2 342.4,289.5 342.5,288.8 342.6,288.4 342.9,287.8 343.0,287.4 343.3,287.0 343.6,286.5 344.0,286.1 344.4,285.8 344.7,285.5 345.1,285.3 345.8,285.0 346.1,284.9 346.8,284.8 347.5,284.8 348.2,284.8 348.9,284.8 349.6,284.8 350.3,284.8 351.0,284.8 351.7,284.8 352.4,284.8 353.1,284.8 353.8,284.8 354.5,284.8 355.2,284.8 355.9,284.8 356.6,284.8 357.3,284.8 358.0,284.8 358.7,284.8 359.4,284.8 360.1,284.8 360.8,284.8 361.5,284.8 362.2,284.8 362.9,284.8 363.6,284.8 364.3,284.8 365.0,284.8 365.7,284.8 366.4,284.8 367.1,284.8 367.8,284.8 368.5,284.8 369.2,284.8 369.9,284.8 370.6,284.8 371.3,284.8 372.0,284.8 372.7,284.8 373.4,284.8 374.1,284.8 374.8,284.8 375.5,284.8 376.2,284.8 376.9,284.8 377.6,284.7 378.3,284.7 379.0,284.7 379.7,284.7 380.4,284.6 381.1,284.6 381.4,284.6 382.1,284.5 382.9,284.5 383.6,284.4 384.2,284.3 384.7,284.2 385.3,284.2 386.0,284.0 386.7,283.9 387.1,283.8 387.8,283.6 388.1,283.5 388.8,283.3 389.1,283.2 389.9,282.9 390.2,282.7 390.7,282.5 391.2,282.2 391.6,282.0 391.9,281.7 392.4,281.4 393.0,281.1 393.4,280.9 393.7,280.7 394.2,280.4 394.8,280.2 395.1,280.0 395.8,279.7 396.1,279.6 396.9,279.4 397.2,279.3 397.9,279.2 398.6,279.0 398.9,279.0 399.6,278.9 400.4,278.9 401.1,278.9 401.8,278.9 402.4,279.0 402.8,279.0 403.5,279.2 404.1,279.4 404.6,279.5 405.0,279.7 405.6,280.0 405.9,280.2 406.3,280.4 406.8,280.8 407.2,281.1 407.6,281.4 408.0,281.8 408.4,282.1 408.8,282.4 409.1,282.7 409.4,283.0 409.8,283.3 410.1,283.6 410.6,283.9 411.1,284.2 411.6,284.5 411.9,284.7 412.2,285.0 412.8,285.3 413.3,285.6 413.6,285.9 414.0,286.2 414.4,286.4 414.7,286.7 415.1,287.1 415.4,287.4 415.8,287.8 416.1,288.3 416.4,288.8 416.5,289.1 416.6,289.9 416.5,290.6 416.4,290.9 416.1,291.4 415.8,291.9 415.4,292.3 415.1,292.6 414.7,292.9 414.4,293.2 414.0,293.4 413.5,293.7 412.9,294.0 412.6,294.1 412.0,294.4 411.6,294.6 411.0,294.8 410.5,294.9 409.8,295.1 409.4,295.2 408.8,295.3 408.1,295.4 407.7,295.5Z M407.4,294.8 406.6,294.9 405.9,295.0 405.2,295.0 404.6,295.0 403.9,295.0 403.1,295.0 402.4,295.0 401.8,295.0 401.1,295.0 400.4,295.0 399.6,295.0 398.9,295.0 398.2,295.0 397.6,295.0 396.9,295.0 396.1,295.0 395.4,295.0 394.8,295.0 394.1,295.0 393.4,295.0 392.6,295.0 391.9,295.0 391.2,295.0 390.6,295.0 389.9,295.0 389.1,295.0 388.4,295.0 387.8,295.0 387.1,295.0 386.4,295.0 385.6,295.0 384.9,295.0 384.2,295.0 383.6,295.0 382.9,295.0 382.1,295.0 381.4,295.0 380.8,295.0 380.1,295.0 379.4,295.0 378.6,295.0 377.9,295.0 377.2,295.0 376.6,295.0 375.9,295.0 375.1,295.0 374.4,295.0 373.8,295.0 373.1,295.0 372.4,295.0 371.6,295.0 370.9,295.0 370.2,295.0 369.6,295.0 368.9,295.0 368.1,295.0 367.4,295.0 366.8,295.0 366.1,295.0 365.4,295.0 364.6,295.0 363.9,295.0 363.2,295.0 362.6,295.0 361.9,295.0 361.1,295.0 360.4,295.0 359.8,295.0 359.1,295.0 358.4,295.0 357.6,295.0 356.9,295.0 356.2,295.0 355.6,295.0 354.9,295.0 354.1,295.0 353.4,295.0 352.8,295.0 352.1,295.0 351.4,295.0 350.6,295.0 349.9,295.0 349.2,295.0 348.6,295.0 347.9,295.0 347.1,295.0 346.4,295.0 345.8,294.8 345.4,294.6 345.0,294.4 344.6,294.1 344.3,293.7 344.0,293.4 343.6,292.8 343.4,292.3 343.3,291.9 343.1,291.2 343.0,290.6 343.0,289.9 343.0,289.1 343.2,288.4 343.3,288.1 343.6,287.5 343.9,287.1 344.2,286.7 344.6,286.4 345.1,286.0 345.4,285.8 345.9,285.6 346.4,285.5 347.1,285.5 347.9,285.5 348.6,285.5 349.2,285.5 349.9,285.5 350.6,285.5 351.4,285.5 352.1,285.5 352.8,285.5 353.4,285.5 354.1,285.5 354.9,285.5 355.6,285.5 356.2,285.5 356.9,285.5 357.6,285.5 358.4,285.5 359.1,285.5 359.8,285.5 360.4,285.5 361.1,285.5 361.9,285.5 362.6,285.5 363.2,285.5 363.9,285.5 364.6,285.5 365.4,285.5 366.1,285.5 366.8,285.5 367.4,285.5 368.1,285.5 368.9,285.5 369.6,285.5 370.2,285.5 370.9,285.5 371.6,285.5 372.4,285.5 373.1,285.5 373.8,285.4 374.4,285.4 375.1,285.4 375.9,285.4 376.6,285.4 377.2,285.4 377.9,285.4 378.6,285.4 379.4,285.4 380.1,285.3 380.8,285.3 381.1,285.3 381.8,285.3 382.5,285.2 383.2,285.2 383.9,285.1 384.6,285.1 385.3,285.0 385.7,284.9 386.4,284.9 387.1,284.8 387.8,284.7 388.3,284.6 388.8,284.5 389.5,284.4 390.0,284.2 390.6,284.1 391.2,283.9 391.6,283.9 392.3,283.6 392.6,283.5 393.4,283.3 393.7,283.2 394.4,282.9 394.8,282.8 395.4,282.5 395.8,282.4 396.4,282.1 396.9,282.0 397.5,281.8 397.9,281.7 398.6,281.5 399.2,281.4 399.6,281.4 400.4,281.3 401.1,281.3 401.8,281.3 402.4,281.4 402.8,281.5 403.5,281.7 403.9,281.9 404.6,282.1 404.9,282.3 405.3,282.5 405.9,282.9 406.3,283.0 406.6,283.2 407.3,283.6 407.7,283.8 408.1,284.0 408.6,284.2 409.1,284.5 409.4,284.7 410.0,284.9 410.5,285.2 410.9,285.4 411.3,285.6 411.9,286.0 412.2,286.2 412.6,286.5 412.9,286.7 413.4,287.1 413.8,287.4 414.1,287.8 414.4,288.1 414.7,288.6 415.0,289.1 415.1,289.6 415.1,290.0 415.0,290.6 414.7,291.1 414.4,291.6 414.1,291.9 413.7,292.3 413.3,292.6 412.9,292.9 412.6,293.1 412.2,293.4 411.6,293.6 411.2,293.8 410.5,294.0 410.1,294.2 409.4,294.4 409.1,294.5 408.4,294.6 407.7,294.7 407.4,294.8Z M406.3,294.1 405.6,294.2 404.9,294.2 404.2,294.2 403.5,294.2 402.8,294.2 402.1,294.2 401.4,294.2 400.7,294.2 400.0,294.2 399.3,294.2 398.6,294.2 397.9,294.2 397.2,294.2 396.5,294.2 395.8,294.2 395.1,294.2 394.4,294.2 393.7,294.2 393.0,294.2 392.3,294.2 391.6,294.2 390.9,294.2 390.2,294.2 389.5,294.2 388.8,294.2 388.1,294.2 387.4,294.2 386.7,294.2 386.0,294.2 385.3,294.2 384.6,294.2 383.9,294.2 383.2,294.2 382.5,294.2 381.8,294.2 381.1,294.2 380.4,294.2 379.7,294.2 379.0,294.2 378.3,294.2 377.6,294.2 376.9,294.2 376.2,294.2 375.5,294.2 374.8,294.2 374.1,294.2 373.4,294.2 372.7,294.2 372.0,294.2 371.3,294.2 370.6,294.2 369.9,294.2 369.2,294.2 368.5,294.2 367.8,294.2 367.1,294.2 366.4,294.2 365.7,294.2 365.0,294.2 364.3,294.2 363.6,294.2 362.9,294.2 362.2,294.2 361.5,294.2 360.8,294.2 360.1,294.2 359.4,294.2 358.7,294.2 358.0,294.2 357.3,294.2 356.6,294.2 355.9,294.2 355.2,294.2 354.5,294.2 353.8,294.2 353.1,294.2 352.4,294.2 351.7,294.2 351.0,294.2 350.3,294.2 349.6,294.2 348.9,294.2 348.2,294.2 347.5,294.2 346.8,294.2 346.1,294.1 345.8,293.9 345.4,293.7 345.0,293.4 344.6,293.0 344.4,292.6 344.0,291.9 343.9,291.6 343.7,290.9 343.6,290.4 343.6,289.9 343.7,289.5 343.8,288.8 344.0,288.3 344.3,287.8 344.5,287.4 344.9,287.1 345.3,286.7 345.8,286.5 346.1,286.3 346.8,286.2 347.5,286.2 348.2,286.2 348.9,286.2 349.6,286.2 350.3,286.2 351.0,286.2 351.7,286.2 352.4,286.2 353.1,286.2 353.8,286.2 354.5,286.2 355.2,286.2 355.9,286.2 356.6,286.2 357.3,286.2 358.0,286.2 358.7,286.2 359.4,286.2 360.1,286.2 360.8,286.2 361.5,286.2 362.2,286.2 362.9,286.2 363.6,286.2 364.3,286.2 365.0,286.2 365.7,286.2 366.4,286.2 367.1,286.2 367.8,286.2 368.5,286.2 369.2,286.2 369.9,286.2 370.6,286.2 371.3,286.2 372.0,286.2 372.7,286.2 373.4,286.2 374.1,286.2 374.8,286.2 375.5,286.2 376.2,286.2 376.9,286.2 377.6,286.2 378.3,286.1 379.0,286.1 379.7,286.1 380.4,286.1 381.1,286.1 381.8,286.1 382.5,286.0 383.1,286.0 383.6,286.0 384.2,285.9 384.9,285.9 385.6,285.8 386.4,285.8 387.1,285.7 387.8,285.7 388.1,285.6 388.8,285.5 389.5,285.4 390.2,285.4 390.6,285.3 391.2,285.2 391.9,285.1 392.6,285.0 393.0,284.9 393.7,284.8 394.4,284.7 394.9,284.6 395.4,284.5 396.1,284.4 396.9,284.3 397.2,284.2 397.9,284.1 398.6,284.0 399.3,284.0 400.0,283.9 400.7,283.9 401.4,283.9 402.1,284.0 402.8,284.0 403.5,284.1 404.1,284.2 404.6,284.3 405.2,284.5 405.6,284.6 406.3,284.8 406.7,284.9 407.4,285.1 407.8,285.3 408.4,285.5 408.8,285.7 409.4,286.0 409.8,286.2 410.1,286.4 410.8,286.7 411.2,287.0 411.6,287.2 411.9,287.5 412.2,287.8 412.6,288.1 412.9,288.6 413.2,289.1 413.3,289.5 413.3,290.2 413.2,290.6 412.9,291.1 412.6,291.5 412.2,291.9 411.9,292.2 411.6,292.4 411.2,292.6 410.5,293.0 410.1,293.1 409.6,293.4 409.1,293.5 408.4,293.7 408.1,293.8 407.4,293.9 406.6,294.0 406.3,294.1Z M406.3,293.0 405.6,293.1 404.9,293.2 404.2,293.2 403.5,293.2 402.8,293.2 402.1,293.2 401.4,293.2 400.7,293.2 400.0,293.2 399.3,293.2 398.6,293.2 397.9,293.2 397.2,293.2 396.5,293.2 395.8,293.2 395.1,293.2 394.4,293.2 393.7,293.2 393.0,293.2 392.3,293.2 391.6,293.2 390.9,293.2 390.2,293.2 389.5,293.2 388.8,293.2 388.1,293.2 387.4,293.2 386.7,293.2 386.0,293.2 385.3,293.2 384.6,293.2 383.9,293.2 383.2,293.2 382.5,293.2 381.8,293.2 381.1,293.2 380.4,293.2 379.7,293.2 379.0,293.2 378.3,293.2 377.6,293.2 376.9,293.2 376.2,293.2 375.5,293.2 374.8,293.2 374.1,293.2 373.4,293.2 372.7,293.2 372.0,293.2 371.3,293.2 370.6,293.2 369.9,293.2 369.2,293.2 368.5,293.2 367.8,293.2 367.1,293.2 366.4,293.2 365.7,293.2 365.0,293.2 364.3,293.2 363.6,293.2 362.9,293.2 362.2,293.2 361.5,293.2 360.8,293.2 360.1,293.2 359.4,293.2 358.7,293.2 358.0,293.2 357.3,293.2 356.6,293.2 355.9,293.2 355.2,293.2 354.5,293.2 353.8,293.2 353.1,293.2 352.4,293.2 351.7,293.2 351.0,293.2 350.3,293.2 349.6,293.2 348.9,293.2 348.2,293.2 347.5,293.2 346.8,293.2 346.1,293.0 345.8,292.8 345.4,292.5 345.1,292.1 344.8,291.6 344.7,291.2 344.5,290.6 344.5,289.9 344.6,289.1 344.7,288.8 345.1,288.1 345.4,287.8 345.8,287.5 346.1,287.3 346.8,287.1 347.5,287.1 348.2,287.1 348.9,287.1 349.6,287.1 350.3,287.1 351.0,287.1 351.7,287.1 352.4,287.1 353.1,287.1 353.8,287.1 354.5,287.1 355.2,287.1 355.9,287.1 356.6,287.1 357.3,287.1 358.0,287.1 358.7,287.1 359.4,287.1 360.1,287.1 360.8,287.1 361.5,287.1 362.2,287.1 362.9,287.1 363.6,287.1 364.3,287.1 365.0,287.1 365.7,287.1 366.4,287.1 367.1,287.1 367.8,287.1 368.5,287.1 369.2,287.1 369.9,287.1 370.6,287.1 371.3,287.1 372.0,287.1 372.7,287.1 373.4,287.1 374.1,287.1 374.8,287.1 375.5,287.1 376.2,287.1 376.9,287.1 377.6,287.1 378.3,287.1 379.0,287.1 379.7,287.1 380.4,287.1 380.8,287.0 381.4,287.0 382.1,287.0 382.9,287.0 383.6,287.0 384.2,286.9 384.9,286.9 385.6,286.9 386.4,286.8 387.1,286.8 387.8,286.7 388.3,286.7 388.8,286.7 389.5,286.6 390.2,286.5 390.9,286.5 391.6,286.4 392.1,286.4 392.6,286.3 393.4,286.2 394.1,286.1 394.8,286.1 395.4,286.0 395.8,286.0 396.5,285.9 397.2,285.8 397.9,285.8 398.6,285.7 399.3,285.7 400.0,285.7 400.7,285.7 401.4,285.7 402.1,285.7 402.8,285.7 403.5,285.8 404.2,285.9 404.9,286.0 405.2,286.0 405.9,286.2 406.6,286.4 407.0,286.5 407.6,286.7 408.1,286.9 408.5,287.1 409.1,287.4 409.4,287.6 409.8,287.8 410.2,288.1 410.6,288.4 410.9,288.8 411.2,289.5 411.2,289.9 411.2,290.2 410.9,290.8 410.5,291.2 410.1,291.6 409.8,291.8 409.4,292.0 408.9,292.3 408.4,292.5 408.0,292.6 407.4,292.8 406.6,293.0 406.3,293.0Z M405.2,291.7 404.6,291.7 403.9,291.8 403.1,291.8 402.4,291.8 401.8,291.8 401.1,291.8 400.4,291.8 399.6,291.8 398.9,291.8 398.2,291.8 397.6,291.8 396.9,291.7 396.1,291.7 395.4,291.7 394.8,291.7 394.1,291.7 393.4,291.7 392.6,291.7 391.9,291.7 391.2,291.7 390.6,291.7 389.9,291.7 389.1,291.7 388.4,291.7 387.8,291.7 387.1,291.7 386.4,291.7 385.6,291.7 384.9,291.7 384.2,291.6 383.6,291.6 382.9,291.6 382.1,291.6 381.4,291.6 380.8,291.6 380.1,291.6 379.4,291.6 378.6,291.6 377.9,291.6 377.2,291.6 376.6,291.6 375.9,291.6 375.1,291.6 374.4,291.6 373.8,291.6 373.1,291.6 372.4,291.6 371.6,291.6 370.9,291.6 370.2,291.6 369.6,291.6 368.9,291.6 368.1,291.6 367.4,291.6 366.8,291.6 366.1,291.6 365.4,291.6 364.6,291.6 363.9,291.6 363.2,291.6 362.6,291.6 361.9,291.6 361.1,291.6 360.4,291.6 359.8,291.6 359.1,291.6 358.4,291.6 357.6,291.6 356.9,291.6 356.2,291.6 355.6,291.6 354.9,291.6 354.1,291.6 353.4,291.6 352.8,291.6 352.1,291.6 351.4,291.6 350.6,291.6 349.9,291.6 349.2,291.6 348.6,291.6 347.9,291.6 347.1,291.6 346.8,291.6 346.2,291.2 345.9,290.9 345.8,290.4 345.7,289.9 345.8,289.5 346.1,289.0 346.4,288.7 347.1,288.5 347.9,288.5 348.6,288.5 349.2,288.5 349.9,288.5 350.6,288.5 351.4,288.5 352.1,288.5 352.8,288.5 353.4,288.5 354.1,288.5 354.9,288.5 355.6,288.5 356.2,288.5 356.9,288.5 357.6,288.5 358.4,288.5 359.1,288.5 359.8,288.5 360.4,288.5 361.1,288.5 361.9,288.5 362.6,288.5 363.2,288.5 363.9,288.5 364.6,288.5 365.4,288.5 366.1,288.5 366.8,288.5 367.4,288.5 368.1,288.5 368.9,288.5 369.6,288.5 370.2,288.5 370.9,288.5 371.6,288.5 372.4,288.5 373.1,288.5 373.8,288.5 374.4,288.5 375.1,288.5 375.9,288.5 376.6,288.5 377.2,288.5 377.9,288.5 378.6,288.5 379.4,288.5 380.1,288.5 380.8,288.5 381.4,288.5 381.9,288.4 382.5,288.4 383.2,288.4 383.9,288.4 384.6,288.4 385.3,288.4 386.0,288.3 386.7,288.3 387.4,288.3 388.1,288.2 388.8,288.2 389.5,288.1 390.0,288.1 390.6,288.1 391.2,288.0 391.9,288.0 392.6,287.9 393.4,287.9 394.1,287.8 394.8,287.8 395.1,287.7 395.8,287.7 396.5,287.7 397.2,287.6 397.9,287.6 398.6,287.6 399.3,287.5 400.0,287.5 400.7,287.5 401.4,287.5 402.1,287.5 402.8,287.5 403.5,287.6 404.2,287.6 404.9,287.7 405.2,287.8 405.9,288.0 406.3,288.1 407.0,288.4 407.4,288.6 407.7,288.9 408.1,289.4 408.1,289.9 408.0,290.2 407.7,290.6 407.4,290.9 406.7,291.2 406.3,291.4 405.6,291.6 405.2,291.7Z" fill="none" stroke="#1a1a1a" stroke-width="0.55" stroke-linejoin="round"/>
<path d="M409.5,260.6 408.8,260.7 408.1,260.8 407.4,260.8 406.7,260.8 406.0,260.7 405.3,260.6 404.9,260.5 404.2,260.3 403.9,260.1 403.2,259.8 402.9,259.6 402.5,259.4 402.0,259.1 401.4,258.8 401.1,258.5 400.8,258.2 400.4,257.9 400.1,257.6 399.7,257.3 399.4,257.0 399.0,256.6 398.6,256.2 398.3,255.8 397.9,255.3 397.6,254.9 397.4,254.6 397.1,254.2 396.9,253.8 396.6,253.3 396.2,252.8 396.1,252.4 395.9,252.1 395.5,251.4 395.3,251.1 395.1,250.6 394.9,250.0 394.8,249.7 394.5,248.9 394.4,248.6 394.1,247.9 394.0,247.6 393.8,246.8 393.8,246.5 393.6,245.8 393.5,245.1 393.4,244.4 393.4,244.1 393.4,243.3 393.4,242.7 393.4,242.2 393.4,241.6 393.5,240.9 393.7,240.2 393.8,239.8 393.9,239.2 394.1,238.6 394.3,238.1 394.4,237.7 394.8,237.1 394.9,236.7 395.1,236.3 395.5,235.8 395.8,235.3 396.1,234.9 396.4,234.6 396.7,234.2 397.0,233.9 397.4,233.6 397.8,233.2 398.3,232.8 398.6,232.6 399.0,232.4 399.4,232.2 400.1,231.8 400.4,231.7 401.1,231.4 401.4,231.3 402.1,231.2 402.5,231.1 403.2,231.0 403.9,230.9 404.6,230.9 405.3,231.0 406.0,231.1 406.4,231.2 407.1,231.3 407.5,231.4 408.1,231.7 408.4,231.8 409.1,232.1 409.5,232.3 409.9,232.5 410.4,232.8 410.9,233.2 411.2,233.5 411.6,233.8 411.9,234.1 412.3,234.4 412.6,234.8 413.0,235.1 413.4,235.6 413.7,236.0 414.0,236.3 414.2,236.7 414.4,237.1 414.8,237.6 415.0,238.1 415.2,238.4 415.4,239.1 415.6,239.5 415.8,240.0 416.0,240.6 416.1,241.1 416.3,241.6 416.4,242.3 416.5,242.7 416.6,243.3 416.7,244.1 416.8,244.8 416.9,245.1 416.9,245.8 417.0,246.5 417.0,247.2 417.0,247.9 416.9,248.6 416.9,249.3 416.9,249.7 416.8,250.3 416.7,251.1 416.5,251.8 416.4,252.1 416.3,252.8 416.1,253.2 415.9,253.8 415.8,254.2 415.5,254.9 415.3,255.2 415.1,255.7 414.8,256.3 414.5,256.6 414.3,257.0 414.1,257.4 413.7,257.8 413.4,258.2 413.0,258.5 412.6,258.8 412.3,259.1 411.9,259.4 411.3,259.8 410.9,260.0 410.6,260.2 409.9,260.5 409.5,260.6Z M407.8,258.1 407.1,258.1 406.4,258.1 406.0,258.0 405.3,257.9 404.6,257.7 404.2,257.6 403.7,257.4 403.2,257.1 402.9,256.9 402.4,256.6 401.9,256.3 401.5,255.9 401.1,255.6 400.8,255.3 400.4,255.0 400.1,254.6 399.7,254.3 399.4,253.8 399.1,253.5 398.8,253.2 398.6,252.8 398.3,252.4 397.9,251.9 397.7,251.4 397.5,251.1 397.2,250.6 397.0,250.0 396.8,249.7 396.6,249.1 396.4,248.6 396.2,248.2 396.0,247.6 395.9,247.1 395.7,246.5 395.5,245.8 395.4,245.4 395.3,244.8 395.3,244.1 395.2,243.3 395.3,242.7 395.3,241.9 395.4,241.2 395.5,240.8 395.6,240.2 395.9,239.5 396.0,239.2 396.2,238.6 396.5,238.1 396.6,237.8 396.9,237.3 397.2,236.8 397.6,236.3 397.9,236.0 398.2,235.7 398.6,235.3 399.0,234.9 399.4,234.7 399.7,234.4 400.1,234.2 400.7,233.9 401.1,233.7 401.5,233.6 402.1,233.3 402.8,233.2 403.2,233.1 403.9,233.1 404.6,233.1 405.3,233.1 405.9,233.2 406.4,233.3 407.1,233.5 407.4,233.6 408.1,233.9 408.4,234.0 408.8,234.2 409.4,234.6 409.9,234.9 410.2,235.1 410.6,235.4 410.9,235.7 411.2,236.1 411.6,236.5 411.9,236.9 412.3,237.3 412.6,237.8 412.8,238.1 413.1,238.4 413.4,239.0 413.6,239.5 413.8,239.8 414.0,240.6 414.2,240.9 414.4,241.6 414.4,241.9 414.6,242.7 414.7,243.3 414.8,243.7 414.9,244.4 415.0,245.1 415.0,245.8 415.0,246.5 415.0,247.2 415.0,247.9 415.0,248.6 414.9,249.3 414.8,250.0 414.7,250.3 414.5,251.1 414.4,251.5 414.2,252.1 414.1,252.5 413.8,253.2 413.6,253.5 413.4,254.0 413.0,254.6 412.8,254.9 412.5,255.2 412.3,255.6 411.9,255.9 411.6,256.3 411.2,256.6 410.7,257.0 410.2,257.3 409.9,257.5 409.3,257.7 408.8,257.9 408.1,258.0 407.8,258.1Z M407.8,255.3 407.1,255.4 406.4,255.4 405.6,255.3 405.3,255.2 404.6,255.0 404.2,254.9 403.6,254.6 403.2,254.4 402.9,254.2 402.4,253.8 402.0,253.5 401.6,253.2 401.2,252.8 400.9,252.4 400.6,252.1 400.3,251.8 400.0,251.4 399.7,250.9 399.4,250.4 399.1,250.0 398.9,249.7 398.6,249.1 398.4,248.6 398.2,248.2 398.0,247.6 397.8,247.2 397.6,246.5 397.5,246.2 397.3,245.4 397.2,244.9 397.2,244.4 397.1,243.7 397.1,243.0 397.2,242.3 397.2,241.9 397.4,241.2 397.6,240.6 397.7,240.2 397.9,239.6 398.1,239.2 398.3,238.8 398.6,238.3 399.0,237.8 399.4,237.4 399.7,237.1 400.1,236.8 400.4,236.5 400.8,236.3 401.2,236.0 401.8,235.7 402.1,235.6 402.9,235.4 403.2,235.3 403.9,235.2 404.6,235.2 405.3,235.2 405.8,235.3 406.4,235.4 407.1,235.6 407.4,235.8 407.9,236.0 408.4,236.3 408.8,236.6 409.1,236.8 409.5,237.1 409.9,237.4 410.2,237.8 410.6,238.2 410.9,238.6 411.2,239.1 411.5,239.5 411.7,239.8 411.9,240.4 412.2,240.9 412.3,241.3 412.5,241.9 412.6,242.5 412.8,243.0 412.9,243.7 413.0,244.4 413.0,244.8 413.1,245.4 413.1,246.2 413.1,246.8 413.1,247.6 413.0,248.0 412.9,248.6 412.8,249.3 412.6,249.8 412.5,250.3 412.3,250.9 412.1,251.4 411.9,251.8 411.6,252.3 411.3,252.8 411.0,253.2 410.7,253.5 410.4,253.8 410.0,254.2 409.5,254.5 409.1,254.8 408.8,254.9 408.1,255.2 407.8,255.3Z M407.4,252.5 406.7,252.6 406.0,252.7 405.3,252.6 404.9,252.4 404.2,252.2 403.9,252.0 403.4,251.8 402.9,251.4 402.5,251.1 402.1,250.7 401.8,250.4 401.5,250.0 401.2,249.7 401.0,249.3 400.7,248.9 400.4,248.4 400.2,247.9 400.0,247.6 399.7,246.8 399.6,246.5 399.4,245.8 399.2,245.4 399.1,244.8 399.0,244.1 399.0,243.3 399.1,242.7 399.2,241.9 399.4,241.4 399.5,240.9 399.7,240.5 400.1,239.9 400.3,239.5 400.6,239.2 400.9,238.8 401.3,238.4 401.8,238.1 402.1,237.9 402.5,237.7 403.2,237.5 403.6,237.4 404.2,237.3 404.9,237.3 405.6,237.4 406.0,237.5 406.7,237.7 407.1,237.9 407.5,238.1 408.0,238.4 408.4,238.8 408.8,239.1 409.1,239.5 409.5,239.8 409.7,240.2 409.9,240.6 410.2,241.1 410.4,241.6 410.6,241.9 410.8,242.7 410.9,243.2 411.0,243.7 411.1,244.4 411.2,245.1 411.2,245.8 411.1,246.5 411.1,247.2 411.0,247.9 410.9,248.2 410.7,248.9 410.5,249.3 410.2,250.0 410.0,250.3 409.8,250.7 409.5,251.1 409.1,251.5 408.8,251.8 408.3,252.1 407.8,252.4 407.4,252.5Z M407.1,249.7 406.4,249.9 405.6,249.9 404.9,249.8 404.5,249.7 403.9,249.3 403.6,249.1 403.2,248.8 402.9,248.4 402.5,248.0 402.2,247.6 402.0,247.2 401.8,246.8 401.4,246.2 401.3,245.8 401.1,245.2 401.0,244.8 400.9,244.1 400.9,243.3 401.0,242.7 401.1,242.3 401.4,241.6 401.5,241.2 401.8,240.9 402.1,240.5 402.5,240.2 403.0,239.8 403.6,239.6 403.9,239.5 404.6,239.4 405.3,239.4 405.6,239.5 406.4,239.8 406.7,239.9 407.1,240.2 407.5,240.6 407.8,240.9 408.1,241.2 408.4,241.8 408.7,242.3 408.8,242.7 409.0,243.3 409.1,244.0 409.2,244.4 409.2,245.1 409.2,245.8 409.1,246.3 409.0,246.8 408.8,247.6 408.7,247.9 408.4,248.3 408.1,248.8 407.8,249.2 407.4,249.5 407.1,249.7Z M405.6,247.2 405.2,247.2 404.6,247.0 404.2,246.8 403.9,246.5 403.6,246.0 403.2,245.5 403.0,245.1 402.9,244.5 402.8,244.1 402.8,243.3 402.9,243.0 403.2,242.4 403.6,242.0 403.9,241.8 404.2,241.6 404.9,241.5 405.5,241.6 406.0,241.8 406.4,242.1 406.7,242.5 407.0,243.0 407.1,243.3 407.2,244.1 407.3,244.8 407.2,245.4 407.1,246.0 406.8,246.5 406.4,246.8 406.0,247.1 405.6,247.2Z" fill="none" stroke="#333" stroke-width="0.6" stroke-linejoin="round"/>
<text transform="translate(-0.5,369.6) scale(1.06,1)" font-size="17.2" font-weight="bold" fill="#000" stroke="#000" style="stroke-width:0.6px">F</text>
<rect x="21.5" y="380.5" width="141.2" height="141.89999999999998" fill="none" stroke="#111" stroke-width="1.5"/>
<rect x="165.3" y="380.5" width="142.6" height="141.89999999999998" fill="none" stroke="#111" stroke-width="1.5"/>
<rect x="309.6" y="380.5" width="142.6" height="141.89999999999998" fill="none" stroke="#111" stroke-width="1.5"/>
<line x1="17.1" y1="530.3" x2="17.1" y2="384.5" stroke="#111" stroke-width="1.3" />
<path d="M17.1,378.5 L14.500000000000002,385.0 L19.700000000000003,385.0 Z" fill="#111"/>
<line x1="16.5" y1="529.7" x2="259.5" y2="529.7" stroke="#111" stroke-width="1.3" />
<path d="M265.5,529.7 L259.0,527.1 L259.0,532.3000000000001 Z" fill="#111"/>
<text transform="translate(9.3,459.5) rotate(-90)" font-size="11" text-anchor="middle" fill="#cc2c20" stroke="#cc2c20">Aspergillus Viability (dsRed)</text>
<text x="17.1" y="545.5" font-size="11" text-anchor="start" fill="#4a9be0" font-weight="normal" font-style="normal"  stroke="#4a9be0">Aspergillus Tracer (Alexa Fluor 633)</text>
<text x="97.8" y="377.2" font-size="11" text-anchor="middle" fill="#111" font-weight="normal" font-style="normal"  stroke="#111">Non-fluorescent Conidia</text>
<text x="239.8" y="376.5" font-size="11" text-anchor="middle" fill="#111" font-weight="normal" font-style="normal"  stroke="#111">CD45.1 WT</text>
<text x="353" y="375.4" font-size="11" text-anchor="start" fill="#111" font-weight="normal" font-style="normal"  stroke="#111">CD45.2 </text>
<text x="392.9" y="375.4" font-size="11" text-anchor="start" fill="#6c4fa6" font-style="italic" textLength="26.5" lengthAdjust="spacingAndGlyphs" stroke="#6c4fa6">Stat1<tspan font-size="6.1" dy="-4.2">-/-</tspan></text>
<text x="237.3" y="392.5" font-size="11" text-anchor="middle" fill="#111" font-weight="normal" font-style="normal"  stroke="#111">NØ Gate + AF293 FLARE</text>
<text x="382.8" y="392.5" font-size="11" text-anchor="middle" fill="#111" font-weight="normal" font-style="normal"  stroke="#111">NØ Gate + AF293 FLARE</text>
<ellipse cx="90.3" cy="421.4" rx="33.4" ry="24.2" fill="none" stroke="#c4281c" stroke-width="1.4"/>
<ellipse cx="104" cy="487.4" rx="29.9" ry="25.4" transform="rotate(-6 104 487.4)" fill="none" stroke="#4a9be0" stroke-width="1.4"/>
<ellipse cx="236.2" cy="421.4" rx="33.4" ry="24.2" fill="none" stroke="#c4281c" stroke-width="1.4"/>
<ellipse cx="243.7" cy="485.7" rx="29.9" ry="25.4" transform="rotate(-6 243.7 485.7)" fill="none" stroke="#4a9be0" stroke-width="1.4"/>
<ellipse cx="379.2" cy="421.4" rx="33.4" ry="24.2" fill="none" stroke="#c4281c" stroke-width="1.4"/>
<ellipse cx="389.3" cy="485.8" rx="29.9" ry="25.4" transform="rotate(-6 389.3 485.8)" fill="none" stroke="#4a9be0" stroke-width="1.4"/>
<text x="160.2" y="406" font-size="11" text-anchor="end" fill="#cc2c20" font-weight="normal" font-style="normal"  stroke="#cc2c20">R1 0.1%</text>
<text x="304.6" y="404.2" font-size="11" text-anchor="end" fill="#cc2c20" font-weight="normal" font-style="normal"  stroke="#cc2c20">R1 4.3%</text>
<text x="449.5" y="403.2" font-size="11" text-anchor="end" fill="#cc2c20" font-weight="normal" font-style="normal"  stroke="#cc2c20">R1 5.5%</text>
<text x="159" y="518.6" font-size="11" text-anchor="end" fill="#4a9be0" font-weight="normal" font-style="normal"  stroke="#4a9be0">R2 0.9%</text>
<text x="301.9" y="518.8" font-size="11" text-anchor="end" fill="#4a9be0" font-weight="normal" font-style="normal"  stroke="#4a9be0">R2 32.2%</text>
<text x="447.5" y="517.3" font-size="11" text-anchor="end" fill="#4a9be0" font-weight="normal" font-style="normal"  stroke="#4a9be0">R2 23.9%</text>
<path d="M80.7,488.6h0.01M94.0,487.2h0.01M80.0,487.9h0.01M90.9,489.6h0.01M80.7,486.1h0.01M92.2,488.7h0.01" stroke="#555" stroke-width="0.9" stroke-linecap="round"/>
<path d="M56.3,497.3 55.6,497.4 55.0,497.5 54.2,497.5 53.5,497.6 52.8,497.6 52.1,497.6 51.5,497.6 50.8,497.6 50.0,497.6 49.4,497.6 48.6,497.5 48.0,497.3 47.6,497.2 47.2,496.9 46.5,496.6 46.2,496.4 45.9,496.1 45.5,495.8 45.1,495.5 44.8,495.1 44.5,494.7 44.1,494.2 43.9,493.8 43.7,493.4 43.4,492.9 43.2,492.4 43.0,492.0 42.9,491.4 42.7,490.6 42.6,490.3 42.6,489.6 42.5,488.9 42.6,488.2 42.6,487.5 42.7,487.1 42.8,486.4 43.0,485.8 43.2,485.4 43.4,484.8 43.6,484.4 43.8,484.0 44.1,483.6 44.5,483.1 44.8,482.7 45.1,482.4 45.5,482.0 45.9,481.8 46.2,481.5 46.7,481.2 47.2,480.9 47.6,480.8 48.3,480.5 48.6,480.5 49.4,480.3 50.0,480.3 50.8,480.3 51.5,480.3 52.1,480.3 52.8,480.3 53.5,480.3 54.2,480.4 55.0,480.4 55.6,480.5 56.0,480.5 56.7,480.6 57.4,480.7 58.1,480.8 58.5,480.9 59.1,481.0 59.8,481.2 60.2,481.3 60.9,481.5 61.2,481.6 62.0,481.8 62.3,481.9 63.0,482.2 63.3,482.3 64.0,482.6 64.4,482.8 64.8,482.9 65.4,483.3 65.8,483.5 66.2,483.7 66.5,484.0 67.0,484.4 67.4,484.7 67.8,485.1 68.2,485.4 68.5,485.8 68.7,486.1 68.9,486.5 69.3,487.1 69.4,487.5 69.6,488.2 69.6,488.9 69.6,489.6 69.4,490.3 69.2,490.6 68.9,491.2 68.7,491.7 68.4,492.1 68.1,492.4 67.8,492.8 67.4,493.1 67.0,493.4 66.5,493.8 66.2,494.1 65.8,494.3 65.5,494.5 64.8,494.9 64.4,495.1 64.0,495.2 63.3,495.5 63.0,495.7 62.5,495.9 62.0,496.1 61.4,496.2 60.9,496.4 60.2,496.6 59.8,496.7 59.1,496.9 58.7,496.9 58.1,497.1 57.4,497.2 56.7,497.3 56.3,497.3Z M52.5,489.3 51.8,489.3 51.1,489.3 50.4,489.3 49.8,489.2 49.6,488.9 49.7,488.4 50.4,488.3 51.1,488.3 51.8,488.3 52.5,488.4 52.9,488.6 52.8,489.1 52.5,489.3Z" fill="#111" fill-opacity="0.65" fill-rule="evenodd"/>
<path d="M57.4,501.2 56.7,501.2 56.0,501.3 55.3,501.4 54.6,501.4 53.9,501.4 53.2,501.4 52.5,501.5 51.8,501.5 51.1,501.5 50.4,501.5 49.7,501.5 49.0,501.4 48.3,501.3 47.7,501.1 47.2,501.0 46.6,500.8 46.2,500.6 45.8,500.4 45.2,500.1 44.8,499.9 44.5,499.6 44.1,499.4 43.7,499.1 43.3,498.7 43.0,498.4 42.6,498.0 42.3,497.6 42.0,497.2 41.6,496.7 41.3,496.2 41.1,495.9 40.9,495.6 40.6,494.9 40.4,494.5 40.2,494.0 40.0,493.4 39.9,493.0 39.7,492.4 39.6,491.7 39.5,491.4 39.4,490.6 39.3,489.9 39.3,489.2 39.3,488.6 39.3,487.9 39.4,487.1 39.5,486.4 39.6,486.1 39.7,485.4 39.9,484.8 40.0,484.4 40.2,483.8 40.4,483.3 40.6,482.9 41.0,482.3 41.2,481.9 41.4,481.6 41.6,481.2 42.0,480.7 42.4,480.3 42.7,479.9 43.0,479.5 43.4,479.2 43.8,478.9 44.1,478.6 44.5,478.4 45.0,478.1 45.5,477.8 45.9,477.6 46.4,477.4 46.9,477.1 47.4,477.0 48.0,476.9 48.6,476.7 49.4,476.7 49.7,476.6 50.4,476.6 51.1,476.6 51.8,476.6 52.5,476.6 53.2,476.6 53.5,476.7 54.2,476.7 55.0,476.7 55.6,476.8 56.3,476.8 57.0,476.9 57.8,476.9 58.2,477.0 58.8,477.1 59.5,477.2 60.2,477.3 60.6,477.4 61.2,477.5 62.0,477.6 62.4,477.7 63.0,477.8 63.7,478.0 64.0,478.1 64.8,478.3 65.1,478.4 65.8,478.6 66.3,478.8 66.8,478.9 67.3,479.1 67.9,479.3 68.2,479.5 68.9,479.8 69.3,479.9 69.8,480.1 70.3,480.4 70.7,480.6 71.2,480.9 71.8,481.2 72.1,481.4 72.4,481.6 72.8,481.9 73.3,482.2 73.8,482.6 74.2,482.9 74.5,483.3 74.9,483.6 75.2,484.0 75.6,484.4 75.8,484.7 76.1,485.1 76.3,485.4 76.7,486.0 76.8,486.4 77.0,486.9 77.2,487.5 77.3,488.2 77.3,488.9 77.3,489.6 77.1,490.3 77.0,490.8 76.8,491.4 76.6,491.7 76.3,492.3 76.0,492.8 75.8,493.1 75.5,493.4 75.2,493.8 74.9,494.2 74.5,494.5 74.2,494.9 73.8,495.2 73.4,495.6 73.0,495.9 72.5,496.2 72.1,496.5 71.8,496.7 71.4,496.9 70.7,497.3 70.3,497.5 70.0,497.7 69.4,498.0 68.9,498.2 68.6,498.4 67.9,498.6 67.5,498.8 66.8,499.0 66.5,499.2 65.8,499.4 65.5,499.5 64.8,499.7 64.4,499.8 63.7,500.0 63.3,500.1 62.6,500.3 62.0,500.4 61.6,500.5 60.9,500.7 60.2,500.8 59.8,500.8 59.1,500.9 58.5,501.0 57.8,501.1 57.4,501.2Z M52.5,500.1 51.8,500.1 51.1,500.1 50.4,500.1 49.7,500.1 49.4,500.1 48.6,500.0 48.0,499.8 47.6,499.7 46.9,499.5 46.5,499.3 46.0,499.1 45.5,498.8 45.1,498.5 44.8,498.3 44.4,498.0 44.0,497.6 43.7,497.3 43.4,496.9 43.0,496.6 42.7,496.1 42.4,495.6 42.1,495.2 41.9,494.9 41.6,494.3 41.4,493.8 41.3,493.4 41.0,492.8 40.9,492.4 40.7,491.7 40.6,491.0 40.6,490.6 40.5,489.9 40.4,489.2 40.4,488.6 40.5,487.9 40.5,487.1 40.6,486.8 40.7,486.1 40.9,485.4 41.0,485.1 41.3,484.4 41.4,484.0 41.6,483.5 41.9,482.9 42.1,482.6 42.4,482.2 42.7,481.8 43.0,481.3 43.4,480.9 43.8,480.6 44.1,480.2 44.5,479.9 44.8,479.7 45.1,479.4 45.7,479.1 46.2,478.8 46.5,478.7 47.2,478.4 47.6,478.3 48.3,478.1 48.6,478.0 49.4,477.9 50.0,477.9 50.8,477.9 51.5,477.9 52.1,477.9 52.8,477.9 53.5,477.9 54.2,478.0 55.0,478.0 55.4,478.1 56.0,478.1 56.7,478.2 57.4,478.2 58.1,478.3 58.6,478.4 59.1,478.5 59.8,478.6 60.5,478.7 60.9,478.8 61.6,479.0 62.2,479.1 62.6,479.2 63.3,479.4 63.7,479.5 64.4,479.7 64.8,479.8 65.5,480.1 65.8,480.2 66.5,480.5 66.8,480.6 67.4,480.9 67.9,481.1 68.2,481.2 68.8,481.6 69.3,481.8 69.7,482.0 70.0,482.2 70.6,482.6 71.0,482.9 71.4,483.2 71.8,483.5 72.1,483.8 72.4,484.2 72.8,484.5 73.2,485.0 73.5,485.4 73.7,485.8 73.9,486.1 74.2,486.7 74.4,487.1 74.5,487.9 74.6,488.2 74.6,488.9 74.6,489.6 74.5,489.9 74.3,490.6 74.2,491.0 73.9,491.7 73.7,492.1 73.4,492.4 73.2,492.8 72.8,493.2 72.4,493.6 72.1,494.0 71.8,494.3 71.4,494.6 71.0,494.9 70.6,495.2 70.1,495.6 69.7,495.9 69.3,496.1 68.9,496.3 68.4,496.6 67.9,496.8 67.5,497.0 66.9,497.3 66.5,497.5 66.1,497.6 65.5,497.9 65.1,498.0 64.4,498.3 64.0,498.4 63.3,498.6 62.9,498.7 62.3,498.9 61.6,499.0 61.2,499.1 60.5,499.3 59.9,499.4 59.5,499.5 58.8,499.6 58.1,499.7 57.6,499.8 57.0,499.8 56.3,499.9 55.6,500.0 55.0,500.0 54.2,500.1 53.5,500.1 52.8,500.1 52.5,500.1Z M53.9,498.7 53.2,498.7 52.5,498.8 51.8,498.8 51.1,498.8 50.4,498.8 49.7,498.8 49.1,498.7 48.6,498.6 48.0,498.5 47.6,498.3 46.9,498.1 46.5,497.9 46.1,497.6 45.6,497.3 45.2,496.9 44.8,496.6 44.5,496.3 44.1,495.9 43.8,495.6 43.5,495.2 43.3,494.9 43.0,494.4 42.7,493.8 42.5,493.4 42.4,493.0 42.1,492.4 42.0,491.9 41.8,491.4 41.7,490.6 41.6,490.1 41.6,489.6 41.6,488.9 41.6,488.2 41.6,487.5 41.7,487.1 41.8,486.4 42.0,485.8 42.1,485.4 42.4,484.8 42.5,484.4 42.7,484.0 43.0,483.4 43.3,482.9 43.6,482.6 43.9,482.2 44.2,481.9 44.5,481.6 44.9,481.2 45.3,480.9 45.8,480.5 46.2,480.2 46.5,480.1 47.1,479.8 47.6,479.6 48.2,479.4 48.6,479.3 49.4,479.2 50.0,479.2 50.8,479.2 51.5,479.2 52.1,479.2 52.8,479.2 53.5,479.2 54.2,479.3 55.0,479.3 55.6,479.4 56.3,479.4 56.7,479.5 57.4,479.6 58.1,479.7 58.8,479.8 59.1,479.9 59.8,480.0 60.5,480.1 60.9,480.2 61.6,480.4 62.0,480.5 62.6,480.7 63.1,480.9 63.7,481.0 64.1,481.2 64.8,481.4 65.1,481.6 65.8,481.9 66.2,482.1 66.5,482.2 67.2,482.6 67.5,482.8 67.9,483.0 68.3,483.3 68.8,483.6 69.2,484.0 69.6,484.4 70.0,484.7 70.3,485.1 70.6,485.4 70.9,485.8 71.1,486.1 71.4,486.6 71.6,487.1 71.8,487.6 71.9,488.2 71.9,488.9 71.9,489.6 71.8,490.1 71.6,490.6 71.4,491.0 71.1,491.7 70.8,492.1 70.6,492.4 70.3,492.8 70.0,493.1 69.6,493.4 69.2,493.8 68.8,494.1 68.3,494.5 67.9,494.8 67.5,495.0 67.2,495.2 66.6,495.6 66.2,495.8 65.8,496.0 65.2,496.2 64.8,496.5 64.4,496.6 63.7,496.9 63.3,497.0 62.6,497.2 62.3,497.3 61.6,497.5 61.1,497.6 60.5,497.8 59.8,498.0 59.5,498.0 58.8,498.2 58.1,498.3 57.6,498.4 57.0,498.4 56.3,498.5 55.6,498.6 55.0,498.7 54.2,498.7 53.9,498.7Z M54.6,497.3 53.9,497.4 53.2,497.4 52.5,497.4 51.8,497.4 51.1,497.4 50.4,497.4 49.7,497.4 49.0,497.3 48.6,497.3 48.0,497.1 47.6,496.9 46.9,496.6 46.5,496.4 46.2,496.1 45.9,495.9 45.5,495.6 45.1,495.2 44.8,494.8 44.5,494.4 44.1,493.9 43.9,493.4 43.7,493.1 43.4,492.4 43.2,492.1 43.0,491.4 43.0,491.0 42.8,490.3 42.7,489.6 42.7,488.9 42.7,488.2 42.8,487.5 42.9,486.8 43.0,486.3 43.2,485.8 43.4,485.3 43.7,484.7 43.9,484.4 44.1,483.9 44.5,483.4 44.8,483.0 45.1,482.6 45.5,482.3 45.9,482.0 46.2,481.7 46.5,481.5 47.1,481.2 47.6,481.0 48.0,480.9 48.6,480.7 49.4,480.6 50.0,480.5 50.8,480.5 51.5,480.5 52.1,480.5 52.8,480.5 53.5,480.6 54.2,480.6 55.0,480.6 55.6,480.7 56.3,480.8 56.8,480.9 57.4,480.9 58.1,481.1 58.8,481.2 59.1,481.3 59.8,481.4 60.3,481.6 60.9,481.7 61.5,481.9 62.0,482.0 62.5,482.2 63.0,482.4 63.4,482.6 64.0,482.9 64.4,483.1 64.9,483.3 65.5,483.6 65.8,483.8 66.2,484.1 66.5,484.4 67.0,484.7 67.4,485.1 67.7,485.4 68.0,485.8 68.3,486.1 68.6,486.6 68.9,487.1 69.0,487.5 69.2,488.2 69.2,488.9 69.1,489.6 69.0,490.3 68.8,490.6 68.6,491.1 68.2,491.6 67.9,492.1 67.6,492.4 67.3,492.8 66.9,493.1 66.5,493.4 66.2,493.7 65.8,494.0 65.5,494.2 64.9,494.5 64.4,494.8 64.0,495.0 63.5,495.2 63.0,495.4 62.6,495.6 62.0,495.8 61.6,495.9 60.9,496.2 60.5,496.3 59.8,496.5 59.3,496.6 58.8,496.7 58.1,496.9 57.6,496.9 57.0,497.0 56.3,497.1 55.6,497.2 55.0,497.3 54.6,497.3Z M55.0,495.9 54.2,496.0 53.5,496.0 52.8,496.1 52.1,496.1 51.5,496.1 50.8,496.1 50.0,496.1 49.4,496.0 48.7,495.9 48.3,495.8 47.7,495.6 47.2,495.3 46.9,495.1 46.5,494.8 46.2,494.5 45.8,494.1 45.5,493.7 45.1,493.3 44.8,492.8 44.7,492.4 44.5,491.9 44.2,491.4 44.1,490.8 44.0,490.3 43.9,489.6 43.8,488.9 43.9,488.2 44.0,487.5 44.1,486.9 44.2,486.4 44.5,485.8 44.6,485.4 44.8,485.1 45.1,484.5 45.5,484.0 45.9,483.7 46.2,483.3 46.5,483.0 46.9,482.8 47.2,482.6 47.9,482.2 48.3,482.1 49.0,481.9 49.4,481.9 50.0,481.8 50.8,481.8 51.5,481.8 52.1,481.8 52.8,481.8 53.5,481.9 54.2,481.9 54.6,481.9 55.3,482.0 56.0,482.1 56.7,482.2 57.0,482.3 57.8,482.4 58.5,482.5 58.8,482.6 59.5,482.8 59.9,482.9 60.5,483.2 60.9,483.3 61.6,483.6 62.0,483.7 62.5,484.0 63.0,484.2 63.3,484.4 63.8,484.7 64.3,485.1 64.7,485.4 65.1,485.8 65.4,486.1 65.7,486.4 65.9,486.8 66.2,487.2 66.4,487.9 66.5,488.4 66.5,488.9 66.5,489.2 66.3,489.9 66.2,490.4 65.8,491.0 65.6,491.4 65.3,491.7 65.0,492.1 64.6,492.4 64.2,492.8 63.7,493.1 63.3,493.3 63.0,493.5 62.5,493.8 62.0,494.1 61.6,494.3 61.0,494.5 60.5,494.7 60.0,494.9 59.5,495.0 58.9,495.2 58.5,495.3 57.8,495.5 57.4,495.6 56.7,495.7 56.0,495.8 55.3,495.9 55.0,495.9Z M55.0,494.5 54.2,494.6 53.5,494.7 52.8,494.7 52.1,494.7 51.5,494.7 50.8,494.7 50.0,494.7 49.4,494.7 48.7,494.5 48.3,494.4 47.9,494.1 47.3,493.8 46.9,493.4 46.6,493.1 46.3,492.8 46.0,492.4 45.8,492.1 45.5,491.4 45.3,491.0 45.2,490.3 45.1,489.9 45.0,489.2 45.0,488.6 45.1,487.9 45.1,487.4 45.3,486.8 45.5,486.3 45.8,485.8 46.0,485.4 46.2,485.1 46.5,484.7 46.9,484.3 47.3,484.0 47.9,483.6 48.3,483.4 48.7,483.3 49.4,483.2 50.0,483.1 50.8,483.1 51.5,483.1 52.1,483.1 52.8,483.1 53.5,483.2 54.2,483.2 55.0,483.3 55.3,483.3 56.0,483.4 56.7,483.6 57.0,483.7 57.8,483.8 58.3,484.0 58.8,484.1 59.4,484.4 59.8,484.5 60.2,484.7 60.9,485.1 61.2,485.3 61.6,485.5 62.0,485.8 62.4,486.1 62.8,486.4 63.1,486.8 63.3,487.2 63.7,487.9 63.8,488.2 63.8,488.9 63.7,489.6 63.6,489.9 63.3,490.5 63.0,491.0 62.7,491.4 62.3,491.7 62.0,492.0 61.6,492.3 61.2,492.5 60.8,492.8 60.2,493.1 59.8,493.2 59.3,493.4 58.8,493.6 58.3,493.8 57.8,494.0 57.0,494.1 56.7,494.2 56.0,494.4 55.3,494.5 55.0,494.5Z M55.0,493.1 54.2,493.2 53.5,493.3 52.8,493.4 52.1,493.4 51.5,493.4 50.8,493.4 50.0,493.4 49.4,493.3 48.7,493.1 48.3,492.9 48.0,492.7 47.6,492.4 47.2,492.0 46.9,491.5 46.6,491.0 46.5,490.6 46.3,489.9 46.2,489.6 46.1,488.9 46.2,488.2 46.2,487.9 46.4,487.1 46.6,486.8 46.9,486.2 47.2,485.8 47.6,485.4 48.0,485.1 48.3,484.9 48.6,484.7 49.4,484.5 50.0,484.4 50.8,484.4 51.5,484.4 52.1,484.4 52.8,484.4 53.5,484.5 54.2,484.5 55.0,484.6 55.3,484.7 56.0,484.8 56.7,485.0 57.0,485.1 57.8,485.4 58.1,485.5 58.6,485.8 59.1,486.1 59.5,486.3 59.8,486.6 60.2,486.9 60.5,487.3 60.9,487.8 61.0,488.2 61.1,488.9 61.0,489.6 60.8,489.9 60.5,490.4 60.2,490.8 59.8,491.1 59.5,491.4 59.1,491.7 58.5,492.0 58.1,492.2 57.6,492.4 57.0,492.6 56.6,492.8 56.0,492.9 55.3,493.1 55.0,493.1Z M54.6,491.7 53.9,491.9 53.2,492.0 52.5,492.0 51.8,492.0 51.1,492.0 50.4,492.0 49.7,492.0 49.0,491.8 48.6,491.6 48.3,491.3 48.0,490.9 47.6,490.3 47.5,489.9 47.3,489.2 47.3,488.6 47.4,487.9 47.6,487.3 47.9,486.8 48.2,486.4 48.6,486.1 49.0,485.9 49.6,485.8 50.0,485.7 50.8,485.7 51.5,485.7 52.1,485.7 52.8,485.7 53.2,485.8 53.9,485.8 54.6,486.0 55.1,486.1 55.6,486.2 56.2,486.4 56.7,486.7 57.0,486.9 57.4,487.1 57.8,487.5 58.1,487.9 58.4,488.6 58.4,489.2 58.1,489.8 57.8,490.2 57.4,490.5 57.0,490.8 56.7,491.0 56.0,491.3 55.6,491.5 55.0,491.7 54.6,491.7Z M52.5,490.7 51.8,490.7 51.1,490.7 50.4,490.7 49.8,490.6 49.4,490.5 49.0,490.2 48.6,489.8 48.5,489.2 48.4,488.6 48.6,487.9 48.9,487.5 49.4,487.2 49.7,487.0 50.4,487.0 51.1,487.0 51.8,487.0 52.5,487.0 53.2,487.1 53.5,487.2 54.2,487.4 54.6,487.5 55.2,487.9 55.5,488.2 55.7,488.6 55.6,489.2 55.4,489.6 55.0,489.9 54.6,490.1 54.2,490.3 53.5,490.5 52.8,490.6 52.5,490.7Z M52.5,489.3 51.8,489.3 51.1,489.3 50.4,489.3 49.8,489.2 49.6,488.9 49.7,488.4 50.4,488.3 51.1,488.3 51.8,488.3 52.5,488.4 52.9,488.6 52.8,489.1 52.5,489.3Z" fill="none" stroke="#1a1a1a" stroke-width="0.55" stroke-linejoin="round"/>
<path d="M221.0,416.7h0.01M231.5,414.7h0.01M242.7,416.2h0.01M231.5,421.0h0.01M229.5,412.5h0.01M221.6,414.5h0.01M239.9,418.4h0.01M244.2,421.2h0.01M249.5,417.9h0.01M246.2,417.9h0.01M229.2,418.4h0.01M235.0,415.5h0.01M252.5,418.3h0.01M230.1,415.9h0.01M255.7,415.5h0.01M241.2,417.9h0.01M239.2,417.8h0.01M230.1,414.8h0.01M233.0,415.1h0.01M241.9,420.5h0.01M226.4,417.7h0.01M225.6,414.2h0.01M232.3,416.5h0.01M230.5,408.8h0.01M247.1,415.4h0.01M228.7,418.1h0.01M229.1,412.1h0.01M239.0,417.3h0.01M227.0,418.5h0.01M237.9,412.9h0.01M250.5,416.9h0.01M224.1,417.4h0.01M235.7,418.9h0.01M222.2,419.1h0.01M243.1,418.1h0.01M240.1,419.9h0.01M241.0,416.5h0.01M226.9,419.3h0.01M243.5,417.0h0.01M235.9,418.2h0.01M211.5,417.1h0.01M211.7,416.8h0.01M244.1,421.5h0.01M230.2,417.4h0.01M233.8,409.8h0.01M241.1,416.1h0.01M235.1,413.5h0.01M234.1,416.4h0.01M246.1,417.0h0.01M266.3,415.0h0.01M232.0,416.0h0.01M227.0,420.4h0.01M240.3,412.5h0.01M235.4,419.4h0.01M221.5,416.6h0.01M232.3,422.8h0.01M238.2,415.0h0.01M229.3,421.5h0.01M230.2,422.6h0.01M220.2,415.6h0.01M232.2,414.1h0.01M232.5,418.1h0.01M228.4,412.1h0.01M246.7,420.3h0.01M228.1,417.0h0.01M211.0,419.1h0.01M222.3,414.6h0.01M254.2,412.5h0.01M234.6,413.1h0.01M217.6,412.8h0.01" stroke="#555" stroke-width="0.9" stroke-linecap="round"/>
<path d="M242.9,420.7h0.01M238.6,426.2h0.01M229.0,415.3h0.01M243.3,417.8h0.01M247.0,420.0h0.01M211.7,409.6h0.01M224.3,403.2h0.01M234.9,419.3h0.01M248.7,413.9h0.01M232.9,427.4h0.01M246.1,412.4h0.01M256.7,416.1h0.01M252.3,419.2h0.01M230.3,410.3h0.01M227.3,436.5h0.01M254.1,418.3h0.01M251.2,435.1h0.01M231.9,417.0h0.01M251.3,425.4h0.01M265.0,426.1h0.01M220.3,421.6h0.01M219.9,429.1h0.01M245.6,418.1h0.01M223.9,430.5h0.01M230.9,433.6h0.01M222.6,419.4h0.01M228.6,412.2h0.01M227.5,429.5h0.01M211.5,433.9h0.01M250.9,418.8h0.01M231.2,424.4h0.01M242.3,418.6h0.01M224.5,419.6h0.01M230.2,429.5h0.01M237.3,424.3h0.01M213.4,418.5h0.01M230.7,417.2h0.01" stroke="#555" stroke-width="0.9" stroke-linecap="round"/>
<path d="M230.1,490.4h0.01M238.3,473.3h0.01M241.5,471.4h0.01M230.8,449.5h0.01M217.0,457.3h0.01M225.5,480.4h0.01M247.8,436.7h0.01M249.6,461.5h0.01M258.9,492.3h0.01M248.8,430.7h0.01M269.1,448.9h0.01M230.2,498.9h0.01M195.2,462.8h0.01M210.6,451.7h0.01M216.7,476.0h0.01M227.7,469.2h0.01M265.6,457.2h0.01M197.6,448.9h0.01M253.9,482.5h0.01M219.1,464.3h0.01M239.8,483.3h0.01M231.5,482.2h0.01M214.6,447.6h0.01M249.4,477.0h0.01M233.5,474.6h0.01M239.2,478.0h0.01M260.6,472.9h0.01M252.9,454.3h0.01M243.7,463.0h0.01M223.7,451.0h0.01M194.1,480.8h0.01M261.9,436.4h0.01M244.5,497.5h0.01M207.3,482.5h0.01M204.0,440.6h0.01M239.3,486.9h0.01M206.3,447.0h0.01M209.5,484.9h0.01M222.0,474.1h0.01M249.1,486.1h0.01M244.0,469.3h0.01M260.7,472.1h0.01M206.2,451.3h0.01M255.0,465.2h0.01M226.6,467.4h0.01M245.5,471.7h0.01M228.5,486.8h0.01M253.9,470.5h0.01M204.1,488.2h0.01M251.9,460.6h0.01M207.2,457.6h0.01M223.1,445.3h0.01" stroke="#555" stroke-width="0.9" stroke-linecap="round"/>
<path d="M212.9,494.0 212.2,494.0 211.5,494.1 210.8,494.1 210.1,494.1 209.4,494.1 208.7,494.1 208.0,494.1 207.3,494.1 206.6,494.1 205.9,494.1 205.2,494.1 204.5,494.1 203.8,494.1 203.1,494.1 202.4,494.1 201.7,494.1 201.0,494.1 200.3,494.1 199.6,494.1 198.9,494.1 198.2,494.1 197.7,494.0 197.2,493.9 196.4,493.8 196.1,493.6 195.4,493.4 195.1,493.2 194.5,492.9 194.0,492.6 193.7,492.4 193.3,492.1 192.9,491.7 192.6,491.3 192.3,490.9 192.1,490.5 191.9,490.1 191.7,489.4 191.6,488.8 191.6,488.1 191.7,487.4 191.8,486.6 191.9,486.3 192.1,485.6 192.3,485.2 192.6,484.6 192.8,484.2 193.1,483.9 193.3,483.5 193.7,483.1 194.0,482.8 194.4,482.4 194.8,482.1 195.4,481.8 195.8,481.5 196.1,481.4 196.8,481.1 197.2,481.0 197.8,480.8 198.6,480.8 199.2,480.7 199.9,480.7 200.7,480.7 201.3,480.7 202.1,480.7 202.8,480.7 203.4,480.7 204.2,480.7 204.8,480.7 205.6,480.7 206.2,480.7 206.9,480.7 207.7,480.7 208.3,480.7 209.1,480.7 209.8,480.7 210.4,480.8 211.2,480.8 211.8,480.8 212.6,480.8 213.2,480.9 213.9,480.9 214.7,481.0 215.3,481.0 215.7,481.1 216.4,481.1 217.1,481.2 217.8,481.3 218.5,481.4 218.8,481.4 219.6,481.5 220.2,481.6 220.9,481.8 221.3,481.8 222.0,482.0 222.6,482.1 223.1,482.2 223.8,482.4 224.1,482.4 224.8,482.6 225.4,482.8 225.8,482.9 226.5,483.1 226.9,483.3 227.5,483.5 227.9,483.7 228.3,483.9 229.0,484.1 229.3,484.3 229.8,484.6 230.4,484.9 230.8,485.1 231.1,485.4 231.4,485.6 231.8,485.9 232.2,486.3 232.5,486.7 232.8,487.3 233.0,487.7 233.2,488.4 233.0,489.1 232.8,489.4 232.5,489.8 232.1,490.1 231.6,490.5 231.1,490.8 230.8,490.9 230.2,491.2 229.7,491.4 229.3,491.6 228.7,491.8 228.2,491.9 227.6,492.1 226.9,492.2 226.6,492.3 225.8,492.5 225.4,492.6 224.8,492.7 224.1,492.9 223.6,492.9 223.1,493.0 222.3,493.2 221.7,493.3 221.3,493.3 220.6,493.4 219.9,493.5 219.2,493.6 218.5,493.6 218.2,493.7 217.4,493.7 216.8,493.8 216.1,493.9 215.3,493.9 214.7,493.9 213.9,494.0 213.2,494.0 212.9,494.0Z M210.8,488.8 210.1,488.9 209.4,489.0 208.7,489.0 208.0,489.0 207.3,489.0 206.6,489.0 205.9,489.0 205.2,489.0 204.5,489.0 203.8,489.0 203.1,489.0 202.4,489.0 201.7,489.0 201.0,489.0 200.3,489.0 199.6,489.0 198.9,489.0 198.4,488.8 198.5,488.1 198.9,487.8 199.6,487.8 200.3,487.8 201.0,487.8 201.7,487.8 202.4,487.8 203.1,487.8 203.8,487.8 204.5,487.8 205.2,487.8 205.9,487.8 206.6,487.8 207.3,487.8 208.0,487.8 208.7,487.8 209.4,487.8 210.1,487.9 210.7,488.1 211.2,488.4 211.2,488.4 210.8,488.8Z" fill="#111" fill-opacity="0.65" fill-rule="evenodd"/>
<path d="M216.8,497.9 216.1,497.9 215.3,497.9 214.7,498.0 213.9,498.0 213.2,498.0 212.6,498.0 211.8,498.0 211.2,498.0 210.4,498.0 209.8,498.0 209.1,498.0 208.3,498.0 207.7,498.0 206.9,498.0 206.2,498.0 205.6,498.0 204.8,498.0 204.2,498.0 203.4,498.0 202.8,498.0 202.1,498.0 201.3,498.0 200.7,498.0 199.9,498.0 199.2,498.0 198.6,498.0 197.8,498.0 197.2,497.9 196.5,497.9 196.1,497.8 195.4,497.6 194.8,497.5 194.3,497.4 193.7,497.1 193.3,497.0 192.8,496.8 192.2,496.6 191.9,496.4 191.4,496.1 190.8,495.8 190.5,495.6 190.2,495.3 189.8,495.0 189.4,494.7 189.0,494.4 188.7,494.0 188.4,493.6 188.1,493.3 187.7,492.8 187.4,492.2 187.2,491.9 187.0,491.5 186.7,490.9 186.6,490.5 186.5,489.8 186.4,489.1 186.3,488.4 186.4,487.7 186.4,487.0 186.5,486.3 186.7,485.6 186.7,485.2 186.9,484.6 187.0,484.2 187.3,483.5 187.4,483.1 187.7,482.6 187.9,482.1 188.1,481.8 188.4,481.3 188.8,480.7 189.0,480.4 189.3,480.0 189.6,479.6 189.9,479.3 190.2,478.9 190.6,478.6 191.0,478.2 191.4,477.9 191.9,477.6 192.2,477.3 192.6,477.1 193.0,476.9 193.7,476.5 194.0,476.3 194.5,476.1 195.1,475.9 195.4,475.8 196.1,475.6 196.8,475.5 197.2,475.4 197.8,475.3 198.6,475.3 199.2,475.3 199.9,475.3 200.7,475.3 201.3,475.3 202.1,475.3 202.8,475.3 203.4,475.3 204.2,475.3 204.8,475.3 205.6,475.3 206.2,475.3 206.9,475.3 207.7,475.3 208.3,475.3 209.1,475.3 209.8,475.3 210.4,475.3 211.2,475.3 211.8,475.3 212.6,475.3 213.2,475.3 213.9,475.4 214.7,475.4 215.3,475.4 215.8,475.4 216.4,475.5 217.1,475.5 217.8,475.6 218.5,475.6 219.2,475.7 219.9,475.7 220.6,475.8 220.9,475.8 221.7,475.9 222.3,476.0 223.1,476.1 223.8,476.1 224.1,476.2 224.8,476.3 225.5,476.4 226.2,476.5 226.6,476.5 227.2,476.6 227.9,476.7 228.6,476.9 229.0,476.9 229.7,477.0 230.4,477.2 230.8,477.3 231.4,477.4 232.2,477.5 232.5,477.6 233.2,477.8 233.7,477.9 234.2,478.0 234.9,478.2 235.3,478.3 236.0,478.5 236.4,478.6 237.1,478.8 237.6,478.9 238.1,479.1 238.7,479.3 239.2,479.5 239.7,479.6 240.2,479.8 240.6,480.0 241.2,480.2 241.6,480.4 242.3,480.7 242.7,480.8 243.1,481.1 243.7,481.3 244.1,481.5 244.5,481.8 245.1,482.1 245.4,482.3 245.8,482.5 246.2,482.8 246.7,483.1 247.2,483.5 247.6,483.8 247.9,484.1 248.2,484.4 248.6,484.8 248.9,485.2 249.3,485.6 249.5,485.9 249.7,486.3 250.0,487.0 250.1,487.4 250.2,488.1 250.2,488.8 250.1,489.4 249.9,489.8 249.6,490.1 249.3,490.5 248.9,490.9 248.6,491.2 248.1,491.6 247.6,491.9 247.2,492.1 246.8,492.3 246.2,492.6 245.8,492.8 245.4,493.0 244.8,493.3 244.4,493.4 243.7,493.6 243.3,493.8 242.7,494.0 242.3,494.1 241.6,494.3 241.2,494.4 240.6,494.6 240.2,494.7 239.5,494.9 239.0,495.1 238.4,495.2 237.8,495.3 237.4,495.4 236.7,495.6 236.0,495.7 235.7,495.8 234.9,495.9 234.2,496.0 233.9,496.1 233.2,496.2 232.5,496.3 231.8,496.4 231.4,496.5 230.8,496.6 230.1,496.7 229.3,496.8 229.0,496.8 228.3,496.9 227.6,497.0 226.9,497.1 226.4,497.1 225.8,497.2 225.2,497.3 224.4,497.3 223.8,497.4 223.1,497.5 222.6,497.5 222.0,497.6 221.3,497.6 220.6,497.7 219.9,497.7 219.2,497.7 218.5,497.8 217.8,497.8 217.1,497.8 216.8,497.9Z M217.1,496.8 216.4,496.8 215.7,496.9 215.0,496.9 214.3,496.9 213.6,497.0 212.9,497.0 212.2,497.0 211.5,497.0 210.8,497.0 210.1,497.0 209.4,497.0 208.7,497.0 208.0,497.0 207.3,497.0 206.6,497.0 205.9,497.0 205.2,497.0 204.5,497.0 203.8,497.0 203.1,497.0 202.4,497.0 201.7,497.0 201.0,497.0 200.3,497.0 199.6,497.0 198.9,497.0 198.2,497.0 197.5,497.0 196.8,496.9 196.4,496.8 195.8,496.7 195.1,496.5 194.7,496.4 194.0,496.1 193.7,496.0 193.1,495.8 192.6,495.5 192.2,495.3 191.8,495.1 191.2,494.7 190.8,494.4 190.5,494.1 190.2,493.8 189.8,493.5 189.4,493.1 189.1,492.6 188.8,492.2 188.6,491.9 188.4,491.5 188.1,490.9 188.0,490.5 187.8,489.8 187.7,489.1 187.7,488.5 187.7,488.4 187.7,487.7 187.8,487.0 187.9,486.3 188.0,485.6 188.1,485.2 188.3,484.6 188.5,484.2 188.8,483.5 188.9,483.1 189.1,482.8 189.4,482.2 189.7,481.8 190.0,481.4 190.2,481.1 190.5,480.7 190.8,480.3 191.2,479.9 191.6,479.6 191.9,479.3 192.3,478.9 192.8,478.6 193.3,478.3 193.7,478.1 194.0,477.9 194.7,477.6 195.1,477.4 195.7,477.2 196.1,477.1 196.8,476.9 197.2,476.8 197.8,476.7 198.6,476.7 199.2,476.7 199.9,476.7 200.7,476.7 201.3,476.7 202.1,476.7 202.8,476.7 203.4,476.7 204.2,476.7 204.8,476.7 205.6,476.7 206.2,476.7 206.9,476.7 207.7,476.7 208.3,476.7 209.1,476.7 209.8,476.7 210.4,476.7 211.2,476.7 211.8,476.7 212.6,476.7 213.2,476.8 213.9,476.8 214.7,476.8 215.3,476.9 215.7,476.9 216.4,476.9 217.1,477.0 217.8,477.0 218.5,477.1 219.2,477.1 219.8,477.2 220.2,477.2 220.9,477.3 221.7,477.4 222.3,477.5 222.9,477.6 223.4,477.6 224.1,477.7 224.8,477.8 225.3,477.9 225.8,478.0 226.6,478.1 227.2,478.2 227.6,478.3 228.3,478.4 229.0,478.6 229.3,478.6 230.1,478.8 230.7,478.9 231.1,479.0 231.8,479.2 232.2,479.3 232.8,479.5 233.4,479.6 233.9,479.8 234.6,480.0 234.9,480.1 235.7,480.3 236.0,480.4 236.7,480.7 237.1,480.8 237.6,481.1 238.1,481.2 238.5,481.4 239.2,481.7 239.5,481.9 240.0,482.1 240.6,482.4 240.9,482.6 241.3,482.8 241.9,483.1 242.3,483.4 242.7,483.7 243.0,483.9 243.3,484.2 243.7,484.6 244.1,484.9 244.4,485.2 244.8,485.6 245.1,486.1 245.4,486.6 245.6,487.0 245.8,487.7 245.8,488.1 245.8,488.8 245.8,489.1 245.4,489.8 245.2,490.1 244.8,490.5 244.4,490.9 244.1,491.1 243.7,491.4 243.3,491.6 242.8,491.9 242.3,492.2 241.9,492.3 241.3,492.6 240.9,492.8 240.4,492.9 239.8,493.2 239.5,493.3 238.8,493.5 238.4,493.6 237.8,493.8 237.2,494.0 236.7,494.1 236.0,494.3 235.7,494.4 234.9,494.6 234.3,494.7 233.9,494.8 233.2,494.9 232.6,495.1 232.2,495.1 231.4,495.3 230.8,495.4 230.4,495.4 229.7,495.6 229.0,495.7 228.4,495.8 227.9,495.8 227.2,495.9 226.6,496.0 225.8,496.1 225.5,496.1 224.8,496.2 224.1,496.3 223.4,496.3 222.7,496.4 222.2,496.4 221.7,496.5 220.9,496.6 220.2,496.6 219.6,496.7 218.8,496.7 218.2,496.8 217.4,496.8 217.1,496.8Z M217.1,495.8 216.4,495.8 215.7,495.8 215.0,495.9 214.3,495.9 213.6,495.9 212.9,496.0 212.2,496.0 211.5,496.0 210.8,496.0 210.1,496.0 209.4,496.0 208.7,496.0 208.0,496.0 207.3,496.0 206.6,496.0 205.9,496.0 205.2,496.0 204.5,496.0 203.8,496.0 203.1,496.0 202.4,496.0 201.7,496.0 201.0,496.0 200.3,496.0 199.6,496.0 198.9,496.0 198.2,496.0 197.5,495.9 196.8,495.8 196.4,495.8 195.8,495.6 195.1,495.4 194.7,495.3 194.1,495.1 193.7,494.8 193.3,494.7 192.8,494.4 192.2,494.0 191.9,493.8 191.6,493.5 191.2,493.2 190.8,492.8 190.5,492.4 190.2,491.9 189.9,491.6 189.7,491.2 189.4,490.6 189.3,490.1 189.1,489.4 189.1,489.1 189.0,488.4 189.1,487.7 189.1,487.4 189.2,486.6 189.3,485.9 189.4,485.6 189.7,484.9 189.8,484.5 190.1,483.9 190.3,483.5 190.5,483.1 190.8,482.5 191.1,482.1 191.4,481.8 191.7,481.4 192.0,481.1 192.4,480.7 192.8,480.4 193.2,480.0 193.7,479.7 194.0,479.5 194.3,479.3 195.0,478.9 195.4,478.8 195.9,478.6 196.4,478.4 197.2,478.3 197.5,478.2 198.2,478.1 198.9,478.1 199.6,478.1 200.3,478.1 201.0,478.1 201.7,478.1 202.4,478.1 203.1,478.1 203.8,478.1 204.5,478.1 205.2,478.1 205.9,478.1 206.6,478.1 207.3,478.1 208.0,478.1 208.7,478.1 209.4,478.1 210.1,478.1 210.8,478.1 211.5,478.1 212.2,478.1 212.9,478.2 213.6,478.2 214.3,478.2 214.7,478.2 215.3,478.3 216.1,478.3 216.8,478.4 217.4,478.4 218.2,478.5 218.8,478.6 219.2,478.6 219.9,478.7 220.6,478.8 221.3,478.9 221.9,478.9 222.3,479.0 223.1,479.1 223.8,479.2 224.2,479.3 224.8,479.4 225.5,479.5 226.1,479.6 226.6,479.7 227.2,479.9 227.8,480.0 228.3,480.1 229.0,480.3 229.3,480.4 230.1,480.6 230.5,480.7 231.1,480.9 231.7,481.1 232.2,481.2 232.7,481.4 233.2,481.6 233.7,481.8 234.2,482.0 234.6,482.1 235.3,482.4 235.7,482.6 236.2,482.8 236.7,483.1 237.1,483.3 237.5,483.5 238.0,483.9 238.4,484.1 238.8,484.4 239.2,484.6 239.5,484.9 239.8,485.3 240.2,485.6 240.6,486.1 240.9,486.6 241.1,487.0 241.3,487.4 241.4,488.1 241.4,488.8 241.2,489.3 241.0,489.8 240.7,490.1 240.3,490.5 239.8,490.8 239.5,491.1 239.2,491.3 238.7,491.6 238.1,491.8 237.8,492.0 237.1,492.2 236.7,492.4 236.2,492.6 235.7,492.8 235.1,492.9 234.6,493.1 234.0,493.3 233.6,493.4 232.8,493.6 232.5,493.7 231.8,493.8 231.1,494.0 230.8,494.1 230.1,494.2 229.3,494.3 229.0,494.4 228.3,494.5 227.6,494.7 227.2,494.7 226.6,494.8 225.8,494.9 225.2,495.0 224.8,495.1 224.1,495.1 223.4,495.2 222.7,495.3 222.0,495.4 221.7,495.4 220.9,495.5 220.2,495.5 219.6,495.6 218.8,495.7 218.2,495.7 217.4,495.7 217.1,495.8Z M217.1,494.7 216.4,494.8 215.7,494.8 215.0,494.8 214.3,494.9 213.6,494.9 212.9,494.9 212.2,495.0 211.5,495.0 210.8,495.0 210.1,495.0 209.4,495.0 208.7,495.0 208.0,495.0 207.3,495.0 206.6,495.0 205.9,495.0 205.2,495.0 204.5,495.0 203.8,495.0 203.1,495.0 202.4,495.0 201.7,495.0 201.0,495.0 200.3,495.0 199.6,495.0 198.9,495.0 198.2,495.0 197.5,494.9 196.8,494.8 196.4,494.7 195.8,494.5 195.3,494.4 194.7,494.1 194.3,494.0 193.8,493.6 193.3,493.4 192.9,493.1 192.6,492.8 192.2,492.5 191.9,492.2 191.6,491.7 191.2,491.2 191.0,490.9 190.8,490.5 190.6,489.8 190.5,489.4 190.4,488.8 190.4,488.1 190.5,487.4 190.5,487.0 190.6,486.3 190.8,485.6 191.0,485.2 191.2,484.7 191.4,484.2 191.6,483.9 191.9,483.4 192.2,482.9 192.6,482.5 192.9,482.1 193.3,481.8 193.7,481.4 194.0,481.2 194.3,480.9 194.7,480.7 195.3,480.4 195.8,480.2 196.2,480.0 196.8,479.8 197.4,479.6 197.8,479.6 198.6,479.5 199.2,479.5 199.9,479.5 200.7,479.5 201.3,479.5 202.1,479.5 202.8,479.5 203.4,479.5 204.2,479.5 204.8,479.5 205.6,479.5 206.2,479.5 206.9,479.5 207.7,479.5 208.3,479.5 209.1,479.5 209.8,479.5 210.4,479.5 211.2,479.5 211.8,479.5 212.6,479.6 213.2,479.6 213.9,479.6 214.3,479.7 215.0,479.7 215.7,479.8 216.4,479.8 217.1,479.9 217.8,479.9 218.2,480.0 218.8,480.1 219.6,480.2 220.2,480.2 220.9,480.4 221.3,480.4 222.0,480.5 222.7,480.6 223.1,480.7 223.8,480.8 224.4,481.0 224.8,481.1 225.5,481.2 226.2,481.4 226.6,481.5 227.2,481.7 227.6,481.8 228.3,482.0 228.7,482.1 229.3,482.3 229.8,482.4 230.4,482.7 230.8,482.8 231.4,483.1 231.8,483.2 232.3,483.5 232.8,483.8 233.2,483.9 233.7,484.2 234.2,484.6 234.6,484.8 234.9,485.1 235.3,485.4 235.7,485.7 236.0,486.0 236.3,486.5 236.7,487.0 236.8,487.4 237.0,488.1 237.1,488.4 237.0,488.8 236.8,489.4 236.5,489.8 236.1,490.1 235.7,490.5 235.3,490.8 234.9,491.0 234.5,491.2 233.9,491.5 233.6,491.6 232.9,491.9 232.5,492.0 231.9,492.2 231.4,492.4 230.8,492.6 230.4,492.7 229.7,492.9 229.3,493.0 228.7,493.1 227.9,493.3 227.6,493.4 226.9,493.5 226.2,493.6 225.8,493.7 225.2,493.8 224.4,493.9 223.9,494.0 223.4,494.1 222.7,494.2 222.0,494.3 221.3,494.3 220.9,494.4 220.2,494.4 219.6,494.5 218.8,494.6 218.2,494.6 217.4,494.7 217.1,494.7Z M216.8,493.7 216.1,493.7 215.3,493.8 214.7,493.8 213.9,493.9 213.2,493.9 212.6,493.9 211.8,493.9 211.2,494.0 210.4,494.0 209.8,494.0 209.1,494.0 208.3,494.0 207.7,494.0 206.9,494.0 206.2,494.0 205.6,494.0 204.8,494.0 204.2,494.0 203.4,494.0 202.8,494.0 202.1,494.0 201.3,494.0 200.7,494.0 199.9,494.0 199.2,494.0 198.6,494.0 197.8,493.9 197.2,493.8 196.6,493.6 196.1,493.5 195.5,493.3 195.1,493.1 194.7,492.9 194.2,492.6 193.7,492.2 193.3,491.9 193.0,491.6 192.7,491.2 192.4,490.9 192.2,490.5 191.9,489.8 191.8,489.4 191.7,488.8 191.7,488.1 191.8,487.4 191.9,486.9 192.0,486.3 192.2,485.7 192.4,485.2 192.6,484.9 192.9,484.3 193.3,483.9 193.5,483.5 193.8,483.1 194.2,482.8 194.6,482.4 195.1,482.1 195.4,481.9 195.8,481.7 196.4,481.4 196.8,481.3 197.5,481.1 197.8,481.0 198.6,480.9 199.2,480.9 199.9,480.9 200.7,480.9 201.3,480.9 202.1,480.9 202.8,480.9 203.4,480.9 204.2,480.9 204.8,480.9 205.6,480.9 206.2,480.9 206.9,480.9 207.7,480.9 208.3,480.9 209.1,480.9 209.8,480.9 210.4,480.9 211.2,480.9 211.8,481.0 212.6,481.0 213.2,481.0 213.6,481.1 214.3,481.1 215.0,481.2 215.7,481.2 216.4,481.3 217.1,481.4 217.4,481.4 218.2,481.5 218.8,481.6 219.6,481.7 219.9,481.8 220.6,481.9 221.3,482.0 221.7,482.1 222.3,482.2 223.1,482.4 223.4,482.5 224.1,482.6 224.6,482.8 225.2,482.9 225.8,483.1 226.2,483.3 226.8,483.5 227.2,483.7 227.7,483.9 228.3,484.1 228.7,484.3 229.2,484.6 229.7,484.8 230.1,485.0 230.4,485.3 230.9,485.6 231.3,485.9 231.7,486.3 232.0,486.6 232.2,487.0 232.5,487.6 232.6,488.1 232.6,488.8 232.5,489.1 232.2,489.6 231.8,490.0 231.4,490.2 231.0,490.5 230.4,490.8 230.1,491.0 229.6,491.2 229.0,491.4 228.7,491.6 227.9,491.8 227.5,491.9 226.9,492.1 226.2,492.2 225.8,492.3 225.2,492.5 224.7,492.6 224.1,492.7 223.4,492.8 222.8,492.9 222.3,493.0 221.7,493.1 220.9,493.2 220.4,493.3 219.9,493.4 219.2,493.4 218.5,493.5 217.8,493.6 217.1,493.6 216.8,493.7Z M209.8,493.0 209.1,493.0 208.3,493.0 207.7,493.0 206.9,493.0 206.2,493.0 205.6,493.0 204.8,493.0 204.2,493.0 203.4,493.0 202.8,493.0 202.1,493.0 201.3,493.0 200.7,493.0 199.9,493.0 199.2,493.0 198.8,492.9 198.2,492.9 197.5,492.8 196.8,492.6 196.4,492.5 195.8,492.2 195.4,492.0 195.1,491.8 194.7,491.6 194.3,491.2 194.0,490.9 193.7,490.4 193.3,489.8 193.2,489.4 193.1,488.8 193.1,488.1 193.2,487.4 193.3,486.9 193.5,486.3 193.7,485.9 194.0,485.2 194.2,484.9 194.5,484.6 194.8,484.2 195.1,483.9 195.5,483.5 196.0,483.1 196.4,482.9 196.8,482.8 197.5,482.5 197.8,482.4 198.6,482.3 199.2,482.3 199.9,482.3 200.7,482.3 201.3,482.3 202.1,482.3 202.8,482.3 203.4,482.3 204.2,482.3 204.8,482.3 205.6,482.3 206.2,482.3 206.9,482.3 207.7,482.3 208.3,482.3 209.1,482.3 209.8,482.3 210.4,482.3 211.2,482.4 211.8,482.4 212.6,482.4 213.0,482.4 213.6,482.5 214.3,482.6 215.0,482.6 215.7,482.7 216.4,482.8 216.8,482.8 217.4,482.9 218.2,483.1 218.7,483.1 219.2,483.3 219.9,483.4 220.3,483.5 220.9,483.6 221.7,483.8 222.0,483.9 222.7,484.2 223.1,484.3 223.8,484.5 224.1,484.7 224.7,484.9 225.2,485.1 225.5,485.3 226.0,485.6 226.6,485.9 226.9,486.2 227.2,486.5 227.6,486.9 227.9,487.4 228.1,487.7 228.3,488.4 228.1,489.1 227.8,489.4 227.4,489.8 226.9,490.1 226.6,490.3 226.2,490.5 225.5,490.8 225.2,490.9 224.4,491.2 224.1,491.3 223.4,491.5 223.0,491.6 222.3,491.7 221.7,491.9 221.3,491.9 220.6,492.1 219.9,492.2 219.4,492.2 218.8,492.3 218.2,492.4 217.4,492.5 216.8,492.6 216.4,492.6 215.7,492.7 215.0,492.7 214.3,492.8 213.6,492.8 212.9,492.9 212.2,492.9 211.5,492.9 210.8,492.9 210.1,492.9 209.8,493.0Z M211.2,491.9 210.4,491.9 209.8,491.9 209.1,491.9 208.3,491.9 207.7,491.9 206.9,491.9 206.2,491.9 205.6,491.9 204.8,491.9 204.2,491.9 203.4,491.9 202.8,491.9 202.1,491.9 201.3,491.9 200.7,491.9 199.9,491.9 199.2,491.9 198.6,491.9 198.2,491.9 197.5,491.8 196.9,491.6 196.4,491.4 196.1,491.2 195.7,490.9 195.3,490.5 195.0,490.1 194.7,489.6 194.5,489.1 194.4,488.4 194.5,487.7 194.7,487.0 194.8,486.6 195.1,486.1 195.4,485.6 195.7,485.2 196.0,484.9 196.4,484.6 196.8,484.3 197.2,484.1 197.8,483.9 198.2,483.8 198.9,483.7 199.6,483.7 200.3,483.7 201.0,483.7 201.7,483.7 202.4,483.7 203.1,483.7 203.8,483.7 204.5,483.7 205.2,483.7 205.9,483.7 206.6,483.7 207.3,483.7 208.0,483.7 208.7,483.7 209.4,483.7 210.1,483.7 210.8,483.8 211.5,483.8 212.2,483.8 212.6,483.9 213.2,483.9 213.9,484.0 214.7,484.1 215.3,484.2 215.7,484.2 216.4,484.4 217.1,484.5 217.4,484.6 218.2,484.7 218.8,484.9 219.2,485.0 219.9,485.2 220.2,485.4 220.8,485.6 221.3,485.8 221.7,486.0 222.2,486.3 222.7,486.6 223.1,486.9 223.4,487.3 223.7,487.7 223.8,488.1 223.8,488.8 223.7,489.1 223.3,489.4 222.8,489.8 222.3,490.0 222.0,490.2 221.3,490.4 220.9,490.5 220.2,490.8 219.9,490.9 219.2,491.0 218.5,491.1 218.2,491.2 217.4,491.3 216.8,491.4 216.1,491.5 215.7,491.6 215.0,491.7 214.3,491.7 213.6,491.8 212.9,491.8 212.2,491.9 211.5,491.9 211.2,491.9Z M211.5,490.9 210.8,490.9 210.1,490.9 209.4,490.9 208.7,490.9 208.0,490.9 207.3,490.9 206.6,490.9 205.9,490.9 205.2,490.9 204.5,490.9 203.8,490.9 203.1,490.9 202.4,490.9 201.7,490.9 201.0,490.9 200.3,490.9 199.6,490.9 198.9,490.9 198.2,490.9 197.8,490.8 197.2,490.5 196.8,490.3 196.4,490.0 196.1,489.5 195.9,489.1 195.8,488.4 195.9,487.7 196.1,487.1 196.3,486.6 196.6,486.3 196.9,485.9 197.4,485.6 197.8,485.4 198.2,485.2 198.9,485.1 199.6,485.1 200.3,485.1 201.0,485.1 201.7,485.1 202.4,485.1 203.1,485.1 203.8,485.1 204.5,485.1 205.2,485.1 205.9,485.1 206.6,485.1 207.3,485.1 208.0,485.1 208.7,485.1 209.4,485.1 210.1,485.2 210.8,485.2 211.5,485.2 211.8,485.3 212.6,485.3 213.2,485.4 213.9,485.5 214.3,485.6 215.0,485.7 215.7,485.9 216.1,486.0 216.8,486.2 217.1,486.4 217.8,486.6 218.2,486.9 218.5,487.1 218.9,487.4 219.2,487.7 219.5,488.4 219.2,489.0 218.8,489.3 218.5,489.5 217.8,489.8 217.4,489.9 216.8,490.1 216.4,490.2 215.7,490.4 215.0,490.5 214.7,490.5 213.9,490.6 213.2,490.7 212.6,490.8 211.8,490.8 211.5,490.9Z M211.2,489.8 210.4,489.9 209.8,489.9 209.1,489.9 208.3,489.9 207.7,489.9 206.9,489.9 206.2,489.9 205.6,489.9 204.8,489.9 204.2,489.9 203.4,489.9 202.8,489.9 202.1,489.9 201.3,489.9 200.7,489.9 199.9,489.9 199.2,489.9 198.6,489.9 198.2,489.8 197.6,489.4 197.3,489.1 197.2,488.6 197.2,488.3 197.3,487.7 197.5,487.3 197.8,487.0 198.4,486.6 198.9,486.5 199.6,486.5 200.3,486.5 201.0,486.5 201.7,486.5 202.4,486.5 203.1,486.5 203.8,486.5 204.5,486.5 205.2,486.5 205.9,486.5 206.6,486.5 207.3,486.5 208.0,486.5 208.7,486.5 209.4,486.5 210.1,486.6 210.8,486.6 211.2,486.7 211.8,486.8 212.6,486.9 212.9,487.0 213.6,487.2 213.9,487.4 214.6,487.7 214.9,488.1 215.1,488.4 215.0,488.8 214.5,489.1 213.9,489.3 213.5,489.4 212.9,489.6 212.2,489.7 211.5,489.8 211.2,489.8Z M210.1,488.8 209.4,488.9 208.7,488.9 208.0,488.9 207.3,488.9 206.6,488.9 205.9,488.9 205.2,488.9 204.5,488.9 203.8,488.9 203.1,488.9 202.4,488.9 201.7,488.9 201.0,488.9 200.3,488.9 199.6,488.9 198.9,488.9 198.6,488.6 198.6,488.3 198.9,488.0 199.6,488.0 200.3,488.0 201.0,488.0 201.7,488.0 202.4,488.0 203.1,488.0 203.8,488.0 204.5,488.0 205.2,488.0 205.9,488.0 206.6,488.0 207.3,488.0 208.0,488.0 208.7,488.0 209.4,488.0 209.9,488.1 210.4,488.3 210.4,488.6 210.1,488.8Z" fill="none" stroke="#1a1a1a" stroke-width="0.55" stroke-linejoin="round"/>
<ellipse cx="233.6" cy="414.5" rx="5.8" ry="2.4" fill="none" stroke="#333" stroke-width="0.7"/>
<path d="M391.4,418.4h0.01M362.9,408.2h0.01M376.9,417.7h0.01M376.4,409.9h0.01M372.5,420.0h0.01M362.8,418.7h0.01M383.8,416.7h0.01M386.4,413.1h0.01M376.7,421.3h0.01M373.8,413.5h0.01M362.6,413.4h0.01M386.1,419.4h0.01M385.1,417.2h0.01M384.4,416.2h0.01M389.1,414.5h0.01M389.8,414.8h0.01M360.6,410.6h0.01M375.9,413.4h0.01M364.8,412.4h0.01M380.1,416.4h0.01M387.3,412.0h0.01M382.2,418.6h0.01M381.9,421.1h0.01M372.9,415.0h0.01M380.0,413.6h0.01M377.5,415.8h0.01M377.7,413.3h0.01M373.2,414.8h0.01M361.4,415.7h0.01M366.2,414.2h0.01M366.3,415.4h0.01M373.9,414.1h0.01M370.0,415.4h0.01M395.3,408.8h0.01M383.6,415.8h0.01M373.9,410.6h0.01M395.1,415.7h0.01M388.8,413.7h0.01M369.8,418.7h0.01M386.0,414.0h0.01M375.7,417.1h0.01M369.4,412.2h0.01M377.6,418.5h0.01M387.3,415.7h0.01M392.5,414.5h0.01M372.8,423.0h0.01M372.7,417.1h0.01M384.0,415.4h0.01M380.5,417.4h0.01M384.0,413.0h0.01" stroke="#555" stroke-width="0.9" stroke-linecap="round"/>
<path d="M371.7,405.3h0.01M385.2,434.6h0.01M397.8,430.3h0.01M390.7,433.5h0.01M374.2,406.9h0.01M351.8,428.5h0.01M384.9,421.7h0.01M377.0,412.3h0.01M366.4,443.0h0.01M398.4,429.8h0.01M382.5,417.6h0.01M372.4,428.8h0.01M365.1,419.8h0.01M403.0,409.3h0.01M366.0,439.5h0.01M383.7,423.7h0.01M365.3,408.1h0.01M385.0,416.5h0.01M376.6,401.6h0.01M391.6,427.8h0.01M382.4,426.1h0.01M357.3,423.7h0.01M385.3,421.2h0.01M379.6,411.0h0.01M378.9,434.7h0.01M376.6,434.9h0.01M369.7,414.8h0.01M382.0,413.2h0.01M352.1,425.3h0.01M378.0,427.8h0.01M364.7,417.7h0.01M385.5,417.2h0.01M374.7,424.2h0.01M366.5,424.4h0.01M355.4,426.8h0.01" stroke="#555" stroke-width="0.9" stroke-linecap="round"/>
<path d="M381.3,459.3h0.01M376.9,448.3h0.01M382.0,459.7h0.01M402.2,439.2h0.01M379.3,478.1h0.01M373.4,444.3h0.01M376.7,474.4h0.01M382.6,446.4h0.01M401.4,449.1h0.01M380.8,481.9h0.01M370.2,463.9h0.01M358.9,452.5h0.01M332.0,440.5h0.01M364.3,443.8h0.01M390.0,461.3h0.01M365.2,430.3h0.01M372.1,482.8h0.01M385.7,454.0h0.01M383.1,464.2h0.01M336.7,467.5h0.01M357.0,453.1h0.01M364.2,459.8h0.01M397.5,454.0h0.01M379.8,477.2h0.01M386.7,444.4h0.01M394.5,449.8h0.01M369.9,462.8h0.01M410.8,440.4h0.01M367.2,461.6h0.01M356.7,460.9h0.01M377.0,443.6h0.01M423.0,470.9h0.01M390.1,456.0h0.01M352.8,460.0h0.01M384.5,459.1h0.01M417.2,474.6h0.01M355.8,450.6h0.01M383.1,433.6h0.01M372.0,445.6h0.01M380.5,461.4h0.01M362.1,485.1h0.01M363.2,472.7h0.01M352.7,438.8h0.01M362.3,450.2h0.01M414.4,433.8h0.01M410.6,462.8h0.01M365.4,476.2h0.01M365.8,458.7h0.01M354.3,498.6h0.01M370.3,444.1h0.01M365.5,484.8h0.01M372.1,442.6h0.01" stroke="#555" stroke-width="0.9" stroke-linecap="round"/>
<path d="M361.8,494.0 361.1,494.1 360.4,494.1 359.6,494.1 358.9,494.1 358.2,494.2 357.6,494.2 356.9,494.2 356.1,494.2 355.4,494.2 354.8,494.2 354.1,494.2 353.4,494.2 352.6,494.2 351.9,494.2 351.2,494.2 350.6,494.2 349.9,494.2 349.1,494.2 348.4,494.2 347.8,494.2 347.1,494.2 346.4,494.2 345.6,494.2 344.9,494.2 344.2,494.2 343.6,494.2 342.9,494.2 342.1,494.2 341.4,494.1 341.1,494.0 340.4,493.8 339.9,493.6 339.4,493.4 339.0,493.2 338.5,492.9 338.0,492.6 337.6,492.3 337.2,491.9 336.9,491.6 336.7,491.2 336.5,490.9 336.2,490.3 336.0,489.8 335.9,489.1 335.8,488.8 335.8,488.1 335.9,487.7 335.9,487.0 336.1,486.3 336.2,485.9 336.4,485.2 336.6,484.9 336.9,484.3 337.2,483.9 337.4,483.5 337.7,483.1 338.0,482.8 338.3,482.4 338.7,482.1 339.2,481.8 339.7,481.4 340.1,481.2 340.4,481.1 341.1,480.8 341.5,480.7 342.1,480.6 342.9,480.5 343.6,480.5 344.2,480.5 344.9,480.5 345.6,480.5 346.4,480.5 347.1,480.5 347.8,480.5 348.4,480.5 349.1,480.5 349.9,480.5 350.6,480.5 351.2,480.5 351.9,480.5 352.6,480.5 353.4,480.5 354.1,480.5 354.8,480.5 355.4,480.5 356.1,480.5 356.9,480.5 357.6,480.6 358.2,480.6 358.9,480.6 359.6,480.6 360.4,480.7 360.7,480.7 361.4,480.7 362.1,480.8 362.8,480.9 363.5,480.9 364.2,481.0 364.7,481.1 365.2,481.1 365.9,481.2 366.6,481.3 367.3,481.4 367.7,481.5 368.4,481.6 369.1,481.7 369.4,481.8 370.1,481.9 370.9,482.0 371.2,482.1 371.9,482.3 372.6,482.4 372.9,482.5 373.6,482.7 374.0,482.8 374.7,483.0 375.1,483.2 375.8,483.4 376.1,483.5 376.8,483.8 377.1,483.9 377.8,484.2 378.2,484.4 378.6,484.6 379.1,484.9 379.6,485.2 379.9,485.4 380.3,485.7 380.6,486.0 381.0,486.3 381.4,486.8 381.7,487.3 381.9,487.7 382.0,488.4 381.9,489.1 381.6,489.4 381.3,489.8 380.9,490.1 380.3,490.5 379.9,490.7 379.6,490.9 378.9,491.2 378.6,491.3 377.9,491.5 377.5,491.7 376.8,491.9 376.4,492.0 375.8,492.1 375.3,492.2 374.7,492.4 374.0,492.6 373.6,492.6 372.9,492.8 372.2,492.9 371.9,492.9 371.2,493.1 370.5,493.2 369.8,493.3 369.4,493.3 368.8,493.4 368.1,493.5 367.4,493.6 366.6,493.6 366.3,493.7 365.6,493.7 364.9,493.8 364.2,493.9 363.5,493.9 362.8,494.0 362.1,494.0 361.8,494.0Z M356.9,488.8 356.1,489.0 355.4,489.0 354.8,489.0 354.1,489.0 353.4,489.0 352.6,489.0 351.9,489.0 351.2,489.0 350.6,489.0 349.9,489.0 349.1,489.0 348.4,489.0 347.8,489.0 347.1,489.0 346.4,489.0 345.6,489.0 344.9,489.0 344.2,489.0 343.6,489.0 342.9,489.0 342.4,488.8 342.5,488.1 342.9,487.8 343.6,487.8 344.2,487.8 344.9,487.8 345.6,487.8 346.4,487.8 347.1,487.8 347.8,487.8 348.4,487.8 349.1,487.8 349.9,487.8 350.6,487.8 351.2,487.8 351.9,487.8 352.6,487.8 353.4,487.8 354.1,487.8 354.8,487.8 355.4,487.8 356.1,487.9 356.9,488.0 357.2,488.2 357.2,488.7 356.9,488.8Z" fill="#111" fill-opacity="0.65" fill-rule="evenodd"/>
<path d="M358.2,498.2 357.6,498.2 356.9,498.2 356.1,498.2 355.4,498.2 354.8,498.2 354.1,498.2 353.4,498.2 352.6,498.2 351.9,498.2 351.2,498.2 350.6,498.2 349.9,498.2 349.1,498.2 348.4,498.2 347.8,498.2 347.1,498.2 346.4,498.2 345.6,498.2 344.9,498.2 344.2,498.2 343.6,498.2 342.9,498.2 342.1,498.2 341.8,498.2 341.1,498.1 340.4,498.0 339.7,497.9 339.4,497.8 338.6,497.6 338.3,497.5 337.6,497.2 337.2,497.1 336.6,496.8 336.2,496.6 335.9,496.4 335.3,496.1 334.8,495.8 334.4,495.5 334.1,495.2 333.8,494.9 333.4,494.6 333.1,494.2 332.7,493.8 332.4,493.3 332.1,492.9 331.9,492.6 331.6,492.2 331.4,491.6 331.2,491.2 331.0,490.5 330.9,490.1 330.8,489.4 330.7,488.8 330.7,488.1 330.8,487.4 330.9,486.6 330.9,486.0 331.0,485.6 331.2,484.9 331.3,484.4 331.5,483.9 331.6,483.4 331.9,482.8 332.0,482.4 332.4,481.8 332.5,481.4 332.7,481.1 333.1,480.5 333.4,480.0 333.7,479.6 334.0,479.3 334.3,478.9 334.6,478.6 334.9,478.2 335.3,477.9 335.7,477.6 336.2,477.2 336.6,476.9 336.9,476.7 337.2,476.5 337.8,476.1 338.3,475.9 338.6,475.8 339.4,475.5 339.7,475.4 340.4,475.2 340.8,475.1 341.4,475.0 342.1,474.9 342.9,474.9 343.6,474.9 344.2,474.9 344.9,474.9 345.6,474.9 346.4,474.9 347.1,474.9 347.8,474.9 348.4,474.9 349.1,474.9 349.9,474.9 350.6,474.9 351.2,474.9 351.9,474.9 352.6,474.9 353.4,474.9 354.1,474.9 354.8,474.9 355.4,474.9 356.1,474.9 356.9,474.9 357.6,474.9 358.2,474.9 358.9,474.9 359.6,474.9 360.4,475.0 361.1,475.0 361.8,475.0 362.4,475.1 363.1,475.1 363.5,475.1 364.2,475.2 364.9,475.2 365.6,475.2 366.3,475.3 367.0,475.3 367.7,475.4 368.2,475.4 368.8,475.5 369.4,475.6 370.1,475.6 370.9,475.7 371.6,475.8 371.9,475.8 372.6,475.9 373.3,476.0 374.0,476.1 374.4,476.1 375.1,476.2 375.8,476.3 376.4,476.4 376.8,476.5 377.5,476.6 378.2,476.7 378.9,476.9 379.2,476.9 379.9,477.0 380.6,477.2 381.0,477.3 381.7,477.4 382.4,477.5 382.8,477.6 383.4,477.8 384.0,477.9 384.5,478.0 385.2,478.2 385.6,478.3 386.2,478.5 386.7,478.6 387.3,478.8 387.9,478.9 388.4,479.1 389.0,479.3 389.4,479.4 390.0,479.6 390.4,479.8 391.0,480.0 391.5,480.2 391.9,480.4 392.6,480.6 392.9,480.7 393.6,481.0 393.9,481.2 394.3,481.4 395.0,481.7 395.4,481.9 395.7,482.1 396.3,482.4 396.8,482.7 397.1,482.9 397.4,483.2 397.9,483.5 398.3,483.9 398.8,484.2 399.1,484.6 399.5,484.9 399.8,485.2 400.1,485.6 400.3,485.9 400.6,486.5 400.8,487.0 400.9,487.4 401.1,488.1 401.1,488.8 400.9,489.3 400.7,489.8 400.4,490.1 400.1,490.5 399.7,490.9 399.3,491.2 398.9,491.5 398.5,491.7 398.1,491.9 397.5,492.2 397.1,492.5 396.8,492.6 396.1,492.9 395.7,493.1 395.1,493.3 394.6,493.5 394.1,493.6 393.6,493.8 393.0,494.0 392.6,494.1 391.9,494.3 391.5,494.4 390.8,494.6 390.4,494.7 389.8,494.9 389.1,495.1 388.7,495.1 388.0,495.3 387.5,495.4 386.9,495.5 386.2,495.7 385.7,495.8 385.2,495.9 384.5,496.0 383.8,496.1 383.4,496.2 382.8,496.3 382.1,496.4 381.6,496.4 381.0,496.5 380.3,496.6 379.6,496.7 379.1,496.8 378.6,496.9 377.9,497.0 377.1,497.0 376.4,497.1 376.1,497.1 375.4,497.2 374.7,497.3 374.0,497.4 373.3,497.4 372.6,497.5 372.2,497.5 371.6,497.6 370.9,497.6 370.1,497.7 369.4,497.7 368.8,497.8 368.1,497.8 367.7,497.9 367.0,497.9 366.3,497.9 365.6,498.0 364.9,498.0 364.2,498.0 363.5,498.1 362.8,498.1 362.1,498.1 361.4,498.1 360.7,498.2 360.0,498.2 359.3,498.2 358.6,498.2 358.2,498.2Z M358.9,497.2 358.2,497.2 357.6,497.2 356.9,497.2 356.1,497.2 355.4,497.2 354.8,497.2 354.1,497.2 353.4,497.2 352.6,497.2 351.9,497.2 351.2,497.2 350.6,497.2 349.9,497.2 349.1,497.2 348.4,497.2 347.8,497.2 347.1,497.2 346.4,497.2 345.6,497.2 344.9,497.2 344.2,497.2 343.6,497.2 342.9,497.2 342.1,497.2 341.8,497.1 341.1,497.1 340.4,496.9 339.8,496.8 339.4,496.7 338.6,496.5 338.3,496.4 337.7,496.1 337.2,495.9 336.9,495.7 336.3,495.4 335.9,495.1 335.5,494.8 335.1,494.6 334.8,494.3 334.4,493.9 334.1,493.6 333.8,493.2 333.4,492.7 333.1,492.2 332.9,491.9 332.7,491.5 332.5,490.9 332.3,490.5 332.2,489.8 332.1,489.1 332.0,488.4 332.1,487.7 332.1,487.0 332.2,486.3 332.4,485.7 332.4,485.2 332.6,484.6 332.8,484.2 333.0,483.5 333.2,483.1 333.4,482.6 333.7,482.1 333.9,481.8 334.1,481.4 334.4,480.9 334.8,480.4 335.1,480.0 335.5,479.6 335.8,479.3 336.2,479.0 336.6,478.7 336.9,478.4 337.2,478.1 337.6,477.9 338.2,477.6 338.6,477.3 339.0,477.2 339.7,476.9 340.1,476.8 340.8,476.6 341.2,476.5 341.8,476.4 342.5,476.3 343.2,476.3 343.9,476.3 344.6,476.3 345.3,476.3 346.0,476.3 346.7,476.3 347.4,476.3 348.1,476.3 348.8,476.3 349.5,476.3 350.2,476.3 350.9,476.3 351.6,476.3 352.3,476.3 353.0,476.3 353.7,476.3 354.4,476.3 355.1,476.3 355.8,476.3 356.5,476.3 357.2,476.3 357.9,476.4 358.6,476.4 359.3,476.4 360.0,476.4 360.7,476.4 361.4,476.5 361.8,476.5 362.4,476.5 363.1,476.6 363.9,476.6 364.6,476.7 365.2,476.7 365.9,476.8 366.6,476.8 367.0,476.9 367.7,476.9 368.4,477.0 369.1,477.1 369.8,477.1 370.3,477.2 370.9,477.3 371.6,477.4 372.2,477.4 372.9,477.5 373.3,477.6 374.0,477.7 374.7,477.8 375.2,477.9 375.8,478.0 376.4,478.1 377.1,478.2 377.5,478.3 378.2,478.4 378.9,478.6 379.2,478.7 379.9,478.8 380.5,478.9 381.0,479.1 381.7,479.2 382.1,479.3 382.8,479.5 383.3,479.6 383.8,479.8 384.5,480.0 384.9,480.1 385.6,480.3 385.9,480.5 386.6,480.7 386.9,480.8 387.6,481.1 388.0,481.2 388.5,481.4 389.1,481.6 389.4,481.8 390.0,482.1 390.4,482.3 390.8,482.5 391.4,482.8 391.9,483.1 392.2,483.3 392.6,483.5 393.1,483.9 393.5,484.2 393.9,484.5 394.3,484.9 394.6,485.2 395.0,485.6 395.3,485.9 395.5,486.3 395.7,486.6 396.0,487.4 396.1,487.7 396.2,488.4 396.1,489.1 396.0,489.4 395.7,489.8 395.4,490.2 395.0,490.6 394.6,490.9 394.2,491.2 393.6,491.5 393.2,491.7 392.9,491.9 392.2,492.2 391.9,492.4 391.3,492.6 390.8,492.8 390.4,492.9 389.8,493.2 389.3,493.3 388.7,493.5 388.2,493.6 387.6,493.8 386.9,494.0 386.6,494.1 385.9,494.3 385.5,494.4 384.9,494.5 384.1,494.6 383.8,494.7 383.1,494.9 382.4,495.0 382.1,495.1 381.4,495.2 380.6,495.3 380.0,495.4 379.6,495.5 378.9,495.6 378.2,495.7 377.7,495.8 377.1,495.8 376.4,495.9 375.8,496.0 375.1,496.1 374.7,496.1 374.0,496.2 373.3,496.3 372.6,496.4 371.9,496.4 371.6,496.5 370.9,496.5 370.1,496.6 369.4,496.6 368.8,496.7 368.1,496.7 367.4,496.8 367.0,496.8 366.3,496.9 365.6,496.9 364.9,496.9 364.2,497.0 363.5,497.0 362.8,497.0 362.1,497.1 361.4,497.1 360.7,497.1 360.0,497.1 359.3,497.1 358.9,497.2Z M359.3,496.1 358.6,496.1 357.9,496.1 357.2,496.1 356.5,496.2 355.8,496.2 355.1,496.2 354.4,496.2 353.7,496.2 353.0,496.2 352.3,496.2 351.6,496.2 350.9,496.2 350.2,496.2 349.5,496.2 348.8,496.2 348.1,496.2 347.4,496.2 346.7,496.2 346.0,496.2 345.3,496.2 344.6,496.2 343.9,496.2 343.2,496.2 342.5,496.1 341.9,496.1 341.4,496.1 340.8,496.0 340.1,495.8 339.7,495.7 339.0,495.5 338.6,495.3 338.0,495.1 337.6,494.8 337.2,494.6 336.8,494.4 336.3,494.0 335.9,493.6 335.5,493.3 335.2,492.9 334.9,492.6 334.6,492.2 334.4,491.9 334.1,491.4 333.8,490.9 333.7,490.5 333.5,489.8 333.4,489.2 333.4,488.8 333.4,488.1 333.4,487.5 333.4,487.0 333.6,486.3 333.7,485.6 333.8,485.2 334.0,484.6 334.2,484.2 334.4,483.5 334.6,483.1 334.8,482.8 335.1,482.3 335.5,481.8 335.8,481.4 336.1,481.1 336.4,480.7 336.7,480.4 337.1,480.0 337.6,479.6 337.9,479.4 338.3,479.1 338.6,478.9 339.3,478.6 339.7,478.4 340.2,478.2 340.8,478.1 341.4,477.9 341.8,477.9 342.5,477.8 343.2,477.8 343.9,477.8 344.6,477.8 345.3,477.8 346.0,477.8 346.7,477.8 347.4,477.8 348.1,477.8 348.8,477.8 349.5,477.8 350.2,477.8 350.9,477.8 351.6,477.8 352.3,477.8 353.0,477.8 353.7,477.8 354.4,477.8 355.1,477.8 355.8,477.8 356.5,477.8 357.2,477.8 357.9,477.8 358.6,477.8 359.3,477.9 360.0,477.9 360.4,477.9 361.1,477.9 361.8,478.0 362.4,478.0 363.1,478.1 363.9,478.1 364.6,478.2 365.2,478.2 365.6,478.3 366.3,478.3 367.0,478.4 367.7,478.5 368.4,478.5 368.9,478.6 369.4,478.7 370.1,478.8 370.9,478.9 371.5,478.9 371.9,479.0 372.6,479.1 373.3,479.2 373.6,479.3 374.4,479.4 375.1,479.6 375.5,479.6 376.1,479.8 376.8,479.9 377.1,480.0 377.9,480.2 378.6,480.3 378.9,480.4 379.6,480.6 379.9,480.7 380.6,480.9 381.1,481.1 381.7,481.2 382.2,481.4 382.8,481.6 383.2,481.8 383.8,482.0 384.1,482.1 384.9,482.4 385.2,482.6 385.7,482.8 386.2,483.1 386.6,483.2 387.1,483.5 387.6,483.8 388.0,484.0 388.4,484.3 388.7,484.6 389.2,484.9 389.6,485.2 389.9,485.6 390.2,485.9 390.5,486.3 390.8,486.8 391.1,487.4 391.2,487.7 391.3,488.4 391.2,489.1 391.0,489.4 390.8,489.8 390.4,490.1 390.0,490.5 389.5,490.9 389.1,491.1 388.7,491.3 388.3,491.6 387.6,491.8 387.3,492.0 386.6,492.2 386.2,492.4 385.6,492.6 385.2,492.7 384.5,492.9 384.1,493.1 383.4,493.3 383.1,493.3 382.4,493.5 381.8,493.6 381.4,493.8 380.6,493.9 380.2,494.0 379.6,494.1 378.9,494.3 378.4,494.4 377.9,494.4 377.1,494.6 376.4,494.7 376.1,494.7 375.4,494.8 374.7,494.9 374.0,495.0 373.6,495.1 372.9,495.2 372.2,495.2 371.6,495.3 370.9,495.4 370.5,495.4 369.8,495.5 369.1,495.6 368.4,495.6 367.7,495.7 367.0,495.7 366.6,495.8 365.9,495.8 365.2,495.8 364.6,495.9 363.9,495.9 363.1,496.0 362.4,496.0 361.8,496.0 361.1,496.1 360.4,496.1 359.6,496.1 359.3,496.1Z M359.3,495.1 358.6,495.1 357.9,495.1 357.2,495.1 356.5,495.1 355.8,495.1 355.1,495.1 354.4,495.1 353.7,495.1 353.0,495.1 352.3,495.1 351.6,495.1 350.9,495.1 350.2,495.1 349.5,495.1 348.8,495.1 348.1,495.1 347.4,495.1 346.7,495.1 346.0,495.1 345.3,495.1 344.6,495.1 343.9,495.1 343.2,495.1 342.5,495.1 341.8,495.1 341.4,495.0 340.8,494.9 340.1,494.7 339.7,494.6 339.1,494.4 338.6,494.2 338.3,494.0 337.8,493.6 337.3,493.3 336.9,493.0 336.6,492.7 336.2,492.3 335.9,491.9 335.6,491.6 335.4,491.2 335.1,490.7 334.9,490.1 334.8,489.7 334.7,489.1 334.7,488.4 334.7,487.7 334.8,487.0 334.8,486.6 335.0,485.9 335.1,485.4 335.3,484.9 335.5,484.5 335.8,483.9 336.0,483.5 336.2,483.1 336.6,482.6 336.9,482.2 337.2,481.8 337.6,481.4 337.9,481.1 338.3,480.8 338.6,480.6 339.0,480.4 339.7,480.0 340.1,479.8 340.5,479.6 341.1,479.5 341.8,479.3 342.1,479.3 342.9,479.2 343.6,479.2 344.2,479.2 344.9,479.2 345.6,479.2 346.4,479.2 347.1,479.2 347.8,479.2 348.4,479.2 349.1,479.2 349.9,479.2 350.6,479.2 351.2,479.2 351.9,479.2 352.6,479.2 353.4,479.2 354.1,479.2 354.8,479.2 355.4,479.2 356.1,479.2 356.9,479.2 357.6,479.3 358.2,479.3 358.7,479.3 359.3,479.3 360.0,479.4 360.7,479.4 361.4,479.4 362.1,479.5 362.8,479.5 363.5,479.6 364.2,479.6 364.6,479.7 365.2,479.7 365.9,479.8 366.6,479.9 367.4,480.0 367.7,480.0 368.4,480.1 369.1,480.2 369.8,480.3 370.1,480.4 370.9,480.5 371.6,480.6 371.9,480.7 372.6,480.8 373.3,481.0 373.6,481.1 374.4,481.2 375.1,481.4 375.4,481.5 376.1,481.6 376.5,481.8 377.1,481.9 377.7,482.1 378.2,482.3 378.8,482.4 379.2,482.6 379.7,482.8 380.3,483.0 380.6,483.2 381.4,483.5 381.7,483.6 382.1,483.9 382.8,484.2 383.1,484.4 383.4,484.6 383.9,484.9 384.4,485.2 384.8,485.6 385.2,485.9 385.5,486.3 385.7,486.6 386.0,487.0 386.2,487.7 386.3,488.1 386.3,488.8 386.2,489.1 385.9,489.6 385.6,490.0 385.2,490.3 384.9,490.5 384.3,490.9 383.8,491.1 383.4,491.3 382.8,491.6 382.4,491.7 381.9,491.9 381.4,492.1 380.8,492.2 380.3,492.4 379.6,492.6 379.2,492.7 378.6,492.9 378.2,493.0 377.5,493.1 376.8,493.3 376.4,493.3 375.8,493.5 375.1,493.6 374.7,493.6 374.0,493.8 373.3,493.9 372.6,494.0 372.2,494.0 371.6,494.1 370.9,494.2 370.1,494.3 369.7,494.4 369.1,494.4 368.4,494.5 367.7,494.6 367.0,494.6 366.3,494.7 365.9,494.7 365.2,494.8 364.6,494.8 363.9,494.9 363.1,494.9 362.4,494.9 361.8,495.0 361.1,495.0 360.4,495.0 359.6,495.0 359.3,495.1Z M359.3,494.0 358.6,494.0 357.9,494.1 357.2,494.1 356.5,494.1 355.8,494.1 355.1,494.1 354.4,494.1 353.7,494.1 353.0,494.1 352.3,494.1 351.6,494.1 350.9,494.1 350.2,494.1 349.5,494.1 348.8,494.1 348.1,494.1 347.4,494.1 346.7,494.1 346.0,494.1 345.3,494.1 344.6,494.1 343.9,494.1 343.2,494.1 342.5,494.1 341.8,494.0 341.4,493.9 340.8,493.8 340.3,493.6 339.7,493.4 339.4,493.3 338.8,492.9 338.3,492.7 337.9,492.4 337.6,492.1 337.2,491.7 336.9,491.3 336.6,490.9 336.4,490.5 336.2,489.9 336.1,489.4 336.0,488.8 336.0,488.1 336.0,487.4 336.2,486.6 336.3,486.3 336.5,485.6 336.6,485.2 336.9,484.6 337.1,484.2 337.3,483.9 337.6,483.5 337.9,483.1 338.3,482.7 338.6,482.4 339.0,482.1 339.5,481.8 340.1,481.4 340.4,481.2 340.9,481.1 341.4,480.9 342.1,480.7 342.6,480.7 343.2,480.7 343.9,480.7 344.6,480.7 345.3,480.7 346.0,480.7 346.7,480.7 347.4,480.7 348.1,480.7 348.8,480.7 349.5,480.7 350.2,480.7 350.9,480.7 351.6,480.7 352.3,480.7 353.0,480.7 353.7,480.7 354.4,480.7 355.1,480.7 355.8,480.7 356.5,480.7 356.9,480.7 357.6,480.7 358.2,480.7 358.9,480.8 359.6,480.8 360.4,480.8 361.1,480.9 361.8,480.9 362.4,481.0 363.0,481.1 363.5,481.1 364.2,481.2 364.9,481.3 365.6,481.3 366.0,481.4 366.6,481.5 367.4,481.6 368.1,481.7 368.4,481.8 369.1,481.9 369.8,482.0 370.2,482.1 370.9,482.2 371.6,482.4 371.9,482.5 372.6,482.7 373.1,482.8 373.6,483.0 374.3,483.1 374.7,483.3 375.3,483.5 375.8,483.7 376.3,483.9 376.8,484.1 377.1,484.2 377.8,484.6 378.2,484.7 378.6,484.9 379.1,485.2 379.6,485.6 379.9,485.9 380.3,486.2 380.6,486.6 381.0,487.0 381.2,487.4 381.4,487.8 381.5,488.4 381.4,489.0 381.1,489.4 380.7,489.8 380.3,490.1 379.9,490.3 379.6,490.6 379.0,490.9 378.6,491.0 378.2,491.2 377.5,491.4 377.1,491.6 376.4,491.8 376.0,491.9 375.4,492.1 374.7,492.2 374.4,492.3 373.6,492.5 372.9,492.6 372.6,492.7 371.9,492.8 371.2,492.9 370.9,493.0 370.1,493.1 369.4,493.2 368.8,493.3 368.4,493.3 367.7,493.4 367.0,493.5 366.3,493.6 365.6,493.6 365.2,493.6 364.6,493.7 363.9,493.8 363.1,493.8 362.4,493.9 361.8,493.9 361.1,493.9 360.4,494.0 359.6,494.0 359.3,494.0Z M359.3,493.0 358.6,493.0 357.9,493.0 357.2,493.0 356.5,493.0 355.8,493.0 355.1,493.0 354.4,493.0 353.7,493.0 353.0,493.0 352.3,493.0 351.6,493.0 350.9,493.0 350.2,493.0 349.5,493.0 348.8,493.0 348.1,493.0 347.4,493.0 346.7,493.0 346.0,493.0 345.3,493.0 344.6,493.0 343.9,493.0 343.2,493.0 342.5,493.0 341.8,492.9 341.4,492.9 340.8,492.7 340.4,492.6 339.8,492.2 339.4,492.0 339.0,491.8 338.6,491.5 338.3,491.1 337.9,490.6 337.7,490.1 337.5,489.8 337.3,489.1 337.3,488.4 337.3,487.7 337.4,487.0 337.6,486.4 337.7,485.9 337.9,485.5 338.3,484.9 338.5,484.6 338.8,484.2 339.1,483.9 339.5,483.5 339.9,483.1 340.4,482.8 340.8,482.6 341.2,482.4 341.8,482.3 342.5,482.2 343.2,482.1 343.9,482.1 344.6,482.1 345.3,482.1 346.0,482.1 346.7,482.1 347.4,482.1 348.1,482.1 348.8,482.1 349.5,482.1 350.2,482.1 350.9,482.1 351.6,482.1 352.3,482.1 353.0,482.1 353.7,482.1 354.4,482.1 355.1,482.1 355.8,482.1 356.5,482.2 357.2,482.2 357.9,482.2 358.6,482.2 359.3,482.3 360.0,482.3 360.7,482.4 361.4,482.4 361.8,482.5 362.4,482.5 363.1,482.6 363.9,482.7 364.6,482.8 364.9,482.8 365.6,483.0 366.3,483.1 366.7,483.1 367.4,483.3 368.1,483.4 368.4,483.5 369.1,483.7 369.7,483.9 370.1,484.0 370.9,484.2 371.2,484.3 371.9,484.6 372.2,484.7 372.8,484.9 373.3,485.1 373.6,485.3 374.2,485.6 374.7,485.9 375.1,486.2 375.4,486.5 375.8,486.8 376.1,487.2 376.4,487.7 376.5,488.1 376.5,488.8 376.4,489.1 376.1,489.4 375.6,489.8 375.1,490.1 374.7,490.3 374.3,490.5 373.6,490.8 373.3,490.9 372.6,491.1 372.2,491.2 371.6,491.4 371.0,491.6 370.5,491.7 369.8,491.8 369.3,491.9 368.8,492.0 368.1,492.1 367.4,492.2 367.0,492.3 366.3,492.4 365.6,492.5 364.9,492.5 364.3,492.6 363.9,492.6 363.1,492.7 362.4,492.8 361.8,492.8 361.1,492.9 360.4,492.9 359.6,492.9 359.3,493.0Z M358.9,491.9 358.2,491.9 357.6,492.0 356.9,492.0 356.1,492.0 355.4,492.0 354.8,492.0 354.1,492.0 353.4,492.0 352.6,492.0 351.9,492.0 351.2,492.0 350.6,492.0 349.9,492.0 349.1,492.0 348.4,492.0 347.8,492.0 347.1,492.0 346.4,492.0 345.6,492.0 344.9,492.0 344.2,492.0 343.6,492.0 342.9,492.0 342.1,491.9 341.8,491.9 341.1,491.7 340.8,491.5 340.2,491.2 339.7,490.9 339.4,490.5 339.1,490.1 338.9,489.8 338.6,489.1 338.6,488.8 338.6,488.1 338.6,487.6 338.8,487.0 339.0,486.4 339.2,485.9 339.4,485.6 339.7,485.2 340.1,484.8 340.4,484.5 340.9,484.2 341.4,483.9 341.8,483.8 342.5,483.6 343.2,483.6 343.9,483.6 344.6,483.6 345.3,483.6 346.0,483.6 346.7,483.6 347.4,483.6 348.1,483.6 348.8,483.6 349.5,483.6 350.2,483.6 350.9,483.6 351.6,483.6 352.3,483.6 353.0,483.6 353.7,483.6 354.4,483.6 355.1,483.6 355.8,483.6 356.5,483.6 357.2,483.6 357.9,483.7 358.6,483.7 359.3,483.8 360.0,483.8 360.4,483.9 361.1,483.9 361.8,484.0 362.4,484.1 363.0,484.2 363.5,484.3 364.2,484.4 364.9,484.6 365.2,484.6 365.9,484.8 366.3,484.9 367.0,485.1 367.5,485.2 368.1,485.5 368.4,485.6 369.1,485.9 369.4,486.1 369.9,486.3 370.4,486.6 370.8,487.0 371.2,487.4 371.4,487.7 371.6,488.1 371.6,488.8 371.4,489.1 371.0,489.4 370.5,489.8 370.1,489.9 369.7,490.1 369.1,490.4 368.7,490.5 368.1,490.7 367.4,490.8 367.0,490.9 366.3,491.1 365.6,491.2 365.2,491.3 364.6,491.4 363.9,491.5 363.2,491.6 362.8,491.6 362.1,491.7 361.4,491.7 360.7,491.8 360.0,491.8 359.3,491.9 358.9,491.9Z M358.6,490.9 357.9,490.9 357.2,490.9 356.5,491.0 355.8,491.0 355.1,491.0 354.4,491.0 353.7,491.0 353.0,491.0 352.3,491.0 351.6,491.0 350.9,491.0 350.2,491.0 349.5,491.0 348.8,491.0 348.1,491.0 347.4,491.0 346.7,491.0 346.0,491.0 345.3,491.0 344.6,491.0 343.9,491.0 343.2,491.0 342.5,490.9 342.1,490.9 341.4,490.6 341.1,490.5 340.7,490.1 340.4,489.8 340.1,489.3 339.9,488.8 339.9,488.1 340.1,487.4 340.2,487.0 340.4,486.6 340.8,486.1 341.1,485.8 341.4,485.5 341.9,485.2 342.5,485.1 343.2,485.0 343.9,485.0 344.6,485.0 345.3,485.0 346.0,485.0 346.7,485.0 347.4,485.0 348.1,485.0 348.8,485.0 349.5,485.0 350.2,485.0 350.9,485.0 351.6,485.0 352.3,485.0 353.0,485.0 353.7,485.0 354.4,485.0 355.1,485.0 355.8,485.0 356.5,485.1 357.2,485.1 357.9,485.1 358.6,485.2 359.0,485.2 359.6,485.3 360.4,485.4 361.1,485.5 361.4,485.6 362.1,485.7 362.8,485.9 363.1,486.0 363.9,486.2 364.2,486.4 364.9,486.6 365.2,486.8 365.6,487.0 366.0,487.4 366.4,487.7 366.6,488.2 366.6,488.7 366.4,489.1 365.9,489.4 365.6,489.5 365.0,489.8 364.6,489.9 363.9,490.1 363.5,490.2 362.8,490.3 362.1,490.5 361.8,490.5 361.1,490.6 360.4,490.7 359.6,490.8 358.9,490.8 358.6,490.9Z M357.6,489.8 356.9,489.9 356.1,489.9 355.4,489.9 354.8,489.9 354.1,489.9 353.4,489.9 352.6,489.9 351.9,489.9 351.2,489.9 350.6,489.9 349.9,489.9 349.1,489.9 348.4,489.9 347.8,489.9 347.1,489.9 346.4,489.9 345.6,489.9 344.9,489.9 344.2,489.9 343.6,489.9 342.9,489.9 342.3,489.8 341.8,489.6 341.4,489.2 341.2,488.8 341.2,488.1 341.4,487.5 341.8,487.0 342.1,486.7 342.5,486.6 343.2,486.5 343.9,486.5 344.6,486.5 345.3,486.5 346.0,486.5 346.7,486.5 347.4,486.5 348.1,486.5 348.8,486.5 349.5,486.5 350.2,486.5 350.9,486.5 351.6,486.5 352.3,486.5 353.0,486.5 353.7,486.5 354.4,486.5 355.1,486.5 355.8,486.5 356.5,486.5 357.2,486.6 357.6,486.6 358.2,486.7 358.9,486.9 359.5,487.0 360.0,487.1 360.6,487.4 361.1,487.6 361.4,487.8 361.8,488.3 361.8,488.5 361.4,489.0 361.1,489.1 360.4,489.4 360.0,489.5 359.3,489.6 358.6,489.7 357.9,489.8 357.6,489.8Z M356.1,488.8 355.4,488.9 354.8,488.9 354.1,488.9 353.4,488.9 352.6,488.9 351.9,488.9 351.2,488.9 350.6,488.9 349.9,488.9 349.1,488.9 348.4,488.9 347.8,488.9 347.1,488.9 346.4,488.9 345.6,488.9 344.9,488.9 344.2,488.9 343.6,488.9 342.9,488.9 342.5,488.4 342.9,488.0 343.6,487.9 344.2,487.9 344.9,487.9 345.6,487.9 346.4,487.9 347.1,487.9 347.8,487.9 348.4,487.9 349.1,487.9 349.9,487.9 350.6,487.9 351.2,487.9 351.9,487.9 352.6,487.9 353.4,487.9 354.1,487.9 354.8,487.9 355.4,488.0 356.1,488.1 356.5,488.2 356.5,488.7 356.1,488.8Z" fill="none" stroke="#1a1a1a" stroke-width="0.55" stroke-linejoin="round"/>
<path d="M366,410 C368,408 375,408 384,408.5 C389,409 390,413 389,417 C388,420 383,420.5 372,420 C366,419.5 364.5,417 364.5,414.5 C364.5,412 365,411 366,410 Z" fill="none" stroke="#333" stroke-width="0.7"/>
<text transform="translate(478.5,172.5) scale(1.06,1)" font-size="17.2" font-weight="bold" fill="#000" stroke="#000" style="stroke-width:0.6px">D</text>
<line x1="533.9" y1="327.1" x2="533.9" y2="196.70000000000002" stroke="#111" stroke-width="1.3" />
<line x1="533.3" y1="327.1" x2="621" y2="327.1" stroke="#111" stroke-width="1.3" />
<line x1="530.5" y1="327.1" x2="533.9" y2="327.1" stroke="#111" stroke-width="1.3" />
<text x="528.5" y="329.3" font-size="11" text-anchor="end" fill="#111" font-weight="normal" font-style="normal"  stroke="#111">0</text>
<line x1="530.5" y1="283.83333333333337" x2="533.9" y2="283.83333333333337" stroke="#111" stroke-width="1.3" />
<text x="529.6999999999999" y="287.73333333333335" font-size="11" text-anchor="end" fill="#111" font-weight="normal" font-style="normal"  stroke="#111">50</text>
<line x1="530.5" y1="240.56666666666666" x2="533.9" y2="240.56666666666666" stroke="#111" stroke-width="1.3" />
<text x="529.6999999999999" y="244.46666666666667" font-size="11" text-anchor="end" fill="#111" font-weight="normal" font-style="normal"  stroke="#111">100</text>
<line x1="530.5" y1="197.3" x2="533.9" y2="197.3" stroke="#111" stroke-width="1.3" />
<text x="529.6999999999999" y="201.20000000000002" font-size="11" text-anchor="end" fill="#111" font-weight="normal" font-style="normal"  stroke="#111">150</text>
<line x1="558.4" y1="327.1" x2="558.4" y2="330.70000000000005" stroke="#111" stroke-width="1.3" />
<line x1="595.8" y1="327.1" x2="595.8" y2="330.70000000000005" stroke="#111" stroke-width="1.3" />
<line x1="558.4" y1="221" x2="595.8" y2="203.2" stroke="#111" stroke-width="1.0" />
<line x1="558.4" y1="231.9" x2="595.8" y2="222" stroke="#111" stroke-width="1.0" />
<line x1="558.4" y1="234.4" x2="595.8" y2="226.8" stroke="#111" stroke-width="1.0" />
<line x1="558.4" y1="241.8" x2="595.8" y2="228.8" stroke="#111" stroke-width="1.0" />
<line x1="558.4" y1="246.3" x2="595.8" y2="230.9" stroke="#111" stroke-width="1.0" />
<line x1="558.4" y1="248.8" x2="595.8" y2="230.9" stroke="#111" stroke-width="1.0" />
<line x1="558.4" y1="260.3" x2="595.8" y2="249.4" stroke="#111" stroke-width="1.0" />
<line x1="558.4" y1="236" x2="595.8" y2="225" stroke="#111" stroke-width="1.0" />
<circle cx="558.4" cy="221.0" r="3.5" fill="#fff" stroke="#111" stroke-width="1.2"/>
<circle cx="558.4" cy="231.9" r="3.5" fill="#fff" stroke="#111" stroke-width="1.2"/>
<circle cx="558.4" cy="234.4" r="3.5" fill="#fff" stroke="#111" stroke-width="1.2"/>
<circle cx="558.4" cy="241.8" r="3.5" fill="#fff" stroke="#111" stroke-width="1.2"/>
<circle cx="558.4" cy="246.3" r="3.5" fill="#fff" stroke="#111" stroke-width="1.2"/>
<circle cx="558.4" cy="248.8" r="3.5" fill="#fff" stroke="#111" stroke-width="1.2"/>
<circle cx="558.4" cy="260.3" r="3.5" fill="#fff" stroke="#111" stroke-width="1.2"/>
<circle cx="595.8" cy="203.2" r="3.5" fill="#fff" stroke="#674b8e" stroke-width="1.2"/>
<circle cx="595.8" cy="222.0" r="3.5" fill="#fff" stroke="#674b8e" stroke-width="1.2"/>
<circle cx="595.8" cy="226.8" r="3.5" fill="#fff" stroke="#674b8e" stroke-width="1.2"/>
<circle cx="595.8" cy="228.8" r="3.5" fill="#fff" stroke="#674b8e" stroke-width="1.2"/>
<circle cx="595.8" cy="230.9" r="3.5" fill="#fff" stroke="#674b8e" stroke-width="1.2"/>
<circle cx="595.8" cy="249.4" r="3.5" fill="#fff" stroke="#674b8e" stroke-width="1.2"/>
<text x="559.4" y="341.9" font-size="11" text-anchor="middle" fill="#111" font-weight="normal" font-style="normal"  stroke="#111">WT</text>
<text x="596.8" y="341.9" font-size="11" text-anchor="middle" fill="#6c4fa6" font-style="italic" textLength="26.5" lengthAdjust="spacingAndGlyphs" stroke="#6c4fa6">Stat1<tspan font-size="6.1" dy="-4.2">-/-</tspan></text>
<text transform="translate(492,257.3) rotate(-90)" font-size="11" text-anchor="middle" fill="#111" stroke="#111">% Uptake <tspan fill="#cc2c20" stroke="#cc2c20">R1</tspan>+<tspan fill="#4a9be0" stroke="#4a9be0">R2</tspan></text>
<text transform="translate(505.6,258.6) rotate(-90)" font-size="11" text-anchor="middle" fill="#111" stroke="#111">(Normalized to WT)</text>
<text transform="translate(622.5,172.5) scale(1.06,1)" font-size="17.2" font-weight="bold" fill="#000" stroke="#000" style="stroke-width:0.6px">E</text>
<line x1="686.8" y1="326.8" x2="686.8" y2="196.70000000000002" stroke="#111" stroke-width="1.3" />
<line x1="686.1999999999999" y1="326.8" x2="773" y2="326.8" stroke="#111" stroke-width="1.3" />
<line x1="683.4" y1="326.8" x2="686.8" y2="326.8" stroke="#111" stroke-width="1.3" />
<text x="681.4" y="329.0" font-size="11" text-anchor="end" fill="#111" font-weight="normal" font-style="normal"  stroke="#111">0</text>
<line x1="683.4" y1="300.90000000000003" x2="686.8" y2="300.90000000000003" stroke="#111" stroke-width="1.3" />
<text x="682.5999999999999" y="304.8" font-size="11" text-anchor="end" fill="#111" font-weight="normal" font-style="normal"  stroke="#111">100</text>
<line x1="683.4" y1="275.0" x2="686.8" y2="275.0" stroke="#111" stroke-width="1.3" />
<text x="682.5999999999999" y="278.9" font-size="11" text-anchor="end" fill="#111" font-weight="normal" font-style="normal"  stroke="#111">200</text>
<line x1="683.4" y1="249.10000000000002" x2="686.8" y2="249.10000000000002" stroke="#111" stroke-width="1.3" />
<text x="682.5999999999999" y="253.00000000000003" font-size="11" text-anchor="end" fill="#111" font-weight="normal" font-style="normal"  stroke="#111">300</text>
<line x1="683.4" y1="223.20000000000002" x2="686.8" y2="223.20000000000002" stroke="#111" stroke-width="1.3" />
<text x="682.5999999999999" y="227.10000000000002" font-size="11" text-anchor="end" fill="#111" font-weight="normal" font-style="normal"  stroke="#111">400</text>
<line x1="683.4" y1="197.3" x2="686.8" y2="197.3" stroke="#111" stroke-width="1.3" />
<text x="682.5999999999999" y="201.20000000000002" font-size="11" text-anchor="end" fill="#111" font-weight="normal" font-style="normal"  stroke="#111">500</text>
<line x1="711.8" y1="326.8" x2="711.8" y2="330.40000000000003" stroke="#111" stroke-width="1.3" />
<line x1="748.4" y1="326.8" x2="748.4" y2="330.40000000000003" stroke="#111" stroke-width="1.3" />
<line x1="711.8" y1="291.8" x2="748.4" y2="207.7" stroke="#111" stroke-width="1.0" />
<line x1="711.8" y1="294.6" x2="748.4" y2="222" stroke="#111" stroke-width="1.0" />
<line x1="711.8" y1="297.5" x2="748.4" y2="259" stroke="#111" stroke-width="1.0" />
<line x1="711.8" y1="300.5" x2="748.4" y2="266.2" stroke="#111" stroke-width="1.0" />
<line x1="711.8" y1="303.5" x2="748.4" y2="271" stroke="#111" stroke-width="1.0" />
<line x1="711.8" y1="306.5" x2="748.4" y2="276" stroke="#111" stroke-width="1.0" />
<line x1="711.8" y1="309.5" x2="748.4" y2="292.5" stroke="#111" stroke-width="1.0" />
<circle cx="711.8" cy="291.8" r="3.5" fill="#fff" stroke="#111" stroke-width="1.2"/>
<circle cx="711.8" cy="294.6" r="3.5" fill="#fff" stroke="#111" stroke-width="1.2"/>
<circle cx="711.8" cy="297.5" r="3.5" fill="#fff" stroke="#111" stroke-width="1.2"/>
<circle cx="711.8" cy="300.5" r="3.5" fill="#fff" stroke="#111" stroke-width="1.2"/>
<circle cx="711.8" cy="303.5" r="3.5" fill="#fff" stroke="#111" stroke-width="1.2"/>
<circle cx="711.8" cy="306.5" r="3.5" fill="#fff" stroke="#111" stroke-width="1.2"/>
<circle cx="711.8" cy="309.5" r="3.5" fill="#fff" stroke="#111" stroke-width="1.2"/>
<circle cx="748.4" cy="207.7" r="3.5" fill="#fff" stroke="#674b8e" stroke-width="1.2"/>
<circle cx="748.4" cy="222.0" r="3.5" fill="#fff" stroke="#674b8e" stroke-width="1.2"/>
<circle cx="748.4" cy="259.0" r="3.5" fill="#fff" stroke="#674b8e" stroke-width="1.2"/>
<circle cx="748.4" cy="266.2" r="3.5" fill="#fff" stroke="#674b8e" stroke-width="1.2"/>
<circle cx="748.4" cy="271.0" r="3.5" fill="#fff" stroke="#674b8e" stroke-width="1.2"/>
<circle cx="748.4" cy="276.0" r="3.5" fill="#fff" stroke="#674b8e" stroke-width="1.2"/>
<circle cx="748.4" cy="292.5" r="3.5" fill="#fff" stroke="#674b8e" stroke-width="1.2"/>
<text x="713.3" y="340.8" font-size="11" text-anchor="middle" fill="#111" font-weight="normal" font-style="normal"  stroke="#111">WT</text>
<text x="749.4" y="340.8" font-size="11" text-anchor="middle" fill="#6c4fa6" font-style="italic" textLength="26.5" lengthAdjust="spacingAndGlyphs" stroke="#6c4fa6">Stat1<tspan font-size="6.1" dy="-4.2">-/-</tspan></text>
<text transform="translate(633,251.9) rotate(-90)" font-size="11" text-anchor="middle" fill="#111" stroke="#111">% Aspergillus Viability</text>
<text transform="translate(646,256.1) rotate(-90)" font-size="11" text-anchor="middle" fill="#111" stroke="#111"><tspan fill="#cc2c20" stroke="#cc2c20">R1</tspan>/(<tspan fill="#cc2c20" stroke="#cc2c20">R1</tspan>+<tspan fill="#4a9be0" stroke="#4a9be0">R2</tspan>)</text>
<text transform="translate(659,255.4) rotate(-90)" font-size="11" text-anchor="middle" fill="#111" stroke="#111">(Normalized to WT)</text>
<text x="730.0999999999999" y="185.7" font-size="11" text-anchor="middle" fill="#111" font-weight="normal" font-style="normal"  stroke="#111">0.0037</text>
<line x1="711.8" y1="192.3" x2="748.9" y2="192.3" stroke="#111" stroke-width="1.3" />
<text transform="translate(478.5,370) scale(1.06,1)" font-size="17.2" font-weight="bold" fill="#000" stroke="#000" style="stroke-width:0.6px">G</text>
<line x1="531.7" y1="524" x2="531.7" y2="390.29999999999995" stroke="#111" stroke-width="1.3" />
<line x1="531.1" y1="524" x2="611.5" y2="524" stroke="#111" stroke-width="1.3" />
<line x1="528.3000000000001" y1="524.0" x2="531.7" y2="524.0" stroke="#111" stroke-width="1.3" />
<text x="526.3000000000001" y="526.2" font-size="11" text-anchor="end" fill="#111" font-weight="normal" font-style="normal"  stroke="#111">0</text>
<line x1="528.3000000000001" y1="479.6333333333333" x2="531.7" y2="479.6333333333333" stroke="#111" stroke-width="1.3" />
<text x="527.5" y="483.5333333333333" font-size="11" text-anchor="end" fill="#111" font-weight="normal" font-style="normal"  stroke="#111">50</text>
<line x1="528.3000000000001" y1="435.26666666666665" x2="531.7" y2="435.26666666666665" stroke="#111" stroke-width="1.3" />
<text x="527.5" y="439.16666666666663" font-size="11" text-anchor="end" fill="#111" font-weight="normal" font-style="normal"  stroke="#111">100</text>
<line x1="528.3000000000001" y1="390.9" x2="531.7" y2="390.9" stroke="#111" stroke-width="1.3" />
<text x="527.5" y="394.79999999999995" font-size="11" text-anchor="end" fill="#111" font-weight="normal" font-style="normal"  stroke="#111">150</text>
<line x1="557" y1="524" x2="557" y2="527.6" stroke="#111" stroke-width="1.3" />
<line x1="594.6" y1="524" x2="594.6" y2="527.6" stroke="#111" stroke-width="1.3" />
<line x1="557" y1="405.7" x2="594.6" y2="415.2" stroke="#111" stroke-width="1.0" />
<line x1="557" y1="419.4" x2="594.6" y2="426.8" stroke="#111" stroke-width="1.0" />
<line x1="557" y1="423.6" x2="594.6" y2="434.8" stroke="#111" stroke-width="1.0" />
<line x1="557" y1="426.8" x2="594.6" y2="443.7" stroke="#111" stroke-width="1.0" />
<line x1="557" y1="431.4" x2="594.6" y2="426.8" stroke="#111" stroke-width="1.0" />
<line x1="557" y1="435" x2="594.6" y2="447.9" stroke="#111" stroke-width="1.0" />
<line x1="557" y1="440.5" x2="594.6" y2="452.1" stroke="#111" stroke-width="1.0" />
<line x1="557" y1="443" x2="594.6" y2="448" stroke="#111" stroke-width="1.0" />
<line x1="557" y1="445.8" x2="594.6" y2="456.8" stroke="#111" stroke-width="1.0" />
<line x1="557" y1="455.3" x2="594.6" y2="456.8" stroke="#111" stroke-width="1.0" />
<line x1="557" y1="473.7" x2="594.6" y2="473.7" stroke="#111" stroke-width="1.0" />
<line x1="557" y1="428" x2="594.6" y2="452" stroke="#111" stroke-width="1.0" />
<line x1="557" y1="438" x2="594.6" y2="444" stroke="#111" stroke-width="1.0" />
<circle cx="557.0" cy="405.7" r="3.5" fill="#fff" stroke="#111" stroke-width="1.2"/>
<circle cx="557.0" cy="419.4" r="3.5" fill="#fff" stroke="#111" stroke-width="1.2"/>
<circle cx="557.0" cy="423.6" r="3.5" fill="#fff" stroke="#111" stroke-width="1.2"/>
<circle cx="557.0" cy="426.8" r="3.5" fill="#fff" stroke="#111" stroke-width="1.2"/>
<circle cx="557.0" cy="431.4" r="3.5" fill="#fff" stroke="#111" stroke-width="1.2"/>
<circle cx="557.0" cy="440.5" r="3.5" fill="#fff" stroke="#111" stroke-width="1.2"/>
<circle cx="557.0" cy="445.8" r="3.5" fill="#fff" stroke="#111" stroke-width="1.2"/>
<circle cx="557.0" cy="455.3" r="3.5" fill="#fff" stroke="#111" stroke-width="1.2"/>
<circle cx="557.0" cy="473.7" r="3.5" fill="#fff" stroke="#111" stroke-width="1.2"/>
<circle cx="594.6" cy="415.2" r="3.5" fill="#fff" stroke="#674b8e" stroke-width="1.2"/>
<circle cx="594.6" cy="426.8" r="3.5" fill="#fff" stroke="#674b8e" stroke-width="1.2"/>
<circle cx="594.6" cy="434.8" r="3.5" fill="#fff" stroke="#674b8e" stroke-width="1.2"/>
<circle cx="594.6" cy="443.7" r="3.5" fill="#fff" stroke="#674b8e" stroke-width="1.2"/>
<circle cx="594.6" cy="447.9" r="3.5" fill="#fff" stroke="#674b8e" stroke-width="1.2"/>
<circle cx="594.6" cy="452.1" r="3.5" fill="#fff" stroke="#674b8e" stroke-width="1.2"/>
<circle cx="594.6" cy="456.8" r="3.5" fill="#fff" stroke="#674b8e" stroke-width="1.2"/>
<circle cx="594.6" cy="473.7" r="3.5" fill="#fff" stroke="#674b8e" stroke-width="1.2"/>
<text x="557" y="538.7" font-size="11" text-anchor="middle" fill="#111" font-weight="normal" font-style="normal"  stroke="#111">WT</text>
<text x="595.6" y="538.7" font-size="11" text-anchor="middle" fill="#6c4fa6" font-style="italic" textLength="26.5" lengthAdjust="spacingAndGlyphs" stroke="#6c4fa6">Stat1<tspan font-size="6.1" dy="-4.2">-/-</tspan></text>
<text transform="translate(489.2,459.20000000000005) rotate(-90)" font-size="11" text-anchor="middle" fill="#111" stroke="#111">% Uptake <tspan fill="#cc2c20" stroke="#cc2c20">R1</tspan>+<tspan fill="#4a9be0" stroke="#4a9be0">R2</tspan></text>
<text transform="translate(503,460.6) rotate(-90)" font-size="11" text-anchor="middle" fill="#111" stroke="#111">(Normalized to WT)</text>
<text x="575.8" y="383.5" font-size="11" text-anchor="middle" fill="#111" font-weight="normal" font-style="normal"  stroke="#111">0.0010</text>
<line x1="557" y1="389.8" x2="595.1" y2="389.8" stroke="#111" stroke-width="1.3" />
<text transform="translate(622.3,370.8) scale(1.06,1)" font-size="17.2" font-weight="bold" fill="#000" stroke="#000" style="stroke-width:0.6px">H</text>
<line x1="685.3" y1="524" x2="685.3" y2="390.29999999999995" stroke="#111" stroke-width="1.3" />
<line x1="684.6999999999999" y1="524" x2="764.7" y2="524" stroke="#111" stroke-width="1.3" />
<line x1="681.9" y1="524.0" x2="685.3" y2="524.0" stroke="#111" stroke-width="1.3" />
<text x="679.9" y="526.2" font-size="11" text-anchor="end" fill="#111" font-weight="normal" font-style="normal"  stroke="#111">0</text>
<line x1="681.9" y1="490.725" x2="685.3" y2="490.725" stroke="#111" stroke-width="1.3" />
<text x="681.0999999999999" y="494.625" font-size="11" text-anchor="end" fill="#111" font-weight="normal" font-style="normal"  stroke="#111">50</text>
<line x1="681.9" y1="457.45" x2="685.3" y2="457.45" stroke="#111" stroke-width="1.3" />
<text x="681.0999999999999" y="461.34999999999997" font-size="11" text-anchor="end" fill="#111" font-weight="normal" font-style="normal"  stroke="#111">100</text>
<line x1="681.9" y1="424.17499999999995" x2="685.3" y2="424.17499999999995" stroke="#111" stroke-width="1.3" />
<text x="681.0999999999999" y="428.07499999999993" font-size="11" text-anchor="end" fill="#111" font-weight="normal" font-style="normal"  stroke="#111">150</text>
<line x1="681.9" y1="390.9" x2="685.3" y2="390.9" stroke="#111" stroke-width="1.3" />
<text x="681.0999999999999" y="394.79999999999995" font-size="11" text-anchor="end" fill="#111" font-weight="normal" font-style="normal"  stroke="#111">200</text>
<line x1="710.4" y1="524" x2="710.4" y2="527.6" stroke="#111" stroke-width="1.3" />
<line x1="748.9" y1="524" x2="748.9" y2="527.6" stroke="#111" stroke-width="1.3" />
<line x1="710.4" y1="429.4" x2="748.9" y2="411.6" stroke="#111" stroke-width="1.0" />
<line x1="710.4" y1="436.9" x2="748.9" y2="415.2" stroke="#111" stroke-width="1.0" />
<line x1="710.4" y1="443.7" x2="748.9" y2="424.7" stroke="#111" stroke-width="1.0" />
<line x1="710.4" y1="451.1" x2="748.9" y2="432.7" stroke="#111" stroke-width="1.0" />
<line x1="710.4" y1="460.6" x2="748.9" y2="439.5" stroke="#111" stroke-width="1.0" />
<line x1="710.4" y1="469.1" x2="748.9" y2="445.4" stroke="#111" stroke-width="1.0" />
<line x1="710.4" y1="472.9" x2="748.9" y2="453.2" stroke="#111" stroke-width="1.0" />
<line x1="710.4" y1="477.1" x2="748.9" y2="458.5" stroke="#111" stroke-width="1.0" />
<line x1="710.4" y1="484.3" x2="748.9" y2="463.2" stroke="#111" stroke-width="1.0" />
<line x1="710.4" y1="484.3" x2="748.9" y2="474.4" stroke="#111" stroke-width="1.0" />
<line x1="710.4" y1="477.1" x2="748.9" y2="432.7" stroke="#111" stroke-width="1.0" />
<line x1="710.4" y1="469.1" x2="748.9" y2="424.7" stroke="#111" stroke-width="1.0" />
<line x1="710.4" y1="460.6" x2="748.9" y2="445.4" stroke="#111" stroke-width="1.0" />
<line x1="710.4" y1="443.7" x2="748.9" y2="411.6" stroke="#111" stroke-width="1.0" />
<circle cx="710.4" cy="429.4" r="3.5" fill="#fff" stroke="#111" stroke-width="1.2"/>
<circle cx="710.4" cy="436.9" r="3.5" fill="#fff" stroke="#111" stroke-width="1.2"/>
<circle cx="710.4" cy="443.7" r="3.5" fill="#fff" stroke="#111" stroke-width="1.2"/>
<circle cx="710.4" cy="451.1" r="3.5" fill="#fff" stroke="#111" stroke-width="1.2"/>
<circle cx="710.4" cy="460.6" r="3.5" fill="#fff" stroke="#111" stroke-width="1.2"/>
<circle cx="710.4" cy="469.1" r="3.5" fill="#fff" stroke="#111" stroke-width="1.2"/>
<circle cx="710.4" cy="472.9" r="3.5" fill="#fff" stroke="#111" stroke-width="1.2"/>
<circle cx="710.4" cy="477.1" r="3.5" fill="#fff" stroke="#111" stroke-width="1.2"/>
<circle cx="710.4" cy="484.3" r="3.5" fill="#fff" stroke="#111" stroke-width="1.2"/>
<circle cx="748.9" cy="411.6" r="3.5" fill="#fff" stroke="#674b8e" stroke-width="1.2"/>
<circle cx="748.9" cy="415.2" r="3.5" fill="#fff" stroke="#674b8e" stroke-width="1.2"/>
<circle cx="748.9" cy="424.7" r="3.5" fill="#fff" stroke="#674b8e" stroke-width="1.2"/>
<circle cx="748.9" cy="432.7" r="3.5" fill="#fff" stroke="#674b8e" stroke-width="1.2"/>
<circle cx="748.9" cy="439.5" r="3.5" fill="#fff" stroke="#674b8e" stroke-width="1.2"/>
<circle cx="748.9" cy="445.4" r="3.5" fill="#fff" stroke="#674b8e" stroke-width="1.2"/>
<circle cx="748.9" cy="453.2" r="3.5" fill="#fff" stroke="#674b8e" stroke-width="1.2"/>
<circle cx="748.9" cy="458.5" r="3.5" fill="#fff" stroke="#674b8e" stroke-width="1.2"/>
<circle cx="748.9" cy="463.2" r="3.5" fill="#fff" stroke="#674b8e" stroke-width="1.2"/>
<circle cx="748.9" cy="474.4" r="3.5" fill="#fff" stroke="#674b8e" stroke-width="1.2"/>
<text x="710.4" y="538.7" font-size="11" text-anchor="middle" fill="#111" font-weight="normal" font-style="normal"  stroke="#111">WT</text>
<text x="749.9" y="538.7" font-size="11" text-anchor="middle" fill="#6c4fa6" font-style="italic" textLength="26.5" lengthAdjust="spacingAndGlyphs" stroke="#6c4fa6">Stat1<tspan font-size="6.1" dy="-4.2">-/-</tspan></text>
<text transform="translate(632.3,454.3) rotate(-90)" font-size="11" text-anchor="middle" fill="#111" stroke="#111">% Aspergillus Viability</text>
<text transform="translate(645,457.2) rotate(-90)" font-size="11" text-anchor="middle" fill="#111" stroke="#111"><tspan fill="#cc2c20" stroke="#cc2c20">R1</tspan>/(<tspan fill="#cc2c20" stroke="#cc2c20">R1</tspan>+<tspan fill="#4a9be0" stroke="#4a9be0">R2</tspan>)</text>
<text transform="translate(657.7,456.40000000000003) rotate(-90)" font-size="11" text-anchor="middle" fill="#111" stroke="#111">(Normalized to WT)</text>
<text x="729.65" y="389.9" font-size="11" text-anchor="middle" fill="#111" font-weight="normal" font-style="normal"  stroke="#111">0.0002</text>
<line x1="710.4" y1="395.6" x2="749.4" y2="395.6" stroke="#111" stroke-width="1.3" />
<text transform="translate(-1.2,579.5) scale(1.06,1)" font-size="17.2" font-weight="bold" fill="#000" stroke="#000" style="stroke-width:0.6px">I</text>
<use href="#mD" transform="translate(0,603) scale(1.0)"/>
<use href="#mD" transform="translate(145,603) scale(1.0)"/>
<line x1="102.8" y1="633.3" x2="167.0" y2="633.3" stroke="#111" stroke-width="1.1" />
<path d="M173,633.3 L166.5,630.6999999999999 L166.5,635.9 Z" fill="#111"/>
<text x="129.8" y="626.8" font-size="11" text-anchor="middle" fill="#111" font-weight="normal" font-style="normal"  stroke="#111">BM cells</text>
<path d="M211.4,582.6 L208.20000000000002,593.2 L214.5,593.3000000000001 L212.70000000000002,599.1" fill="none" stroke="#111" stroke-width="1.55" stroke-linejoin="miter"/>
<path d="M210.3,597.8000000000001 L215.1,599.3000000000001 L211.3,603.4 Z" fill="#111"/>
<text x="225.2" y="593.4" font-size="11" text-anchor="start" fill="#111" font-weight="normal" font-style="normal"  stroke="#111">900 cGy</text>
<line x1="240.3" y1="632.5" x2="291.3" y2="632.5" stroke="#111" stroke-width="1.1" />
<path d="M297.3,632.5 L290.8,629.9 L290.8,635.1 Z" fill="#111"/>
<text x="265.3" y="626.8" font-size="11" text-anchor="middle" fill="#111" font-weight="normal" font-style="normal"  stroke="#111">6 wks</text>
<text x="306.1" y="635.2" font-size="11" text-anchor="start" fill="#111" font-weight="normal" font-style="normal"  stroke="#111">i.n. <tspan font-style="italic">A. fumigatus</tspan></text>
<text x="38.6" y="664.9" font-size="11" text-anchor="start" fill="#6c4fa6" font-style="italic" textLength="24.3" lengthAdjust="spacingAndGlyphs" stroke="#6c4fa6">Stat1<tspan font-size="6.1" dy="-4.2">-/-</tspan></text>
<text x="66.9" y="664.9" font-size="11" text-anchor="start" fill="#111" font-weight="normal" font-style="normal"  stroke="#111">or WT</text>
<text x="68" y="678.3" font-size="11" text-anchor="middle" fill="#111" font-weight="normal" font-style="normal"  stroke="#111">(CD45.2<tspan font-size="6.5" dy="-4">+</tspan><tspan dy="4">)</tspan></text>
<text x="211.9" y="663.6" font-size="11" text-anchor="middle" fill="#111" font-weight="normal" font-style="normal"  stroke="#111">WT</text>
<text x="211.9" y="678.6" font-size="11" text-anchor="middle" fill="#111" font-weight="normal" font-style="normal"  stroke="#111">(CD45.1<tspan font-size="6.5" dy="-4">+</tspan><tspan dy="4">)</tspan></text>
<text transform="translate(414.5,544.5) scale(1.06,1)" font-size="17.2" font-weight="bold" fill="#000" stroke="#000" style="stroke-width:0.6px">J</text>
<line x1="441.2" y1="695.7" x2="441.2" y2="551.1" stroke="#111" stroke-width="1.3" />
<line x1="440.6" y1="695.7" x2="755.1" y2="695.7" stroke="#111" stroke-width="1.3" />
<line x1="437.4" y1="695.7" x2="441.2" y2="695.7" stroke="#111" stroke-width="1.3" />
<text x="434.2" y="699.6" font-size="11" text-anchor="end" fill="#111" font-weight="normal" font-style="normal"  stroke="#111">0</text>
<line x1="437.4" y1="659.7" x2="441.2" y2="659.7" stroke="#111" stroke-width="1.3" />
<text x="434.2" y="663.6" font-size="11" text-anchor="end" fill="#111" font-weight="normal" font-style="normal"  stroke="#111">1</text>
<line x1="437.4" y1="623.7" x2="441.2" y2="623.7" stroke="#111" stroke-width="1.3" />
<text x="434.2" y="627.6" font-size="11" text-anchor="end" fill="#111" font-weight="normal" font-style="normal"  stroke="#111">2</text>
<line x1="437.4" y1="587.7" x2="441.2" y2="587.7" stroke="#111" stroke-width="1.3" />
<text x="434.2" y="591.6" font-size="11" text-anchor="end" fill="#111" font-weight="normal" font-style="normal"  stroke="#111">3</text>
<line x1="437.4" y1="551.7" x2="441.2" y2="551.7" stroke="#111" stroke-width="1.3" />
<text x="434.2" y="555.6" font-size="11" text-anchor="end" fill="#111" font-weight="normal" font-style="normal"  stroke="#111">4</text>
<text transform="translate(424.5,627.5) rotate(-90)" font-size="11" text-anchor="middle" fill="#111" stroke="#111">Log10 pg / ml</text>
<line x1="461.5" y1="695.7" x2="461.5" y2="698.7" stroke="#111" stroke-width="1.2" />
<line x1="506.9" y1="695.7" x2="506.9" y2="698.7" stroke="#111" stroke-width="1.2" />
<line x1="552.7" y1="695.7" x2="552.7" y2="698.7" stroke="#111" stroke-width="1.2" />
<line x1="598.4" y1="695.7" x2="598.4" y2="698.7" stroke="#111" stroke-width="1.2" />
<line x1="644.1" y1="695.7" x2="644.1" y2="698.7" stroke="#111" stroke-width="1.2" />
<line x1="690" y1="695.7" x2="690" y2="698.7" stroke="#111" stroke-width="1.2" />
<line x1="735.5" y1="695.7" x2="735.5" y2="698.7" stroke="#111" stroke-width="1.2" />
<text x="459.8" y="710.1" font-size="11" text-anchor="middle" fill="#111" font-weight="normal" font-style="normal"  stroke="#111">IFNα 2/4</text>
<text x="506.9" y="710.1" font-size="11" text-anchor="middle" fill="#111" font-weight="normal" font-style="normal"  stroke="#111">IFNλ 2/3</text>
<text x="554.2" y="710.1" font-size="11" text-anchor="middle" fill="#111" font-weight="normal" font-style="normal"  stroke="#111">IL1β</text>
<text x="598.5" y="710.1" font-size="11" text-anchor="middle" fill="#111" font-weight="normal" font-style="normal"  stroke="#111">IL6</text>
<text x="644.7" y="710.1" font-size="11" text-anchor="middle" fill="#111" font-weight="normal" font-style="normal"  stroke="#111">IL12p70</text>
<text x="690.3" y="710.1" font-size="11" text-anchor="middle" fill="#111" font-weight="normal" font-style="normal"  stroke="#111">IL23</text>
<text x="736" y="710.1" font-size="11" text-anchor="middle" fill="#111" font-weight="normal" font-style="normal"  stroke="#111">TNFα</text>
<rect x="447.5" y="608.3" width="11" height="87.40000000000009" fill="#0c0a0a"/>
<rect x="492.9" y="592.8" width="11" height="102.90000000000009" fill="#0c0a0a"/>
<rect x="538.7" y="574.8" width="11" height="120.90000000000009" fill="#0c0a0a"/>
<rect x="584.4" y="578.7" width="11" height="117.0" fill="#0c0a0a"/>
<rect x="630.1" y="622.8" width="11" height="72.90000000000009" fill="#0c0a0a"/>
<rect x="676" y="608.8" width="11" height="86.90000000000009" fill="#0c0a0a"/>
<rect x="721.5" y="568.1" width="11" height="127.60000000000002" fill="#0c0a0a"/>
<rect x="464.5" y="605.7" width="11" height="90.0" fill="#674b8e"/>
<rect x="509.9" y="586.4" width="11" height="109.30000000000007" fill="#674b8e"/>
<rect x="555.7" y="581.3" width="11" height="114.40000000000009" fill="#674b8e"/>
<rect x="601.4" y="583.9" width="11" height="111.80000000000007" fill="#674b8e"/>
<rect x="647.1" y="629.7" width="11" height="66.0" fill="#674b8e"/>
<rect x="693" y="611.4" width="11" height="84.30000000000007" fill="#674b8e"/>
<rect x="738.5" y="580.8" width="11" height="114.90000000000009" fill="#674b8e"/>
<line x1="453.0" y1="604.5" x2="453.0" y2="608.8" stroke="#0c0a0a" stroke-width="1.2" />
<line x1="450.0" y1="604.5" x2="456.0" y2="604.5" stroke="#0c0a0a" stroke-width="1.2" />
<line x1="470.0" y1="601" x2="470.0" y2="606.2" stroke="#674b8e" stroke-width="1.2" />
<line x1="467.0" y1="601" x2="473.0" y2="601" stroke="#674b8e" stroke-width="1.2" />
<line x1="498.4" y1="588" x2="498.4" y2="593.3" stroke="#0c0a0a" stroke-width="1.2" />
<line x1="495.4" y1="588" x2="501.4" y2="588" stroke="#0c0a0a" stroke-width="1.2" />
<line x1="515.4" y1="585" x2="515.4" y2="586.9" stroke="#674b8e" stroke-width="1.2" />
<line x1="512.4" y1="585" x2="518.4" y2="585" stroke="#674b8e" stroke-width="1.2" />
<line x1="544.2" y1="572.5" x2="544.2" y2="575.3" stroke="#0c0a0a" stroke-width="1.2" />
<line x1="541.2" y1="572.5" x2="547.2" y2="572.5" stroke="#0c0a0a" stroke-width="1.2" />
<line x1="561.2" y1="571" x2="561.2" y2="581.8" stroke="#674b8e" stroke-width="1.2" />
<line x1="558.2" y1="571" x2="564.2" y2="571" stroke="#674b8e" stroke-width="1.2" />
<line x1="589.9" y1="576" x2="589.9" y2="579.2" stroke="#0c0a0a" stroke-width="1.2" />
<line x1="586.9" y1="576" x2="592.9" y2="576" stroke="#0c0a0a" stroke-width="1.2" />
<line x1="606.9" y1="572" x2="606.9" y2="584.4" stroke="#674b8e" stroke-width="1.2" />
<line x1="603.9" y1="572" x2="609.9" y2="572" stroke="#674b8e" stroke-width="1.2" />
<line x1="635.6" y1="613" x2="635.6" y2="623.3" stroke="#0c0a0a" stroke-width="1.2" />
<line x1="632.6" y1="613" x2="638.6" y2="613" stroke="#0c0a0a" stroke-width="1.2" />
<line x1="652.6" y1="625" x2="652.6" y2="630.2" stroke="#674b8e" stroke-width="1.2" />
<line x1="649.6" y1="625" x2="655.6" y2="625" stroke="#674b8e" stroke-width="1.2" />
<line x1="681.5" y1="604" x2="681.5" y2="609.3" stroke="#0c0a0a" stroke-width="1.2" />
<line x1="678.5" y1="604" x2="684.5" y2="604" stroke="#0c0a0a" stroke-width="1.2" />
<line x1="698.5" y1="606" x2="698.5" y2="611.9" stroke="#674b8e" stroke-width="1.2" />
<line x1="695.5" y1="606" x2="701.5" y2="606" stroke="#674b8e" stroke-width="1.2" />
<line x1="727.0" y1="566" x2="727.0" y2="568.6" stroke="#0c0a0a" stroke-width="1.2" />
<line x1="724.0" y1="566" x2="730.0" y2="566" stroke="#0c0a0a" stroke-width="1.2" />
<line x1="744.0" y1="569" x2="744.0" y2="581.3" stroke="#674b8e" stroke-width="1.2" />
<line x1="741.0" y1="569" x2="747.0" y2="569" stroke="#674b8e" stroke-width="1.2" />
<circle cx="450.0" cy="605.5" r="2.6" fill="#fff" stroke="#0c0a0a" stroke-width="1.2"/>
<circle cx="453.0" cy="603.5" r="2.6" fill="#fff" stroke="#0c0a0a" stroke-width="1.2"/>
<circle cx="456.0" cy="606.0" r="2.6" fill="#fff" stroke="#0c0a0a" stroke-width="1.2"/>
<circle cx="451.0" cy="611" r="2.4" fill="#fff"/>
<circle cx="454.0" cy="608.5" r="2.6" fill="#fff" stroke="#0c0a0a" stroke-width="1.2"/>
<circle cx="449.5" cy="615" r="2.4" fill="#fff"/>
<circle cx="468.5" cy="602.0" r="2.6" fill="#fff" stroke="#674b8e" stroke-width="1.2"/>
<circle cx="472.0" cy="599.5" r="2.6" fill="#fff" stroke="#674b8e" stroke-width="1.2"/>
<circle cx="467.5" cy="607.5" r="2.6" fill="#fff" stroke="#674b8e" stroke-width="1.2"/>
<circle cx="472.5" cy="607.5" r="2.6" fill="#fff" stroke="#674b8e" stroke-width="1.2"/>
<circle cx="498.4" cy="582.0" r="2.6" fill="#fff" stroke="#0c0a0a" stroke-width="1.2"/>
<circle cx="495.4" cy="588.0" r="2.6" fill="#fff" stroke="#0c0a0a" stroke-width="1.2"/>
<circle cx="501.4" cy="588.0" r="2.6" fill="#fff" stroke="#0c0a0a" stroke-width="1.2"/>
<circle cx="498.4" cy="590.0" r="2.6" fill="#fff" stroke="#0c0a0a" stroke-width="1.2"/>
<circle cx="496.9" cy="600" r="2.4" fill="#fff"/>
<circle cx="498.4" cy="605" r="2.4" fill="#fff"/>
<circle cx="513.9" cy="584.5" r="2.6" fill="#fff" stroke="#674b8e" stroke-width="1.2"/>
<circle cx="517.4" cy="587.0" r="2.6" fill="#fff" stroke="#674b8e" stroke-width="1.2"/>
<circle cx="512.9" cy="587.5" r="2.6" fill="#fff" stroke="#674b8e" stroke-width="1.2"/>
<circle cx="516.4" cy="590" r="2.4" fill="#fff"/>
<circle cx="518.4" cy="587.5" r="2.6" fill="#fff" stroke="#674b8e" stroke-width="1.2"/>
<circle cx="541.2" cy="573.5" r="2.6" fill="#fff" stroke="#0c0a0a" stroke-width="1.2"/>
<circle cx="544.2" cy="572.5" r="2.6" fill="#fff" stroke="#0c0a0a" stroke-width="1.2"/>
<circle cx="547.2" cy="574.0" r="2.6" fill="#fff" stroke="#0c0a0a" stroke-width="1.2"/>
<circle cx="545.7" cy="575.5" r="2.6" fill="#fff" stroke="#0c0a0a" stroke-width="1.2"/>
<circle cx="542.7" cy="575.5" r="2.6" fill="#fff" stroke="#0c0a0a" stroke-width="1.2"/>
<circle cx="558.7" cy="572.0" r="2.6" fill="#fff" stroke="#674b8e" stroke-width="1.2"/>
<circle cx="563.7" cy="572.0" r="2.6" fill="#fff" stroke="#674b8e" stroke-width="1.2"/>
<circle cx="561.2" cy="576.5" r="2.6" fill="#fff" stroke="#674b8e" stroke-width="1.2"/>
<circle cx="561.2" cy="601.5" r="2.4" fill="#fff"/>
<circle cx="589.9" cy="573.0" r="2.6" fill="#fff" stroke="#0c0a0a" stroke-width="1.2"/>
<circle cx="587.4" cy="578.0" r="2.6" fill="#fff" stroke="#0c0a0a" stroke-width="1.2"/>
<circle cx="592.4" cy="578.0" r="2.6" fill="#fff" stroke="#0c0a0a" stroke-width="1.2"/>
<circle cx="604.4" cy="571.0" r="2.6" fill="#fff" stroke="#674b8e" stroke-width="1.2"/>
<circle cx="609.4" cy="571.0" r="2.6" fill="#fff" stroke="#674b8e" stroke-width="1.2"/>
<circle cx="606.9" cy="578.0" r="2.6" fill="#fff" stroke="#674b8e" stroke-width="1.2"/>
<circle cx="606.9" cy="618" r="2.4" fill="#fff"/>
<circle cx="635.6" cy="605.0" r="2.6" fill="#fff" stroke="#0c0a0a" stroke-width="1.2"/>
<circle cx="637.1" cy="617.5" r="2.6" fill="#fff" stroke="#0c0a0a" stroke-width="1.2"/>
<circle cx="633.1" cy="620.0" r="2.6" fill="#fff" stroke="#0c0a0a" stroke-width="1.2"/>
<circle cx="638.1" cy="632" r="2.4" fill="#fff"/>
<circle cx="632.6" cy="637" r="2.4" fill="#fff"/>
<circle cx="652.6" cy="619.0" r="2.6" fill="#fff" stroke="#674b8e" stroke-width="1.2"/>
<circle cx="650.1" cy="627.0" r="2.6" fill="#fff" stroke="#674b8e" stroke-width="1.2"/>
<circle cx="655.1" cy="632.0" r="2.6" fill="#fff" stroke="#674b8e" stroke-width="1.2"/>
<circle cx="652.1" cy="637.5" r="2.4" fill="#fff"/>
<circle cx="679.0" cy="605.5" r="2.6" fill="#fff" stroke="#0c0a0a" stroke-width="1.2"/>
<circle cx="684.0" cy="604.5" r="2.6" fill="#fff" stroke="#0c0a0a" stroke-width="1.2"/>
<circle cx="678.5" cy="610.0" r="2.6" fill="#fff" stroke="#0c0a0a" stroke-width="1.2"/>
<circle cx="681.5" cy="608.0" r="2.6" fill="#fff" stroke="#0c0a0a" stroke-width="1.2"/>
<circle cx="684.5" cy="609.5" r="2.6" fill="#fff" stroke="#0c0a0a" stroke-width="1.2"/>
<circle cx="698.5" cy="601.0" r="2.6" fill="#fff" stroke="#674b8e" stroke-width="1.2"/>
<circle cx="696.5" cy="607.0" r="2.6" fill="#fff" stroke="#674b8e" stroke-width="1.2"/>
<circle cx="701.5" cy="612.0" r="2.6" fill="#fff" stroke="#674b8e" stroke-width="1.2"/>
<circle cx="696.5" cy="615" r="2.4" fill="#fff"/>
<circle cx="724.5" cy="566.5" r="2.6" fill="#fff" stroke="#0c0a0a" stroke-width="1.2"/>
<circle cx="727.5" cy="566.0" r="2.6" fill="#fff" stroke="#0c0a0a" stroke-width="1.2"/>
<circle cx="730.0" cy="568.0" r="2.6" fill="#fff" stroke="#0c0a0a" stroke-width="1.2"/>
<circle cx="726.0" cy="572" r="2.4" fill="#fff"/>
<circle cx="725.0" cy="576" r="2.4" fill="#fff"/>
<circle cx="742.0" cy="566.0" r="2.6" fill="#fff" stroke="#674b8e" stroke-width="1.2"/>
<circle cx="746.0" cy="562.0" r="2.6" fill="#fff" stroke="#674b8e" stroke-width="1.2"/>
<circle cx="744.0" cy="586" r="2.4" fill="#fff"/>
<circle cx="744.0" cy="608" r="2.4" fill="#fff"/>
<circle cx="450.4" cy="554.9" r="2.7" fill="#fff" stroke="#111" stroke-width="1.35"/>
<text x="455.3" y="558.9" font-size="11" text-anchor="start" fill="#111" font-weight="normal" font-style="normal"  stroke="#111">WT</text>
<line x1="475.8" y1="555.3" x2="487.0" y2="555.3" stroke="#111" stroke-width="1.2" />
<path d="M491.5,555.3 L486.5,553.0999999999999 L486.5,557.5 Z" fill="#111"/>
<text x="496.4" y="558.9" font-size="11" text-anchor="start" fill="#111" font-weight="normal" font-style="normal"  stroke="#111">WT</text>
<circle cx="450.1" cy="574.3" r="2.7" fill="#fff" stroke="#674b8e" stroke-width="1.35"/>
<text x="455.3" y="576.9" font-size="11" text-anchor="start" fill="#6c4fa6" font-style="italic" textLength="26.5" lengthAdjust="spacingAndGlyphs" stroke="#6c4fa6">Stat1<tspan font-size="6.1" dy="-4.2">-/-</tspan></text>
<line x1="483.5" y1="573.5" x2="495.0" y2="573.5" stroke="#111" stroke-width="1.2" />
<path d="M499.5,573.5 L494.5,571.3 L494.5,575.7 Z" fill="#111"/>
<text x="500.3" y="576.9" font-size="11" text-anchor="start" fill="#111" font-weight="normal" font-style="normal"  stroke="#111">WT</text>
<text transform="translate(-0.5,730.2) scale(1.06,1)" font-size="17.2" font-weight="bold" fill="#000" stroke="#000" style="stroke-width:0.6px">K</text>
<line x1="40" y1="871" x2="40" y2="738" stroke="#111" stroke-width="1.3" />
<line x1="39.4" y1="871" x2="204.5" y2="871" stroke="#111" stroke-width="1.3" />
<line x1="36.6" y1="738.6" x2="40" y2="738.6" stroke="#111" stroke-width="1.3" />
<text x="32.4" y="742.5" font-size="11" text-anchor="end" fill="#111" font-weight="normal" font-style="normal"  stroke="#111">100</text>
<line x1="36.6" y1="804.8" x2="40" y2="804.8" stroke="#111" stroke-width="1.3" />
<text x="32.4" y="808.6999999999999" font-size="11" text-anchor="end" fill="#111" font-weight="normal" font-style="normal"  stroke="#111">50</text>
<line x1="36.6" y1="871" x2="40" y2="871" stroke="#111" stroke-width="1.3" />
<text x="32.4" y="874.9" font-size="11" text-anchor="end" fill="#111" font-weight="normal" font-style="normal"  stroke="#111">0</text>
<line x1="40" y1="871" x2="40" y2="874.6" stroke="#111" stroke-width="1.3" />
<line x1="80.2" y1="871" x2="80.2" y2="874.6" stroke="#111" stroke-width="1.3" />
<line x1="121.4" y1="871" x2="121.4" y2="874.6" stroke="#111" stroke-width="1.3" />
<line x1="162.6" y1="871" x2="162.6" y2="874.6" stroke="#111" stroke-width="1.3" />
<line x1="203.8" y1="871" x2="203.8" y2="874.6" stroke="#111" stroke-width="1.3" />
<text x="42.6" y="887" font-size="11" text-anchor="middle" fill="#111" font-weight="normal" font-style="normal"  stroke="#111">0</text>
<text x="80.2" y="887" font-size="11" text-anchor="middle" fill="#111" font-weight="normal" font-style="normal"  stroke="#111">2</text>
<text x="121.6" y="887" font-size="11" text-anchor="middle" fill="#111" font-weight="normal" font-style="normal"  stroke="#111">4</text>
<text x="162.8" y="887" font-size="11" text-anchor="middle" fill="#111" font-weight="normal" font-style="normal"  stroke="#111">6</text>
<text x="203.4" y="887" font-size="11" text-anchor="middle" fill="#111" font-weight="normal" font-style="normal"  stroke="#111">8</text>
<text x="121" y="897.2" font-size="11" text-anchor="middle" fill="#111" font-weight="normal" font-style="normal"  stroke="#111">Days</text>
<text transform="translate(12.3,807) rotate(-90)" font-size="11" text-anchor="middle" fill="#111" stroke="#111">% Survival</text>
<path d="M80.2,752 L80.2,776.5 L100.9,776.5 L100.9,871" fill="none" stroke="#674b8e" stroke-width="1.6" stroke-dasharray="5,3"/>
<path d="M40,738.6 L80.2,738.6 L80.2,752 L203.2,752" fill="none" stroke="#111" stroke-width="1.6"/>
<circle cx="80.2" cy="752" r="4" fill="#111"/><circle cx="203.2" cy="752" r="4" fill="#111"/>
<circle cx="80.2" cy="776.5" r="3.7" fill="#fff" stroke="#674b8e" stroke-width="1.5"/>
<circle cx="100.9" cy="871.0" r="3.7" fill="#fff" stroke="#674b8e" stroke-width="1.5"/>
<text x="144.4" y="770.9" font-size="10.5" fill="#111" stroke="#111"><tspan font-style="italic">P</tspan> = 0.0009</text>
<line x1="109.9" y1="844.4" x2="124.7" y2="844.4" stroke="#111" stroke-width="1.5" />
<circle cx="117.3" cy="844.4" r="3.9" fill="#111"/>
<text x="127" y="848.7" font-size="11" text-anchor="start" fill="#111" font-weight="normal" font-style="normal"  stroke="#111">WT</text>
<line x1="147.4" y1="844.6" x2="157.2" y2="844.6" stroke="#111" stroke-width="1.6" />
<path d="M163.2,844.6 L156.7,842.2 L156.7,847.0 Z" fill="#111"/>
<text x="167.1" y="848.7" font-size="11" text-anchor="start" fill="#111" font-weight="normal" font-style="normal"  stroke="#111">WT</text>
<line x1="109.9" y1="862.8" x2="124.7" y2="862.8" stroke="#674b8e" stroke-width="1.5" stroke-dasharray="3,2"/>
<circle cx="117.3" cy="862.8" r="3.7" fill="#fff" stroke="#674b8e" stroke-width="1.5"/>
<text x="128" y="866.2" font-size="11" text-anchor="start" fill="#6c4fa6" font-style="italic" textLength="26.5" lengthAdjust="spacingAndGlyphs" stroke="#6c4fa6">Stat1<tspan font-size="6.1" dy="-4.2">-/-</tspan></text>
<line x1="158.8" y1="863" x2="169.0" y2="863" stroke="#111" stroke-width="1.6" />
<path d="M175,863 L168.5,860.6 L168.5,865.4 Z" fill="#111"/>
<text x="178.1" y="866.2" font-size="11" text-anchor="start" fill="#111" font-weight="normal" font-style="normal"  stroke="#111">WT</text>
<text transform="translate(244,730.6) scale(1.06,1)" font-size="17.2" font-weight="bold" fill="#000" stroke="#000" style="stroke-width:0.6px">L</text>
<rect x="283.2" y="731.9" width="141.4" height="141.3" fill="none" stroke="#111" stroke-width="1.3"/>
<line x1="283.2" y1="873.2" x2="424.6" y2="873.2" stroke="#111" stroke-width="1.5" />
<line x1="279.8" y1="747.3" x2="283.2" y2="747.3" stroke="#111" stroke-width="1.3" />
<text x="278.2" y="751.1999999999999" font-size="11" text-anchor="end" fill="#111" font-weight="normal" font-style="normal"  stroke="#111">300</text>
<line x1="279.8" y1="789.2" x2="283.2" y2="789.2" stroke="#111" stroke-width="1.3" />
<text x="278.2" y="793.1" font-size="11" text-anchor="end" fill="#111" font-weight="normal" font-style="normal"  stroke="#111">200</text>
<line x1="279.8" y1="831.3" x2="283.2" y2="831.3" stroke="#111" stroke-width="1.3" />
<text x="278.2" y="835.1999999999999" font-size="11" text-anchor="end" fill="#111" font-weight="normal" font-style="normal"  stroke="#111">100</text>
<line x1="279.8" y1="873.2" x2="283.2" y2="873.2" stroke="#111" stroke-width="1.3" />
<text x="278.2" y="877.1" font-size="11" text-anchor="end" fill="#111" font-weight="normal" font-style="normal"  stroke="#111">0</text>
<text transform="translate(252.2,801.3) rotate(-90)" font-size="11" text-anchor="middle" fill="#111" stroke="#111">Count</text>
<text x="288.8" y="746" font-size="11" text-anchor="start" fill="#111" font-weight="normal" font-style="normal"  stroke="#111">NØ Gate</text>
<text x="384" y="749" font-size="11" text-anchor="middle" fill="#111" font-weight="normal" font-style="normal"  stroke="#111">ROS<tspan font-size="6.5" dy="-4">+</tspan></text>
<line x1="340.3" y1="754.2" x2="422.5" y2="754.2" stroke="#111" stroke-width="1.2" />
<line x1="340.3" y1="749.8" x2="340.3" y2="758.6" stroke="#111" stroke-width="1.2" />
<line x1="422.5" y1="749.8" x2="422.5" y2="758.6" stroke="#111" stroke-width="1.2" />
<path d="M283.2,883.5 L368,885.4" stroke="#111" stroke-width="1.1"/><path d="M374.2,885.6 L367.5,882.9 L367.4,888.1 Z" fill="#111"/>
<text x="284.2" y="899" font-size="11" text-anchor="start" fill="#111" font-weight="normal" font-style="normal"  stroke="#111">ROS</text>
<polyline points="332.5,873.2 334.5,867 336.4,864.2 339,865 342,863.5 345.4,862.5 348,858 350.5,852 353,838.5 355.5,818 358.3,794.8 360,782 362,771.7 363.5,767.5 365.2,766.2 366.8,767 368.5,770.4 370.5,785 372.4,800 375.5,818 378.8,833.4 382,848 385.2,859.1 388.5,867 391.7,872 394.2,873.2" fill="none" stroke="#674b8e" stroke-width="1.45" stroke-linejoin="round"/>
<polyline points="349.3,873.2 351.5,868.5 354.4,865.5 357.5,863.5 360.8,861.7 363.5,855 366,843.7 368.5,833 371.1,820.5 373,806 375,794.8 377,786.5 378.8,783.3 380.5,776 382,769.6 383.5,774 384.5,772 385.2,776.8 386.5,777.5 387.8,780.7 389.5,786 391.7,792.3 393.5,804 395.5,818 397.5,833 399.4,846.2 402,858 404.5,866.8 407,870 409.7,871.4 412,872.6 414.8,873.2" fill="none" stroke="#111" stroke-width="1.45" stroke-linejoin="round"/>
<text transform="translate(470.8,730.2) scale(1.06,1)" font-size="17.2" font-weight="bold" fill="#000" stroke="#000" style="stroke-width:0.6px">M</text>
<line x1="500.1" y1="874.1" x2="500.1" y2="740.7" stroke="#111" stroke-width="1.3" />
<line x1="499.5" y1="874.1" x2="588.8" y2="874.1" stroke="#111" stroke-width="1.3" />
<line x1="496.8" y1="874.1" x2="500.1" y2="874.1" stroke="#111" stroke-width="1.3" />
<text x="496.4" y="878.7" font-size="11" text-anchor="end" fill="#111" font-weight="normal" font-style="normal"  stroke="#111">0</text>
<line x1="496.8" y1="840.9" x2="500.1" y2="840.9" stroke="#111" stroke-width="1.3" />
<text x="496.4" y="845.5" font-size="11" text-anchor="end" fill="#111" font-weight="normal" font-style="normal"  stroke="#111">5</text>
<line x1="496.8" y1="807.7" x2="500.1" y2="807.7" stroke="#111" stroke-width="1.3" />
<text x="496.4" y="812.3000000000001" font-size="11" text-anchor="end" fill="#111" font-weight="normal" font-style="normal"  stroke="#111">10</text>
<line x1="496.8" y1="774.5" x2="500.1" y2="774.5" stroke="#111" stroke-width="1.3" />
<text x="496.4" y="779.1" font-size="11" text-anchor="end" fill="#111" font-weight="normal" font-style="normal"  stroke="#111">15</text>
<line x1="496.8" y1="741.3" x2="500.1" y2="741.3" stroke="#111" stroke-width="1.3" />
<text x="496.4" y="745.9" font-size="11" text-anchor="end" fill="#111" font-weight="normal" font-style="normal"  stroke="#111">20</text>
<text transform="translate(479.7,807) rotate(-90)" font-size="11" text-anchor="middle" fill="#111" stroke="#111">ROS (MFIX1000)</text>
<line x1="525.9" y1="874.1" x2="525.9" y2="877.1" stroke="#111" stroke-width="1.2" />
<line x1="563.6" y1="874.1" x2="563.6" y2="877.1" stroke="#111" stroke-width="1.2" />
<rect x="513.2" y="798.7" width="24.5" height="75.39999999999998" fill="#0c0a0a"/>
<rect x="551.2" y="824" width="24.9" height="50.10000000000002" fill="#674b8e"/>
<line x1="525.9" y1="784.3" x2="525.9" y2="799" stroke="#111" stroke-width="1.3" />
<line x1="519.3" y1="784.3" x2="532.4" y2="784.3" stroke="#111" stroke-width="1.3" />
<line x1="563.6" y1="813.5" x2="563.6" y2="824.5" stroke="#674b8e" stroke-width="1.3" />
<line x1="558" y1="813.5" x2="569.2" y2="813.5" stroke="#674b8e" stroke-width="1.3" />
<circle cx="525.9" cy="774.4" r="3.8" fill="#fff" stroke="#111" stroke-width="1.5"/>
<circle cx="517.4" cy="801.2" r="3.8" fill="#fff" stroke="#111" stroke-width="1.5"/>
<circle cx="533.9" cy="801.2" r="3.8" fill="#fff" stroke="#111" stroke-width="1.5"/>
<circle cx="525.9" cy="806.7" r="3.5" fill="#fff"/>
<circle cx="525.9" cy="819.4" r="3.5" fill="#fff"/>
<circle cx="559.2" cy="810.9" r="3.8" fill="#fff" stroke="#674b8e" stroke-width="1.5"/>
<circle cx="567.7" cy="814.9" r="3.8" fill="#fff" stroke="#674b8e" stroke-width="1.5"/>
<circle cx="554.6" cy="830.4" r="3.8" fill="#fff" stroke="#674b8e" stroke-width="1.4"/>
<circle cx="563.5" cy="830.4" r="3.8" fill="#fff" stroke="#674b8e" stroke-width="1.4"/>
<circle cx="572.3" cy="830.4" r="3.8" fill="#fff" stroke="#674b8e" stroke-width="1.4"/>
<text x="544.3" y="753.3" font-size="11" text-anchor="middle" fill="#111" font-weight="normal" font-style="normal"  stroke="#111">0.0317</text>
<line x1="525" y1="759" x2="564.1" y2="759" stroke="#111" stroke-width="1.3" />
<text x="525.9" y="886.3" font-size="11" text-anchor="middle" fill="#111" font-weight="normal" font-style="normal"  stroke="#111">WT</text>
<text x="564.6" y="886.3" font-size="11" text-anchor="middle" fill="#6c4fa6" font-style="italic" textLength="26.5" lengthAdjust="spacingAndGlyphs" stroke="#6c4fa6">Stat1<tspan font-size="6.1" dy="-4.2">-/-</tspan></text>
</svg></body></html>
